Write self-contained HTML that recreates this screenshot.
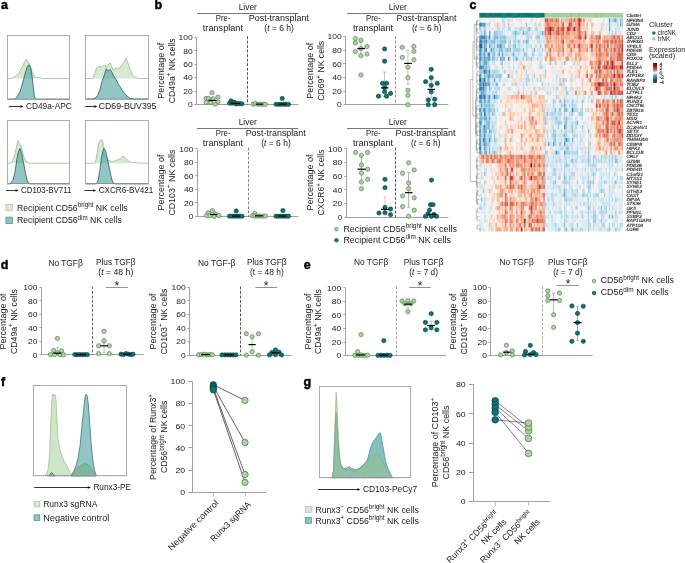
<!DOCTYPE html>
<html><head><meta charset="utf-8"><title>Figure</title>
<style>
html,body{margin:0;padding:0;background:#fff;}
body{width:685px;height:563px;overflow:hidden;}
svg{display:block;will-change:transform;}
text{font-family:"Liberation Sans",sans-serif;}
</style></head><body>
<svg width="685" height="563" viewBox="0 0 685 563" fill="#1a1a1a">
<rect width="685" height="563" fill="#fff"/>
<g stroke="#000" stroke-width="0.45" stroke-linejoin="round">
<text x="0.90" y="9.10" font-size="12.5" font-weight="bold" fill="#000">a</text>
<text x="154.50" y="8.60" font-size="12.5" font-weight="bold" fill="#000">b</text>
<text x="469.40" y="9.20" font-size="12.5" font-weight="bold" fill="#000">c</text>
<text x="0.70" y="269.10" font-size="12.5" font-weight="bold" fill="#000">d</text>
<text x="303.80" y="269.00" font-size="12.5" font-weight="bold" fill="#000">e</text>
<text x="0.90" y="385.90" font-size="12.5" font-weight="bold" fill="#000">f</text>
<text x="303.60" y="386.30" font-size="12.5" font-weight="bold" fill="#000">g</text>
</g>
<polygon points="7.20,78.60 11.20,78.60 12.16,78.08 13.12,77.44 14.08,76.80 15.04,76.63 16.00,76.00 17.07,74.63 18.13,73.89 19.20,72.80 20.27,70.57 21.33,68.22 22.40,66.40 23.60,64.01 24.80,61.60 26.10,59.20 27.20,60.60 28.50,62.40 29.45,64.08 30.40,66.40 32.00,71.20 33.20,73.95 34.40,76.80 35.60,77.05 36.80,77.90 37.87,77.48 38.93,77.58 40.00,77.50 41.20,78.05 42.40,78.60 69.90,78.60" fill="#d8e9d2"/>
<polyline points="7.20,78.60 11.20,78.60 12.16,78.08 13.12,77.44 14.08,76.80 15.04,76.63 16.00,76.00 17.07,74.63 18.13,73.89 19.20,72.80 20.27,70.57 21.33,68.22 22.40,66.40 23.60,64.01 24.80,61.60 26.10,59.20 27.20,60.60 28.50,62.40 29.45,64.08 30.40,66.40 32.00,71.20 33.20,73.95 34.40,76.80 35.60,77.05 36.80,77.90 37.87,77.48 38.93,77.58 40.00,77.50 41.20,78.05 42.40,78.60 69.90,78.60" fill="none" stroke="#8db383" stroke-width="0.7"/>
<polygon points="7.20,99.20 13.50,99.20 15.20,98.70 16.40,97.71 17.60,96.00 18.80,93.59 20.00,92.00 21.20,87.70 22.40,84.00 23.60,79.34 24.80,74.40 26.00,70.89 27.20,66.40 28.15,65.68 29.10,64.80 30.70,68.00 32.00,76.00 33.30,87.20 34.40,96.80 35.50,98.90 37.00,99.20 69.90,99.20" fill="#3b9997" fill-opacity="0.56"/>
<polyline points="7.20,99.20 13.50,99.20 15.20,98.70 16.40,97.71 17.60,96.00 18.80,93.59 20.00,92.00 21.20,87.70 22.40,84.00 23.60,79.34 24.80,74.40 26.00,70.89 27.20,66.40 28.15,65.68 29.10,64.80 30.70,68.00 32.00,76.00 33.30,87.20 34.40,96.80 35.50,98.90 37.00,99.20 69.90,99.20" fill="none" stroke="#1d5656" stroke-width="0.75"/>
<rect x="7.50" y="35.50" width="62.00" height="64.00" fill="none" stroke="#9a9a9a" stroke-width="0.8"/>
<path d="M8.77 99.20v-0.9M10.34 99.20v-0.9M11.90 99.20v-0.9M13.47 99.20v-0.9M15.04 99.20v-0.9M16.61 99.20v-0.9M18.17 99.20v-0.9M19.74 99.20v-0.9M21.31 99.20v-0.9M22.88 99.20v-0.9M24.44 99.20v-0.9M26.01 99.20v-0.9M27.58 99.20v-0.9M29.14 99.20v-0.9M30.71 99.20v-0.9M32.28 99.20v-0.9M33.85 99.20v-0.9M35.42 99.20v-0.9M36.98 99.20v-0.9M38.55 99.20v-0.9M40.12 99.20v-0.9M41.69 99.20v-0.9M43.25 99.20v-0.9M44.82 99.20v-0.9M46.39 99.20v-0.9M47.96 99.20v-0.9M49.52 99.20v-0.9M51.09 99.20v-0.9M52.66 99.20v-0.9M54.23 99.20v-0.9M55.79 99.20v-0.9M57.36 99.20v-0.9M58.93 99.20v-0.9M60.50 99.20v-0.9M62.06 99.20v-0.9M63.63 99.20v-0.9M65.20 99.20v-0.9M66.77 99.20v-0.9M68.33 99.20v-0.9" stroke="#555" stroke-width="0.3"/>
<line x1="8.80" y1="106.50" x2="21.20" y2="106.50" stroke="#000" stroke-width="0.8"/>
<polygon points="23.40,106.50 20.40,105.15 20.40,107.85" fill="#000"/>
<text x="25.90" y="109.30" font-size="8.7" textLength="45.90" lengthAdjust="spacingAndGlyphs">CD49a-APC</text>
<polygon points="85.40,78.50 92.60,78.50 93.80,75.53 95.00,72.70 96.60,67.90 97.80,67.43 99.00,66.30 100.20,66.38 101.40,67.10 102.40,66.55 103.40,65.50 105.00,65.00 106.20,67.50 107.35,65.95 108.50,64.70 110.10,62.80 111.50,66.00 113.30,70.30 114.50,68.85 115.70,67.90 117.50,68.80 118.60,68.08 119.70,67.90 120.90,66.17 122.10,64.70 123.30,63.32 124.50,61.50 126.10,58.30 127.70,62.30 128.90,65.68 130.10,69.50 131.30,72.36 132.50,75.10 133.57,76.00 134.63,76.61 135.70,77.50 136.77,77.83 137.83,78.17 138.90,78.50 148.50,78.50" fill="#d8e9d2"/>
<polyline points="85.40,78.50 92.60,78.50 93.80,75.53 95.00,72.70 96.60,67.90 97.80,67.43 99.00,66.30 100.20,66.38 101.40,67.10 102.40,66.55 103.40,65.50 105.00,65.00 106.20,67.50 107.35,65.95 108.50,64.70 110.10,62.80 111.50,66.00 113.30,70.30 114.50,68.85 115.70,67.90 117.50,68.80 118.60,68.08 119.70,67.90 120.90,66.17 122.10,64.70 123.30,63.32 124.50,61.50 126.10,58.30 127.70,62.30 128.90,65.68 130.10,69.50 131.30,72.36 132.50,75.10 133.57,76.00 134.63,76.61 135.70,77.50 136.77,77.83 137.83,78.17 138.90,78.50 148.50,78.50" fill="none" stroke="#8db383" stroke-width="0.7"/>
<polygon points="85.40,99.00 92.50,99.00 94.20,98.60 95.27,97.92 96.33,96.65 97.40,96.40 98.60,92.87 99.80,90.30 101.00,85.18 102.20,80.70 103.40,77.70 104.60,74.30 106.20,68.70 107.30,70.50 108.50,71.10 110.10,69.50 111.50,71.50 112.80,74.02 114.10,76.70 115.15,78.10 116.20,79.90 117.15,81.99 118.10,83.90 119.17,85.45 120.23,86.88 121.30,88.70 122.37,90.62 123.43,92.12 124.50,93.50 125.57,94.29 126.63,95.72 127.70,96.70 128.77,97.36 129.83,98.38 130.90,98.60 131.97,98.73 133.03,98.87 134.10,99.00 148.50,99.00" fill="#3b9997" fill-opacity="0.56"/>
<polyline points="85.40,99.00 92.50,99.00 94.20,98.60 95.27,97.92 96.33,96.65 97.40,96.40 98.60,92.87 99.80,90.30 101.00,85.18 102.20,80.70 103.40,77.70 104.60,74.30 106.20,68.70 107.30,70.50 108.50,71.10 110.10,69.50 111.50,71.50 112.80,74.02 114.10,76.70 115.15,78.10 116.20,79.90 117.15,81.99 118.10,83.90 119.17,85.45 120.23,86.88 121.30,88.70 122.37,90.62 123.43,92.12 124.50,93.50 125.57,94.29 126.63,95.72 127.70,96.70 128.77,97.36 129.83,98.38 130.90,98.60 131.97,98.73 133.03,98.87 134.10,99.00 148.50,99.00" fill="none" stroke="#1d5656" stroke-width="0.75"/>
<rect x="85.50" y="35.50" width="63.00" height="64.00" fill="none" stroke="#9a9a9a" stroke-width="0.8"/>
<path d="M86.98 99.00v-0.9M88.56 99.00v-0.9M90.13 99.00v-0.9M91.71 99.00v-0.9M93.29 99.00v-0.9M94.87 99.00v-0.9M96.44 99.00v-0.9M98.02 99.00v-0.9M99.60 99.00v-0.9M101.18 99.00v-0.9M102.75 99.00v-0.9M104.33 99.00v-0.9M105.91 99.00v-0.9M107.48 99.00v-0.9M109.06 99.00v-0.9M110.64 99.00v-0.9M112.22 99.00v-0.9M113.80 99.00v-0.9M115.37 99.00v-0.9M116.95 99.00v-0.9M118.53 99.00v-0.9M120.11 99.00v-0.9M121.68 99.00v-0.9M123.26 99.00v-0.9M124.84 99.00v-0.9M126.42 99.00v-0.9M127.99 99.00v-0.9M129.57 99.00v-0.9M131.15 99.00v-0.9M132.72 99.00v-0.9M134.30 99.00v-0.9M135.88 99.00v-0.9M137.46 99.00v-0.9M139.03 99.00v-0.9M140.61 99.00v-0.9M142.19 99.00v-0.9M143.77 99.00v-0.9M145.34 99.00v-0.9M146.92 99.00v-0.9" stroke="#555" stroke-width="0.3"/>
<line x1="84.90" y1="106.50" x2="95.10" y2="106.50" stroke="#000" stroke-width="0.8"/>
<polygon points="97.30,106.50 94.30,105.15 94.30,107.85" fill="#000"/>
<text x="98.70" y="109.30" font-size="8.7" textLength="57.80" lengthAdjust="spacingAndGlyphs">CD69-BUV395</text>
<polygon points="7.20,163.30 9.60,163.30 10.80,162.65 12.00,162.00 13.60,158.00 15.20,153.20 16.80,145.20 17.90,140.40 18.80,142.50 19.50,144.40 20.80,145.20 22.10,150.00 23.20,154.80 24.80,158.80 26.00,160.81 27.20,162.50 28.40,162.90 29.60,163.30 69.90,163.30" fill="#d8e9d2"/>
<polyline points="7.20,163.30 9.60,163.30 10.80,162.65 12.00,162.00 13.60,158.00 15.20,153.20 16.80,145.20 17.90,140.40 18.80,142.50 19.50,144.40 20.80,145.20 22.10,150.00 23.20,154.80 24.80,158.80 26.00,160.81 27.20,162.50 28.40,162.90 29.60,163.30 69.90,163.30" fill="none" stroke="#8db383" stroke-width="0.7"/>
<polygon points="7.20,183.90 9.50,183.90 10.40,183.60 11.60,181.77 12.80,180.40 14.00,176.13 15.20,170.80 16.80,159.60 18.40,151.60 20.00,148.40 21.60,153.20 23.20,161.20 24.25,166.38 25.30,172.40 26.25,176.31 27.20,180.40 28.80,183.60 30.00,183.90 69.90,183.90" fill="#3b9997" fill-opacity="0.56"/>
<polyline points="7.20,183.90 9.50,183.90 10.40,183.60 11.60,181.77 12.80,180.40 14.00,176.13 15.20,170.80 16.80,159.60 18.40,151.60 20.00,148.40 21.60,153.20 23.20,161.20 24.25,166.38 25.30,172.40 26.25,176.31 27.20,180.40 28.80,183.60 30.00,183.90 69.90,183.90" fill="none" stroke="#1d5656" stroke-width="0.75"/>
<rect x="7.50" y="120.50" width="62.00" height="63.00" fill="none" stroke="#9a9a9a" stroke-width="0.8"/>
<path d="M8.77 183.90v-0.9M10.34 183.90v-0.9M11.90 183.90v-0.9M13.47 183.90v-0.9M15.04 183.90v-0.9M16.61 183.90v-0.9M18.17 183.90v-0.9M19.74 183.90v-0.9M21.31 183.90v-0.9M22.88 183.90v-0.9M24.44 183.90v-0.9M26.01 183.90v-0.9M27.58 183.90v-0.9M29.14 183.90v-0.9M30.71 183.90v-0.9M32.28 183.90v-0.9M33.85 183.90v-0.9M35.42 183.90v-0.9M36.98 183.90v-0.9M38.55 183.90v-0.9M40.12 183.90v-0.9M41.69 183.90v-0.9M43.25 183.90v-0.9M44.82 183.90v-0.9M46.39 183.90v-0.9M47.96 183.90v-0.9M49.52 183.90v-0.9M51.09 183.90v-0.9M52.66 183.90v-0.9M54.23 183.90v-0.9M55.79 183.90v-0.9M57.36 183.90v-0.9M58.93 183.90v-0.9M60.50 183.90v-0.9M62.06 183.90v-0.9M63.63 183.90v-0.9M65.20 183.90v-0.9M66.77 183.90v-0.9M68.33 183.90v-0.9" stroke="#555" stroke-width="0.3"/>
<line x1="6.10" y1="190.50" x2="16.50" y2="190.50" stroke="#000" stroke-width="0.8"/>
<polygon points="18.70,190.50 15.70,189.15 15.70,191.85" fill="#000"/>
<text x="21.00" y="193.10" font-size="8.7" textLength="50.50" lengthAdjust="spacingAndGlyphs">CD103-BV711</text>
<polygon points="85.40,163.20 94.20,163.20 95.80,161.10 97.40,151.50 98.60,143.50 100.20,140.40 101.80,139.60 103.00,142.00 103.80,151.50 105.40,157.90 106.55,159.28 107.70,160.30 108.90,160.46 110.10,161.10 111.30,161.49 112.50,161.90 113.75,161.03 115.00,160.80 116.03,160.48 117.07,160.12 118.10,159.50 119.30,159.15 120.50,158.70 121.70,157.61 122.90,156.00 124.50,157.10 125.70,158.17 126.90,159.50 127.97,160.44 129.03,161.17 130.10,161.90 131.30,162.36 132.50,162.70 133.57,162.60 134.63,162.50 135.70,162.40 136.80,162.67 137.90,162.93 139.00,163.20 148.50,163.20" fill="#d8e9d2"/>
<polyline points="85.40,163.20 94.20,163.20 95.80,161.10 97.40,151.50 98.60,143.50 100.20,140.40 101.80,139.60 103.00,142.00 103.80,151.50 105.40,157.90 106.55,159.28 107.70,160.30 108.90,160.46 110.10,161.10 111.30,161.49 112.50,161.90 113.75,161.03 115.00,160.80 116.03,160.48 117.07,160.12 118.10,159.50 119.30,159.15 120.50,158.70 121.70,157.61 122.90,156.00 124.50,157.10 125.70,158.17 126.90,159.50 127.97,160.44 129.03,161.17 130.10,161.90 131.30,162.36 132.50,162.70 133.57,162.60 134.63,162.50 135.70,162.40 136.80,162.67 137.90,162.93 139.00,163.20 148.50,163.20" fill="none" stroke="#8db383" stroke-width="0.7"/>
<polygon points="85.40,183.90 95.50,183.90 96.60,183.60 98.20,180.30 99.80,170.70 101.40,157.90 103.00,150.70 104.10,148.30 105.70,151.20 106.90,156.30 108.50,164.30 109.50,169.05 110.50,173.90 112.10,180.30 113.70,183.50 115.00,183.90 148.50,183.90" fill="#3b9997" fill-opacity="0.56"/>
<polyline points="85.40,183.90 95.50,183.90 96.60,183.60 98.20,180.30 99.80,170.70 101.40,157.90 103.00,150.70 104.10,148.30 105.70,151.20 106.90,156.30 108.50,164.30 109.50,169.05 110.50,173.90 112.10,180.30 113.70,183.50 115.00,183.90 148.50,183.90" fill="none" stroke="#1d5656" stroke-width="0.75"/>
<rect x="85.50" y="120.50" width="63.00" height="63.00" fill="none" stroke="#9a9a9a" stroke-width="0.8"/>
<path d="M86.98 183.90v-0.9M88.56 183.90v-0.9M90.13 183.90v-0.9M91.71 183.90v-0.9M93.29 183.90v-0.9M94.87 183.90v-0.9M96.44 183.90v-0.9M98.02 183.90v-0.9M99.60 183.90v-0.9M101.18 183.90v-0.9M102.75 183.90v-0.9M104.33 183.90v-0.9M105.91 183.90v-0.9M107.48 183.90v-0.9M109.06 183.90v-0.9M110.64 183.90v-0.9M112.22 183.90v-0.9M113.80 183.90v-0.9M115.37 183.90v-0.9M116.95 183.90v-0.9M118.53 183.90v-0.9M120.11 183.90v-0.9M121.68 183.90v-0.9M123.26 183.90v-0.9M124.84 183.90v-0.9M126.42 183.90v-0.9M127.99 183.90v-0.9M129.57 183.90v-0.9M131.15 183.90v-0.9M132.72 183.90v-0.9M134.30 183.90v-0.9M135.88 183.90v-0.9M137.46 183.90v-0.9M139.03 183.90v-0.9M140.61 183.90v-0.9M142.19 183.90v-0.9M143.77 183.90v-0.9M145.34 183.90v-0.9M146.92 183.90v-0.9" stroke="#555" stroke-width="0.3"/>
<line x1="84.40" y1="190.50" x2="93.90" y2="190.50" stroke="#000" stroke-width="0.8"/>
<polygon points="96.10,190.50 93.10,189.15 93.10,191.85" fill="#000"/>
<text x="98.70" y="193.10" font-size="8.7" textLength="54.70" lengthAdjust="spacingAndGlyphs">CXCR6-BV421</text>
<rect x="5.9" y="204.3" width="6.6" height="6.5" fill="#d8e9d2" stroke="#9dc193" stroke-width="0.6"/>
<text x="16.90" y="210.50" font-size="8.7" textLength="110.80" lengthAdjust="spacingAndGlyphs">Recipient CD56<tspan dy="-3.5" font-size="6.3">bright</tspan><tspan dy="3.5"> NK cells</tspan></text>
<rect x="5.9" y="217.1" width="6.6" height="6.6" fill="#8ec3c1" stroke="#3e7f7e" stroke-width="0.6"/>
<text x="16.90" y="223.40" font-size="8.7" textLength="105.00" lengthAdjust="spacingAndGlyphs">Recipient CD56<tspan dy="-3.5" font-size="6.3">dim</tspan><tspan dy="3.5"> NK cells</tspan></text>
<text x="247.80" y="9.60" font-size="8.7" text-anchor="middle" textLength="18.20" lengthAdjust="spacingAndGlyphs">Liver</text>
<line x1="197.00" y1="13.50" x2="298.30" y2="13.50" stroke="#555" stroke-width="0.8"/>
<text x="223.20" y="20.70" font-size="8.7" text-anchor="middle" textLength="14.70" lengthAdjust="spacingAndGlyphs">Pre-</text>
<text x="222.90" y="31.20" font-size="8.7" text-anchor="middle" textLength="40.20" lengthAdjust="spacingAndGlyphs">transplant</text>
<text x="278.80" y="20.70" font-size="8.7" text-anchor="middle" textLength="60.10" lengthAdjust="spacingAndGlyphs">Post-transplant</text>
<text x="279.10" y="31.20" font-size="8.7" text-anchor="middle" textLength="29.60" lengthAdjust="spacingAndGlyphs">(<tspan font-style="italic">t</tspan> = 6 h)</text>
<path d="M196.50 37.40V104.50H298.30M194.30 104.50H196.50M194.30 91.50H196.50M194.30 77.50H196.50M194.30 64.50H196.50M194.30 50.50H196.50M194.30 37.50H196.50" fill="none" stroke="#8a8a8a" stroke-width="0.8"/>
<text x="192.80" y="107.25" font-size="7.6" text-anchor="end" textLength="4.73" lengthAdjust="spacingAndGlyphs">0</text>
<text x="192.80" y="93.83" font-size="7.6" text-anchor="end" textLength="9.47" lengthAdjust="spacingAndGlyphs">20</text>
<text x="192.80" y="80.41" font-size="7.6" text-anchor="end" textLength="9.47" lengthAdjust="spacingAndGlyphs">40</text>
<text x="192.80" y="66.99" font-size="7.6" text-anchor="end" textLength="9.47" lengthAdjust="spacingAndGlyphs">60</text>
<text x="192.80" y="53.57" font-size="7.6" text-anchor="end" textLength="9.47" lengthAdjust="spacingAndGlyphs">80</text>
<text x="192.80" y="40.15" font-size="7.6" text-anchor="end" textLength="14.20" lengthAdjust="spacingAndGlyphs">100</text>
<line x1="247.50" y1="36.20" x2="247.50" y2="104.50" stroke="#444" stroke-width="0.9" stroke-dasharray="2.9,1.6"/>
<text x="163.60" y="70.80" font-size="8.7" text-anchor="middle" textLength="56.00" lengthAdjust="spacingAndGlyphs" transform="rotate(-90 163.60 70.80)">Percentage of</text>
<text x="174.70" y="70.80" font-size="8.7" text-anchor="middle" textLength="64.80" lengthAdjust="spacingAndGlyphs" transform="rotate(-90 174.70 70.80)">CD49a<tspan dy="-3.5" font-size="6.3">+</tspan><tspan dy="3.5"> NK cells</tspan></text>
<circle cx="212.00" cy="92.76" r="2.15" fill="#a8d5a0" stroke="#4f6e4a" stroke-width="0.6"/>
<circle cx="206.20" cy="98.46" r="2.15" fill="#a8d5a0" stroke="#4f6e4a" stroke-width="0.6"/>
<circle cx="208.40" cy="98.46" r="2.15" fill="#a8d5a0" stroke="#4f6e4a" stroke-width="0.6"/>
<circle cx="217.90" cy="97.12" r="2.15" fill="#a8d5a0" stroke="#4f6e4a" stroke-width="0.6"/>
<circle cx="213.10" cy="98.80" r="2.15" fill="#a8d5a0" stroke="#4f6e4a" stroke-width="0.6"/>
<circle cx="206.20" cy="102.49" r="2.15" fill="#a8d5a0" stroke="#4f6e4a" stroke-width="0.6"/>
<circle cx="210.60" cy="102.49" r="2.15" fill="#a8d5a0" stroke="#4f6e4a" stroke-width="0.6"/>
<circle cx="217.90" cy="101.82" r="2.15" fill="#a8d5a0" stroke="#4f6e4a" stroke-width="0.6"/>
<circle cx="215.30" cy="104.16" r="2.15" fill="#a8d5a0" stroke="#4f6e4a" stroke-width="0.6"/>
<line x1="208.40" y1="100.47" x2="216.50" y2="100.47" stroke="#000" stroke-width="1.2"/>
<circle cx="231.00" cy="100.81" r="2.15" fill="#0c7474" stroke="#083c3c" stroke-width="0.6"/>
<circle cx="229.60" cy="103.16" r="2.15" fill="#0c7474" stroke="#083c3c" stroke-width="0.6"/>
<circle cx="232.10" cy="103.16" r="2.15" fill="#0c7474" stroke="#083c3c" stroke-width="0.6"/>
<circle cx="234.30" cy="102.22" r="2.15" fill="#0c7474" stroke="#083c3c" stroke-width="0.6"/>
<circle cx="235.80" cy="103.96" r="2.15" fill="#0c7474" stroke="#083c3c" stroke-width="0.6"/>
<circle cx="238.00" cy="103.63" r="2.15" fill="#0c7474" stroke="#083c3c" stroke-width="0.6"/>
<circle cx="239.80" cy="103.63" r="2.15" fill="#0c7474" stroke="#083c3c" stroke-width="0.6"/>
<circle cx="242.00" cy="103.83" r="2.15" fill="#0c7474" stroke="#083c3c" stroke-width="0.6"/>
<line x1="231.00" y1="103.49" x2="240.00" y2="103.49" stroke="#000" stroke-width="1.2"/>
<circle cx="253.00" cy="104.16" r="2.15" fill="#a8d5a0" stroke="#4f6e4a" stroke-width="0.6"/>
<circle cx="255.50" cy="103.49" r="2.15" fill="#a8d5a0" stroke="#4f6e4a" stroke-width="0.6"/>
<circle cx="258.00" cy="104.30" r="2.15" fill="#a8d5a0" stroke="#4f6e4a" stroke-width="0.6"/>
<circle cx="260.50" cy="104.16" r="2.15" fill="#a8d5a0" stroke="#4f6e4a" stroke-width="0.6"/>
<circle cx="263.00" cy="104.30" r="2.15" fill="#a8d5a0" stroke="#4f6e4a" stroke-width="0.6"/>
<circle cx="265.50" cy="104.30" r="2.15" fill="#a8d5a0" stroke="#4f6e4a" stroke-width="0.6"/>
<line x1="256.00" y1="104.16" x2="263.00" y2="104.16" stroke="#000" stroke-width="1.2"/>
<circle cx="282.20" cy="98.46" r="2.15" fill="#0c7474" stroke="#083c3c" stroke-width="0.6"/>
<circle cx="276.00" cy="104.30" r="2.15" fill="#0c7474" stroke="#083c3c" stroke-width="0.6"/>
<circle cx="278.50" cy="104.30" r="2.15" fill="#0c7474" stroke="#083c3c" stroke-width="0.6"/>
<circle cx="281.00" cy="104.30" r="2.15" fill="#0c7474" stroke="#083c3c" stroke-width="0.6"/>
<circle cx="283.50" cy="104.30" r="2.15" fill="#0c7474" stroke="#083c3c" stroke-width="0.6"/>
<circle cx="286.00" cy="104.30" r="2.15" fill="#0c7474" stroke="#083c3c" stroke-width="0.6"/>
<circle cx="288.50" cy="104.30" r="2.15" fill="#0c7474" stroke="#083c3c" stroke-width="0.6"/>
<line x1="278.00" y1="104.16" x2="286.00" y2="104.16" stroke="#000" stroke-width="1.2"/>
<text x="397.80" y="9.60" font-size="8.7" text-anchor="middle" textLength="18.20" lengthAdjust="spacingAndGlyphs">Liver</text>
<line x1="347.00" y1="13.50" x2="448.30" y2="13.50" stroke="#555" stroke-width="0.8"/>
<text x="373.30" y="20.70" font-size="8.7" text-anchor="middle" textLength="14.70" lengthAdjust="spacingAndGlyphs">Pre-</text>
<text x="373.00" y="31.20" font-size="8.7" text-anchor="middle" textLength="40.20" lengthAdjust="spacingAndGlyphs">transplant</text>
<text x="426.50" y="20.70" font-size="8.7" text-anchor="middle" textLength="60.10" lengthAdjust="spacingAndGlyphs">Post-transplant</text>
<text x="426.80" y="31.20" font-size="8.7" text-anchor="middle" textLength="29.60" lengthAdjust="spacingAndGlyphs">(<tspan font-style="italic">t</tspan> = 6 h)</text>
<path d="M345.50 36.70V104.50H448.30M343.30 104.50H345.50M343.30 91.50H345.50M343.30 77.50H345.50M343.30 63.50H345.50M343.30 50.50H345.50M343.30 36.50H345.50" fill="none" stroke="#8a8a8a" stroke-width="0.8"/>
<text x="341.70" y="107.45" font-size="7.6" text-anchor="end" textLength="4.73" lengthAdjust="spacingAndGlyphs">0</text>
<text x="341.70" y="93.85" font-size="7.6" text-anchor="end" textLength="9.47" lengthAdjust="spacingAndGlyphs">20</text>
<text x="341.70" y="80.25" font-size="7.6" text-anchor="end" textLength="9.47" lengthAdjust="spacingAndGlyphs">40</text>
<text x="341.70" y="66.65" font-size="7.6" text-anchor="end" textLength="9.47" lengthAdjust="spacingAndGlyphs">60</text>
<text x="341.70" y="53.05" font-size="7.6" text-anchor="end" textLength="9.47" lengthAdjust="spacingAndGlyphs">80</text>
<text x="341.70" y="39.45" font-size="7.6" text-anchor="end" textLength="14.20" lengthAdjust="spacingAndGlyphs">100</text>
<line x1="395.50" y1="36.20" x2="395.50" y2="104.70" stroke="#888" stroke-width="0.9" stroke-dasharray="2.9,1.6"/>
<text x="313.40" y="70.80" font-size="8.7" text-anchor="middle" textLength="56.00" lengthAdjust="spacingAndGlyphs" transform="rotate(-90 313.40 70.80)">Percentage of</text>
<text x="324.50" y="70.80" font-size="8.7" text-anchor="middle" textLength="60.00" lengthAdjust="spacingAndGlyphs" transform="rotate(-90 324.50 70.80)">CD69<tspan dy="-3.5" font-size="6.3">+</tspan><tspan dy="3.5"> NK cells</tspan></text>
<path d="M360.90 55.06V42.82M359.30 55.06h3.20M359.30 42.82h3.20" stroke="#999" stroke-width="0.6" fill="none"/>
<circle cx="355.30" cy="38.54" r="2.15" fill="#a8d5a0" stroke="#4f6e4a" stroke-width="0.6"/>
<circle cx="355.30" cy="42.89" r="2.15" fill="#a8d5a0" stroke="#4f6e4a" stroke-width="0.6"/>
<circle cx="360.90" cy="40.17" r="2.15" fill="#a8d5a0" stroke="#4f6e4a" stroke-width="0.6"/>
<circle cx="367.00" cy="46.56" r="2.15" fill="#a8d5a0" stroke="#4f6e4a" stroke-width="0.6"/>
<circle cx="355.30" cy="51.66" r="2.15" fill="#a8d5a0" stroke="#4f6e4a" stroke-width="0.6"/>
<circle cx="367.00" cy="54.04" r="2.15" fill="#a8d5a0" stroke="#4f6e4a" stroke-width="0.6"/>
<circle cx="360.90" cy="55.67" r="2.15" fill="#a8d5a0" stroke="#4f6e4a" stroke-width="0.6"/>
<circle cx="360.90" cy="74.98" r="2.15" fill="#a8d5a0" stroke="#4f6e4a" stroke-width="0.6"/>
<circle cx="360.90" cy="48.60" r="2.15" fill="#a8d5a0" stroke="#4f6e4a" stroke-width="0.6"/>
<line x1="357.30" y1="48.53" x2="364.90" y2="48.53" stroke="#000" stroke-width="1.2"/>
<path d="M384.60 96.54V72.06M383.00 96.54h3.20M383.00 72.06h3.20" stroke="#999" stroke-width="0.6" fill="none"/>
<circle cx="384.60" cy="48.94" r="2.15" fill="#0c7474" stroke="#083c3c" stroke-width="0.6"/>
<circle cx="384.60" cy="61.18" r="2.15" fill="#0c7474" stroke="#083c3c" stroke-width="0.6"/>
<circle cx="382.50" cy="83.28" r="2.15" fill="#0c7474" stroke="#083c3c" stroke-width="0.6"/>
<circle cx="386.60" cy="83.28" r="2.15" fill="#0c7474" stroke="#083c3c" stroke-width="0.6"/>
<circle cx="384.60" cy="91.78" r="2.15" fill="#0c7474" stroke="#083c3c" stroke-width="0.6"/>
<circle cx="378.50" cy="96.20" r="2.15" fill="#0c7474" stroke="#083c3c" stroke-width="0.6"/>
<circle cx="386.60" cy="96.20" r="2.15" fill="#0c7474" stroke="#083c3c" stroke-width="0.6"/>
<circle cx="390.60" cy="93.41" r="2.15" fill="#0c7474" stroke="#083c3c" stroke-width="0.6"/>
<circle cx="384.60" cy="87.70" r="2.15" fill="#0c7474" stroke="#083c3c" stroke-width="0.6"/>
<line x1="381.00" y1="87.84" x2="388.50" y2="87.84" stroke="#000" stroke-width="1.2"/>
<path d="M407.90 84.30V50.30M406.30 84.30h3.20M406.30 50.30h3.20" stroke="#999" stroke-width="0.6" fill="none"/>
<circle cx="402.30" cy="47.31" r="2.15" fill="#a8d5a0" stroke="#4f6e4a" stroke-width="0.6"/>
<circle cx="413.90" cy="46.42" r="2.15" fill="#a8d5a0" stroke="#4f6e4a" stroke-width="0.6"/>
<circle cx="413.90" cy="51.39" r="2.15" fill="#a8d5a0" stroke="#4f6e4a" stroke-width="0.6"/>
<circle cx="402.30" cy="57.30" r="2.15" fill="#a8d5a0" stroke="#4f6e4a" stroke-width="0.6"/>
<circle cx="413.90" cy="59.68" r="2.15" fill="#a8d5a0" stroke="#4f6e4a" stroke-width="0.6"/>
<circle cx="407.90" cy="67.30" r="2.15" fill="#a8d5a0" stroke="#4f6e4a" stroke-width="0.6"/>
<circle cx="407.90" cy="77.70" r="2.15" fill="#a8d5a0" stroke="#4f6e4a" stroke-width="0.6"/>
<circle cx="407.90" cy="90.22" r="2.15" fill="#a8d5a0" stroke="#4f6e4a" stroke-width="0.6"/>
<circle cx="407.90" cy="95.38" r="2.15" fill="#a8d5a0" stroke="#4f6e4a" stroke-width="0.6"/>
<circle cx="407.90" cy="104.70" r="2.15" fill="#a8d5a0" stroke="#4f6e4a" stroke-width="0.6"/>
<line x1="404.20" y1="63.42" x2="411.80" y2="63.42" stroke="#000" stroke-width="1.2"/>
<path d="M431.20 97.90V80.90M429.60 97.90h3.20M429.60 80.90h3.20" stroke="#999" stroke-width="0.6" fill="none"/>
<circle cx="431.20" cy="69.34" r="2.15" fill="#0c7474" stroke="#083c3c" stroke-width="0.6"/>
<circle cx="431.20" cy="77.70" r="2.15" fill="#0c7474" stroke="#083c3c" stroke-width="0.6"/>
<circle cx="425.60" cy="81.72" r="2.15" fill="#0c7474" stroke="#083c3c" stroke-width="0.6"/>
<circle cx="437.20" cy="83.28" r="2.15" fill="#0c7474" stroke="#083c3c" stroke-width="0.6"/>
<circle cx="431.20" cy="85.39" r="2.15" fill="#0c7474" stroke="#083c3c" stroke-width="0.6"/>
<circle cx="431.20" cy="91.78" r="2.15" fill="#0c7474" stroke="#083c3c" stroke-width="0.6"/>
<circle cx="428.30" cy="99.94" r="2.15" fill="#0c7474" stroke="#083c3c" stroke-width="0.6"/>
<circle cx="434.70" cy="99.26" r="2.15" fill="#0c7474" stroke="#083c3c" stroke-width="0.6"/>
<circle cx="428.30" cy="104.70" r="2.15" fill="#0c7474" stroke="#083c3c" stroke-width="0.6"/>
<circle cx="434.70" cy="104.70" r="2.15" fill="#0c7474" stroke="#083c3c" stroke-width="0.6"/>
<line x1="427.50" y1="89.40" x2="435.00" y2="89.40" stroke="#000" stroke-width="1.2"/>
<text x="247.80" y="124.80" font-size="8.7" text-anchor="middle" textLength="18.20" lengthAdjust="spacingAndGlyphs">Liver</text>
<line x1="197.00" y1="128.50" x2="298.30" y2="128.50" stroke="#555" stroke-width="0.8"/>
<text x="223.20" y="135.90" font-size="8.7" text-anchor="middle" textLength="14.70" lengthAdjust="spacingAndGlyphs">Pre-</text>
<text x="222.90" y="146.40" font-size="8.7" text-anchor="middle" textLength="40.20" lengthAdjust="spacingAndGlyphs">transplant</text>
<text x="275.70" y="135.90" font-size="8.7" text-anchor="middle" textLength="60.10" lengthAdjust="spacingAndGlyphs">Post-transplant</text>
<text x="276.00" y="146.40" font-size="8.7" text-anchor="middle" textLength="29.60" lengthAdjust="spacingAndGlyphs">(<tspan font-style="italic">t</tspan> = 6 h)</text>
<path d="M197.50 148.90V216.50H298.30M195.30 216.50H197.50M195.30 202.50H197.50M195.30 189.50H197.50M195.30 175.50H197.50M195.30 162.50H197.50M195.30 148.50H197.50" fill="none" stroke="#8a8a8a" stroke-width="0.8"/>
<text x="193.40" y="219.15" font-size="7.6" text-anchor="end" textLength="4.73" lengthAdjust="spacingAndGlyphs">0</text>
<text x="193.40" y="205.65" font-size="7.6" text-anchor="end" textLength="9.47" lengthAdjust="spacingAndGlyphs">20</text>
<text x="193.40" y="192.15" font-size="7.6" text-anchor="end" textLength="9.47" lengthAdjust="spacingAndGlyphs">40</text>
<text x="193.40" y="178.65" font-size="7.6" text-anchor="end" textLength="9.47" lengthAdjust="spacingAndGlyphs">60</text>
<text x="193.40" y="165.15" font-size="7.6" text-anchor="end" textLength="9.47" lengthAdjust="spacingAndGlyphs">80</text>
<text x="193.40" y="151.65" font-size="7.6" text-anchor="end" textLength="14.20" lengthAdjust="spacingAndGlyphs">100</text>
<line x1="248.50" y1="147.60" x2="248.50" y2="216.40" stroke="#777" stroke-width="0.9" stroke-dasharray="2.9,1.6"/>
<text x="163.60" y="182.60" font-size="8.7" text-anchor="middle" textLength="56.00" lengthAdjust="spacingAndGlyphs" transform="rotate(-90 163.60 182.60)">Percentage of</text>
<text x="174.70" y="182.60" font-size="8.7" text-anchor="middle" textLength="66.00" lengthAdjust="spacingAndGlyphs" transform="rotate(-90 174.70 182.60)">CD103<tspan dy="-3.5" font-size="6.3">+</tspan><tspan dy="3.5"> NK cells</tspan></text>
<circle cx="212.40" cy="210.66" r="2.15" fill="#a8d5a0" stroke="#4f6e4a" stroke-width="0.6"/>
<circle cx="208.30" cy="212.69" r="2.15" fill="#a8d5a0" stroke="#4f6e4a" stroke-width="0.6"/>
<circle cx="215.30" cy="213.90" r="2.15" fill="#a8d5a0" stroke="#4f6e4a" stroke-width="0.6"/>
<circle cx="206.50" cy="215.59" r="2.15" fill="#a8d5a0" stroke="#4f6e4a" stroke-width="0.6"/>
<circle cx="210.00" cy="215.59" r="2.15" fill="#a8d5a0" stroke="#4f6e4a" stroke-width="0.6"/>
<circle cx="214.10" cy="216.40" r="2.15" fill="#a8d5a0" stroke="#4f6e4a" stroke-width="0.6"/>
<circle cx="218.80" cy="215.59" r="2.15" fill="#a8d5a0" stroke="#4f6e4a" stroke-width="0.6"/>
<line x1="210.00" y1="214.51" x2="217.00" y2="214.51" stroke="#000" stroke-width="1.2"/>
<circle cx="236.30" cy="211.00" r="2.15" fill="#0c7474" stroke="#083c3c" stroke-width="0.6"/>
<circle cx="229.50" cy="216.20" r="2.15" fill="#0c7474" stroke="#083c3c" stroke-width="0.6"/>
<circle cx="232.00" cy="216.20" r="2.15" fill="#0c7474" stroke="#083c3c" stroke-width="0.6"/>
<circle cx="234.50" cy="216.20" r="2.15" fill="#0c7474" stroke="#083c3c" stroke-width="0.6"/>
<circle cx="237.00" cy="216.20" r="2.15" fill="#0c7474" stroke="#083c3c" stroke-width="0.6"/>
<circle cx="239.50" cy="216.20" r="2.15" fill="#0c7474" stroke="#083c3c" stroke-width="0.6"/>
<circle cx="242.00" cy="216.20" r="2.15" fill="#0c7474" stroke="#083c3c" stroke-width="0.6"/>
<line x1="232.00" y1="216.06" x2="240.00" y2="216.06" stroke="#000" stroke-width="1.2"/>
<circle cx="254.80" cy="213.56" r="2.15" fill="#a8d5a0" stroke="#4f6e4a" stroke-width="0.6"/>
<circle cx="252.50" cy="215.72" r="2.15" fill="#a8d5a0" stroke="#4f6e4a" stroke-width="0.6"/>
<circle cx="255.00" cy="216.06" r="2.15" fill="#a8d5a0" stroke="#4f6e4a" stroke-width="0.6"/>
<circle cx="257.50" cy="216.06" r="2.15" fill="#a8d5a0" stroke="#4f6e4a" stroke-width="0.6"/>
<circle cx="260.00" cy="216.06" r="2.15" fill="#a8d5a0" stroke="#4f6e4a" stroke-width="0.6"/>
<circle cx="262.50" cy="216.06" r="2.15" fill="#a8d5a0" stroke="#4f6e4a" stroke-width="0.6"/>
<circle cx="265.50" cy="216.06" r="2.15" fill="#a8d5a0" stroke="#4f6e4a" stroke-width="0.6"/>
<line x1="255.00" y1="215.86" x2="263.00" y2="215.86" stroke="#000" stroke-width="1.2"/>
<circle cx="282.90" cy="210.59" r="2.15" fill="#0c7474" stroke="#083c3c" stroke-width="0.6"/>
<circle cx="276.00" cy="216.20" r="2.15" fill="#0c7474" stroke="#083c3c" stroke-width="0.6"/>
<circle cx="278.50" cy="216.20" r="2.15" fill="#0c7474" stroke="#083c3c" stroke-width="0.6"/>
<circle cx="281.00" cy="216.20" r="2.15" fill="#0c7474" stroke="#083c3c" stroke-width="0.6"/>
<circle cx="283.50" cy="216.20" r="2.15" fill="#0c7474" stroke="#083c3c" stroke-width="0.6"/>
<circle cx="286.00" cy="216.20" r="2.15" fill="#0c7474" stroke="#083c3c" stroke-width="0.6"/>
<circle cx="288.50" cy="216.20" r="2.15" fill="#0c7474" stroke="#083c3c" stroke-width="0.6"/>
<line x1="278.00" y1="216.06" x2="286.00" y2="216.06" stroke="#000" stroke-width="1.2"/>
<text x="397.80" y="124.80" font-size="8.7" text-anchor="middle" textLength="18.20" lengthAdjust="spacingAndGlyphs">Liver</text>
<line x1="347.00" y1="128.50" x2="448.30" y2="128.50" stroke="#555" stroke-width="0.8"/>
<text x="373.30" y="135.90" font-size="8.7" text-anchor="middle" textLength="14.70" lengthAdjust="spacingAndGlyphs">Pre-</text>
<text x="373.00" y="146.40" font-size="8.7" text-anchor="middle" textLength="40.20" lengthAdjust="spacingAndGlyphs">transplant</text>
<text x="425.50" y="135.90" font-size="8.7" text-anchor="middle" textLength="60.10" lengthAdjust="spacingAndGlyphs">Post-transplant</text>
<text x="425.80" y="146.40" font-size="8.7" text-anchor="middle" textLength="29.60" lengthAdjust="spacingAndGlyphs">(<tspan font-style="italic">t</tspan> = 6 h)</text>
<path d="M346.50 148.80V217.50H448.30M344.30 217.50H346.50M344.30 203.50H346.50M344.30 189.50H346.50M344.30 176.50H346.50M344.30 162.50H346.50M344.30 148.50H346.50" fill="none" stroke="#8a8a8a" stroke-width="0.8"/>
<text x="342.30" y="219.85" font-size="7.6" text-anchor="end" textLength="4.73" lengthAdjust="spacingAndGlyphs">0</text>
<text x="342.30" y="206.19" font-size="7.6" text-anchor="end" textLength="9.47" lengthAdjust="spacingAndGlyphs">20</text>
<text x="342.30" y="192.53" font-size="7.6" text-anchor="end" textLength="9.47" lengthAdjust="spacingAndGlyphs">40</text>
<text x="342.30" y="178.87" font-size="7.6" text-anchor="end" textLength="9.47" lengthAdjust="spacingAndGlyphs">60</text>
<text x="342.30" y="165.21" font-size="7.6" text-anchor="end" textLength="9.47" lengthAdjust="spacingAndGlyphs">80</text>
<text x="342.30" y="151.55" font-size="7.6" text-anchor="end" textLength="14.20" lengthAdjust="spacingAndGlyphs">100</text>
<line x1="395.50" y1="147.60" x2="395.50" y2="217.10" stroke="#444" stroke-width="0.9" stroke-dasharray="2.9,1.6"/>
<text x="313.40" y="182.60" font-size="8.7" text-anchor="middle" textLength="56.00" lengthAdjust="spacingAndGlyphs" transform="rotate(-90 313.40 182.60)">Percentage of</text>
<text x="324.50" y="182.60" font-size="8.7" text-anchor="middle" textLength="66.00" lengthAdjust="spacingAndGlyphs" transform="rotate(-90 324.50 182.60)">CXCR6<tspan dy="-3.5" font-size="6.3">+</tspan><tspan dy="3.5"> NK cells</tspan></text>
<path d="M361.40 182.10V155.30M359.80 182.10h3.20M359.80 155.30h3.20" stroke="#777" stroke-width="0.6" fill="none"/>
<circle cx="355.60" cy="152.40" r="2.15" fill="#a8d5a0" stroke="#4f6e4a" stroke-width="0.6"/>
<circle cx="367.60" cy="152.40" r="2.15" fill="#a8d5a0" stroke="#4f6e4a" stroke-width="0.6"/>
<circle cx="361.40" cy="155.30" r="2.15" fill="#a8d5a0" stroke="#4f6e4a" stroke-width="0.6"/>
<circle cx="361.40" cy="164.90" r="2.15" fill="#a8d5a0" stroke="#4f6e4a" stroke-width="0.6"/>
<circle cx="367.60" cy="169.20" r="2.15" fill="#a8d5a0" stroke="#4f6e4a" stroke-width="0.6"/>
<circle cx="361.40" cy="172.90" r="2.15" fill="#a8d5a0" stroke="#4f6e4a" stroke-width="0.6"/>
<circle cx="367.60" cy="179.30" r="2.15" fill="#a8d5a0" stroke="#4f6e4a" stroke-width="0.6"/>
<circle cx="361.40" cy="182.10" r="2.15" fill="#a8d5a0" stroke="#4f6e4a" stroke-width="0.6"/>
<circle cx="361.40" cy="188.70" r="2.15" fill="#a8d5a0" stroke="#4f6e4a" stroke-width="0.6"/>
<line x1="357.50" y1="169.20" x2="365.50" y2="169.20" stroke="#000" stroke-width="1.2"/>
<path d="M385.00 213.00V197.00M383.40 213.00h3.20M383.40 197.00h3.20" stroke="#aaa" stroke-width="0.6" fill="none"/>
<circle cx="385.00" cy="179.30" r="2.15" fill="#0c7474" stroke="#083c3c" stroke-width="0.6"/>
<circle cx="385.00" cy="187.70" r="2.15" fill="#0c7474" stroke="#083c3c" stroke-width="0.6"/>
<circle cx="385.00" cy="207.40" r="2.15" fill="#0c7474" stroke="#083c3c" stroke-width="0.6"/>
<circle cx="379.00" cy="213.00" r="2.15" fill="#0c7474" stroke="#083c3c" stroke-width="0.6"/>
<circle cx="385.00" cy="212.70" r="2.15" fill="#0c7474" stroke="#083c3c" stroke-width="0.6"/>
<circle cx="390.60" cy="209.00" r="2.15" fill="#0c7474" stroke="#083c3c" stroke-width="0.6"/>
<circle cx="390.60" cy="214.70" r="2.15" fill="#0c7474" stroke="#083c3c" stroke-width="0.6"/>
<line x1="381.00" y1="209.40" x2="389.00" y2="209.40" stroke="#000" stroke-width="1.2"/>
<path d="M408.60 207.10V172.40M407.00 207.10h3.20M407.00 172.40h3.20" stroke="#777" stroke-width="0.6" fill="none"/>
<circle cx="408.60" cy="162.80" r="2.15" fill="#a8d5a0" stroke="#4f6e4a" stroke-width="0.6"/>
<circle cx="414.20" cy="170.00" r="2.15" fill="#a8d5a0" stroke="#4f6e4a" stroke-width="0.6"/>
<circle cx="402.60" cy="173.20" r="2.15" fill="#a8d5a0" stroke="#4f6e4a" stroke-width="0.6"/>
<circle cx="408.60" cy="183.00" r="2.15" fill="#a8d5a0" stroke="#4f6e4a" stroke-width="0.6"/>
<circle cx="408.60" cy="188.70" r="2.15" fill="#a8d5a0" stroke="#4f6e4a" stroke-width="0.6"/>
<circle cx="402.60" cy="195.90" r="2.15" fill="#a8d5a0" stroke="#4f6e4a" stroke-width="0.6"/>
<circle cx="414.20" cy="197.80" r="2.15" fill="#a8d5a0" stroke="#4f6e4a" stroke-width="0.6"/>
<circle cx="402.60" cy="206.60" r="2.15" fill="#a8d5a0" stroke="#4f6e4a" stroke-width="0.6"/>
<circle cx="414.20" cy="210.20" r="2.15" fill="#a8d5a0" stroke="#4f6e4a" stroke-width="0.6"/>
<circle cx="408.60" cy="216.30" r="2.15" fill="#a8d5a0" stroke="#4f6e4a" stroke-width="0.6"/>
<line x1="405.00" y1="192.70" x2="412.50" y2="192.70" stroke="#000" stroke-width="1.2"/>
<circle cx="431.50" cy="180.10" r="2.15" fill="#0c7474" stroke="#083c3c" stroke-width="0.6"/>
<circle cx="430.50" cy="204.70" r="2.15" fill="#0c7474" stroke="#083c3c" stroke-width="0.6"/>
<circle cx="433.00" cy="204.70" r="2.15" fill="#0c7474" stroke="#083c3c" stroke-width="0.6"/>
<circle cx="429.50" cy="210.20" r="2.15" fill="#0c7474" stroke="#083c3c" stroke-width="0.6"/>
<circle cx="428.00" cy="213.90" r="2.15" fill="#0c7474" stroke="#083c3c" stroke-width="0.6"/>
<circle cx="425.50" cy="216.30" r="2.15" fill="#0c7474" stroke="#083c3c" stroke-width="0.6"/>
<circle cx="431.50" cy="216.30" r="2.15" fill="#0c7474" stroke="#083c3c" stroke-width="0.6"/>
<circle cx="436.50" cy="216.30" r="2.15" fill="#0c7474" stroke="#083c3c" stroke-width="0.6"/>
<circle cx="434.00" cy="214.50" r="2.15" fill="#0c7474" stroke="#083c3c" stroke-width="0.6"/>
<line x1="428.00" y1="214.40" x2="436.00" y2="214.40" stroke="#000" stroke-width="1.2"/>
<circle cx="336.40" cy="229.20" r="1.8" fill="#a8d5a0" stroke="#4f6e4a" stroke-width="0.6"/>
<text x="343.40" y="231.90" font-size="8.7" textLength="113.50" lengthAdjust="spacingAndGlyphs">Recipient CD56<tspan dy="-3.5" font-size="6.3">bright</tspan><tspan dy="3.5"> NK cells</tspan></text>
<circle cx="336.40" cy="240.20" r="1.8" fill="#0c7474" stroke="#083c3c" stroke-width="0.6"/>
<text x="343.40" y="242.90" font-size="8.7" textLength="107.50" lengthAdjust="spacingAndGlyphs">Recipient CD56<tspan dy="-3.5" font-size="6.3">dim</tspan><tspan dy="3.5"> NK cells</tspan></text>
<g fill="none" stroke-width="1.66"><path d="M480.10 77.92v4.31" stroke="#124984"/><path d="M484.89 112.05v4.31" stroke="#165290"/><path d="M480.10 43.80v4.31M484.89 69.39v4.31" stroke="#1b5a9c"/><path d="M481.70 43.80v4.31M484.89 94.99v4.31M480.10 146.18v4.31" stroke="#1f63a7"/><path d="M480.10 86.46v4.31M480.10 94.99v4.31" stroke="#246aae"/><path d="M484.89 77.92v4.31M483.29 82.19v4.31M494.48 94.99v4.31" stroke="#2a71b2"/><path d="M489.69 35.26v4.31M500.87 43.80v4.31M481.70 65.13v4.31M480.10 82.19v4.31" stroke="#2f78b5"/><path d="M480.10 52.33v4.31M480.10 73.66v4.31M483.29 86.46v4.31M481.70 94.99v4.31M480.10 107.79v4.31M484.89 107.79v4.31M572.77 107.79v4.31M480.10 141.91v4.31" stroke="#347fb9"/><path d="M480.10 22.47v4.31M481.70 22.47v4.31M484.89 35.26v4.31M480.10 39.53v4.31M481.70 39.53v4.31M480.10 48.06v4.31M488.09 52.33v4.31M508.86 56.59v4.31M480.10 65.13v4.31M481.70 86.46v4.31M484.89 133.38v4.31M489.69 137.65v4.31M566.38 137.65v4.31" stroke="#3986bd"/><path d="M609.52 18.20v4.31M486.49 39.53v4.31M486.49 48.06v4.31M480.10 56.59v4.31M489.69 69.39v4.31M489.69 94.99v4.31M484.89 99.25v4.31M480.10 120.58v4.31M484.89 124.85v4.31M564.78 124.85v4.31M480.10 129.12v4.31M483.29 137.65v4.31M484.89 141.91v4.31" stroke="#3f8dc0"/><path d="M484.89 22.47v4.31M480.10 35.26v4.31M481.70 35.26v4.31M483.29 35.26v4.31M484.89 48.06v4.31M489.69 52.33v4.31M502.47 52.33v4.31M484.89 56.59v4.31M480.10 99.25v4.31M480.10 137.65v4.31M484.89 137.65v4.31M484.89 146.18v4.31M480.10 150.45v4.31M556.79 150.45v4.31" stroke="#4595c4"/><path d="M483.29 22.47v4.31M609.52 26.73v4.31M484.89 31.00v4.31M489.69 31.00v4.31M484.89 39.53v4.31M489.69 43.80v4.31M491.28 48.06v4.31M499.27 52.33v4.31M500.87 56.59v4.31M504.07 56.59v4.31M484.89 60.86v4.31M489.69 73.66v4.31M508.86 73.66v4.31M494.48 77.92v4.31M484.89 82.19v4.31M486.49 82.19v4.31M481.70 90.72v4.31M483.29 94.99v4.31M481.70 112.05v4.31M484.89 116.32v4.31M489.69 129.12v4.31M480.10 133.38v4.31M553.60 141.91v4.31M564.78 141.91v4.31M564.78 150.45v4.31" stroke="#529cc8"/><path d="M615.91 18.20v4.31M542.41 31.00v4.31M484.89 43.80v4.31M497.67 43.80v4.31M488.09 56.59v4.31M489.69 56.59v4.31M516.85 56.59v4.31M480.10 60.86v4.31M483.29 65.13v4.31M486.49 69.39v4.31M488.09 73.66v4.31M483.29 77.92v4.31M489.69 82.19v4.31M481.70 103.52v4.31M564.78 103.52v4.31M484.89 129.12v4.31M548.80 141.91v4.31M486.49 150.45v4.31" stroke="#5ea4cc"/><path d="M609.52 22.47v4.31M620.70 22.47v4.31M523.24 31.00v4.31M494.48 35.26v4.31M494.48 39.53v4.31M526.43 39.53v4.31M481.70 48.06v4.31M534.42 48.06v4.31M484.89 52.33v4.31M494.48 52.33v4.31M513.65 52.33v4.31M481.70 56.59v4.31M486.49 60.86v4.31M488.09 77.92v4.31M488.09 82.19v4.31M483.29 90.72v4.31M481.70 99.25v4.31M488.09 99.25v4.31M564.78 99.25v4.31M489.69 103.52v4.31M483.29 107.79v4.31M559.99 107.79v4.31M486.49 116.32v4.31M489.69 116.32v4.31M481.70 120.58v4.31M577.56 120.58v4.31M480.10 124.85v4.31M488.09 124.85v4.31M572.77 137.65v4.31M484.89 150.45v4.31M615.91 158.98v4.31M609.52 214.44v4.31M612.71 214.44v4.31" stroke="#6aacd0"/><path d="M614.31 18.20v4.31M529.63 26.73v4.31M515.25 31.00v4.31M486.49 35.26v4.31M497.67 35.26v4.31M504.07 35.26v4.31M483.29 39.53v4.31M505.66 39.53v4.31M483.29 52.33v4.31M532.83 52.33v4.31M492.88 56.59v4.31M486.49 65.13v4.31M483.29 69.39v4.31M484.89 73.66v4.31M481.70 77.92v4.31M481.70 82.19v4.31M496.08 82.19v4.31M484.89 86.46v4.31M489.69 86.46v4.31M484.89 90.72v4.31M489.69 99.25v4.31M486.49 103.52v4.31M489.69 107.79v4.31M555.19 107.79v4.31M566.38 107.79v4.31M480.10 116.32v4.31M481.70 116.32v4.31M488.09 120.58v4.31M545.61 120.58v4.31M566.38 120.58v4.31M483.29 129.12v4.31M486.49 129.12v4.31M555.19 133.38v4.31M489.69 146.18v4.31M567.98 146.18v4.31M489.69 150.45v4.31M564.78 176.04v4.31M615.91 180.31v4.31M564.78 193.11v4.31M481.70 197.37v4.31" stroke="#77b4d5"/><path d="M620.70 18.20v4.31M526.43 22.47v4.31M494.48 31.00v4.31M496.08 35.26v4.31M500.87 35.26v4.31M491.28 39.53v4.31M502.47 39.53v4.31M518.45 39.53v4.31M528.03 39.53v4.31M486.49 43.80v4.31M499.27 43.80v4.31M504.07 43.80v4.31M515.25 43.80v4.31M507.26 48.06v4.31M510.46 48.06v4.31M486.49 56.59v4.31M564.78 60.86v4.31M523.24 65.13v4.31M488.09 69.39v4.31M492.88 73.66v4.31M500.87 73.66v4.31M497.67 82.19v4.31M488.09 94.99v4.31M496.08 94.99v4.31M494.48 107.79v4.31M564.78 107.79v4.31M480.10 112.05v4.31M492.88 112.05v4.31M566.38 116.32v4.31M483.29 124.85v4.31M572.77 129.12v4.31M588.75 129.12v4.31M564.78 133.38v4.31M494.48 137.65v4.31M555.19 137.65v4.31M486.49 141.91v4.31M559.99 141.91v4.31M494.48 150.45v4.31M588.75 150.45v4.31M572.77 158.98v4.31M566.38 163.24v4.31M564.78 188.84v4.31M588.75 205.90v4.31M601.53 205.90v4.31M564.78 222.97v4.31M566.38 227.23v4.31M572.77 227.23v4.31M609.52 227.23v4.31" stroke="#83bcd9"/><path d="M496.08 31.00v4.31M492.88 39.53v4.31M500.87 39.53v4.31M504.07 39.53v4.31M510.46 39.53v4.31M494.48 43.80v4.31M540.81 43.80v4.31M499.27 48.06v4.31M500.87 48.06v4.31M502.47 48.06v4.31M523.24 48.06v4.31M524.84 52.33v4.31M483.29 56.59v4.31M502.47 56.59v4.31M526.43 56.59v4.31M531.23 56.59v4.31M483.29 60.86v4.31M484.89 65.13v4.31M480.10 69.39v4.31M494.48 69.39v4.31M496.08 73.66v4.31M499.27 73.66v4.31M486.49 86.46v4.31M480.10 90.72v4.31M536.02 90.72v4.31M566.38 90.72v4.31M615.91 94.99v4.31M559.99 99.25v4.31M572.77 99.25v4.31M582.36 99.25v4.31M484.89 103.52v4.31M492.88 103.52v4.31M488.09 107.79v4.31M491.28 107.79v4.31M489.69 112.05v4.31M547.21 112.05v4.31M556.79 116.32v4.31M486.49 120.58v4.31M489.69 120.58v4.31M558.39 120.58v4.31M558.39 124.85v4.31M491.28 129.12v4.31M553.60 129.12v4.31M494.48 133.38v4.31M564.78 137.65v4.31M567.98 137.65v4.31M483.29 141.91v4.31M481.70 150.45v4.31M555.19 150.45v4.31M588.75 158.98v4.31M484.89 171.78v4.31M555.19 180.31v4.31M593.54 180.31v4.31M595.14 218.70v4.31M601.53 218.70v4.31M577.56 222.97v4.31M603.13 222.97v4.31M588.75 227.23v4.31M615.91 227.23v4.31" stroke="#90c3dd"/><path d="M508.86 22.47v4.31M480.10 26.73v4.31M484.89 26.73v4.31M528.03 26.73v4.31M481.70 31.00v4.31M516.85 31.00v4.31M615.91 31.00v4.31M502.47 35.26v4.31M515.25 35.26v4.31M528.03 35.26v4.31M537.62 35.26v4.31M539.22 35.26v4.31M489.69 39.53v4.31M523.24 39.53v4.31M508.86 43.80v4.31M513.65 43.80v4.31M492.88 48.06v4.31M494.48 48.06v4.31M505.66 48.06v4.31M518.45 48.06v4.31M481.70 52.33v4.31M492.88 52.33v4.31M526.43 52.33v4.31M494.48 56.59v4.31M523.24 56.59v4.31M488.09 60.86v4.31M489.69 65.13v4.31M481.70 69.39v4.31M526.43 69.39v4.31M545.61 69.39v4.31M540.81 77.92v4.31M559.99 77.92v4.31M542.41 82.19v4.31M492.88 90.72v4.31M496.08 90.72v4.31M497.67 94.99v4.31M612.71 94.99v4.31M488.09 103.52v4.31M572.77 103.52v4.31M488.09 112.05v4.31M552.00 112.05v4.31M572.77 112.05v4.31M582.36 112.05v4.31M483.29 116.32v4.31M559.99 120.58v4.31M564.78 120.58v4.31M486.49 124.85v4.31M489.69 124.85v4.31M566.38 124.85v4.31M572.77 124.85v4.31M575.97 124.85v4.31M582.36 124.85v4.31M483.29 133.38v4.31M488.09 133.38v4.31M553.60 133.38v4.31M488.09 141.91v4.31M486.49 146.18v4.31M566.38 146.18v4.31M588.75 146.18v4.31M545.61 150.45v4.31M558.39 150.45v4.31M569.57 150.45v4.31M577.56 150.45v4.31M588.75 154.71v4.31M601.53 154.71v4.31M615.91 154.71v4.31M575.97 158.98v4.31M609.52 158.98v4.31M622.30 167.51v4.31M564.78 171.78v4.31M593.54 171.78v4.31M559.99 176.04v4.31M577.56 180.31v4.31M590.35 180.31v4.31M483.29 188.84v4.31M489.69 188.84v4.31M601.53 188.84v4.31M552.00 193.11v4.31M566.38 197.37v4.31M615.91 197.37v4.31M583.95 201.64v4.31M606.32 210.17v4.31M615.91 210.17v4.31M582.36 214.44v4.31M564.78 218.70v4.31M593.54 218.70v4.31M555.19 222.97v4.31M609.52 222.97v4.31M480.10 227.23v4.31" stroke="#9ac9e0"/><path d="M489.69 22.47v4.31M520.04 26.73v4.31M536.02 26.73v4.31M593.54 31.00v4.31M612.71 31.00v4.31M488.09 35.26v4.31M505.66 35.26v4.31M531.23 35.26v4.31M536.02 35.26v4.31M488.09 39.53v4.31M497.67 39.53v4.31M483.29 43.80v4.31M526.43 43.80v4.31M508.86 48.06v4.31M513.65 48.06v4.31M516.85 48.06v4.31M542.41 48.06v4.31M518.45 52.33v4.31M555.19 60.86v4.31M486.49 73.66v4.31M497.67 73.66v4.31M528.03 73.66v4.31M534.42 73.66v4.31M499.27 77.92v4.31M526.43 77.92v4.31M566.38 77.92v4.31M492.88 82.19v4.31M526.43 82.19v4.31M499.27 86.46v4.31M556.79 86.46v4.31M566.38 86.46v4.31M567.98 90.72v4.31M492.88 94.99v4.31M556.79 94.99v4.31M494.48 99.25v4.31M555.19 99.25v4.31M567.98 99.25v4.31M561.59 103.52v4.31M569.57 103.52v4.31M575.97 107.79v4.31M564.78 112.05v4.31M580.76 112.05v4.31M545.61 116.32v4.31M484.89 120.58v4.31M555.19 120.58v4.31M492.88 124.85v4.31M481.70 133.38v4.31M489.69 133.38v4.31M552.00 133.38v4.31M563.18 133.38v4.31M486.49 137.65v4.31M569.57 137.65v4.31M489.69 141.91v4.31M545.61 141.91v4.31M492.88 150.45v4.31M496.08 150.45v4.31M566.38 150.45v4.31M567.98 150.45v4.31M585.55 150.45v4.31M564.78 154.71v4.31M612.71 154.71v4.31M593.54 158.98v4.31M547.21 163.24v4.31M588.75 163.24v4.31M596.74 167.51v4.31M588.75 176.04v4.31M617.51 176.04v4.31M484.89 180.31v4.31M604.73 180.31v4.31M553.60 184.57v4.31M588.75 184.57v4.31M590.35 184.57v4.31M577.56 188.84v4.31M588.75 188.84v4.31M582.36 193.11v4.31M583.95 193.11v4.31M587.15 193.11v4.31M604.73 193.11v4.31M552.00 197.37v4.31M564.78 197.37v4.31M588.75 197.37v4.31M484.89 201.64v4.31M545.61 201.64v4.31M553.60 201.64v4.31M588.75 210.17v4.31M595.14 210.17v4.31M601.53 210.17v4.31M552.00 214.44v4.31M561.59 214.44v4.31M593.54 214.44v4.31M595.14 214.44v4.31M489.69 222.97v4.31M612.71 222.97v4.31M620.70 222.97v4.31M558.39 227.23v4.31M559.99 227.23v4.31" stroke="#a4cee3"/><path d="M502.47 18.20v4.31M622.30 18.20v4.31M504.07 22.47v4.31M622.30 22.47v4.31M521.64 26.73v4.31M513.65 31.00v4.31M526.43 31.00v4.31M528.03 31.00v4.31M544.01 31.00v4.31M609.52 31.00v4.31M499.27 39.53v4.31M513.65 39.53v4.31M515.25 39.53v4.31M491.28 43.80v4.31M502.47 43.80v4.31M536.02 43.80v4.31M515.25 48.06v4.31M520.04 48.06v4.31M497.67 52.33v4.31M512.05 52.33v4.31M497.67 56.59v4.31M513.65 56.59v4.31M537.62 56.59v4.31M500.87 60.86v4.31M502.47 60.86v4.31M540.81 60.86v4.31M488.09 65.13v4.31M513.65 65.13v4.31M504.07 69.39v4.31M491.28 73.66v4.31M537.62 77.92v4.31M504.07 82.19v4.31M515.25 82.19v4.31M559.99 82.19v4.31M561.59 82.19v4.31M494.48 86.46v4.31M539.22 86.46v4.31M571.17 86.46v4.31M486.49 90.72v4.31M489.69 90.72v4.31M547.21 90.72v4.31M486.49 94.99v4.31M553.60 99.25v4.31M483.29 103.52v4.31M553.60 103.52v4.31M582.36 103.52v4.31M481.70 107.79v4.31M486.49 107.79v4.31M571.17 107.79v4.31M582.36 107.79v4.31M561.59 112.05v4.31M569.57 112.05v4.31M579.16 112.05v4.31M488.09 116.32v4.31M555.19 116.32v4.31M564.78 116.32v4.31M582.36 116.32v4.31M561.59 120.58v4.31M552.00 124.85v4.31M571.17 124.85v4.31M494.48 129.12v4.31M547.21 129.12v4.31M555.19 129.12v4.31M561.59 129.12v4.31M566.38 129.12v4.31M491.28 133.38v4.31M559.99 133.38v4.31M566.38 133.38v4.31M572.77 133.38v4.31M496.08 137.65v4.31M553.60 137.65v4.31M555.19 141.91v4.31M590.35 141.91v4.31M481.70 146.18v4.31M577.56 146.18v4.31M547.21 150.45v4.31M572.77 150.45v4.31M575.97 150.45v4.31M593.54 154.71v4.31M595.14 154.71v4.31M609.52 154.71v4.31M556.79 158.98v4.31M559.99 158.98v4.31M566.38 158.98v4.31M571.17 158.98v4.31M601.53 158.98v4.31M617.51 158.98v4.31M564.78 163.24v4.31M567.98 163.24v4.31M553.60 167.51v4.31M555.19 167.51v4.31M564.78 167.51v4.31M585.55 167.51v4.31M559.99 171.78v4.31M574.37 171.78v4.31M609.52 171.78v4.31M614.31 171.78v4.31M569.57 176.04v4.31M601.53 176.04v4.31M553.60 180.31v4.31M564.78 180.31v4.31M566.38 180.31v4.31M583.95 180.31v4.31M587.15 180.31v4.31M588.75 180.31v4.31M609.52 184.57v4.31M559.99 188.84v4.31M572.77 188.84v4.31M603.13 188.84v4.31M609.52 188.84v4.31M563.18 193.11v4.31M596.74 193.11v4.31M598.33 193.11v4.31M484.89 197.37v4.31M548.80 197.37v4.31M609.52 197.37v4.31M612.71 197.37v4.31M480.10 205.90v4.31M575.97 205.90v4.31M606.32 205.90v4.31M609.52 205.90v4.31M550.40 210.17v4.31M561.59 210.17v4.31M582.36 210.17v4.31M603.13 210.17v4.31M566.38 214.44v4.31M615.91 214.44v4.31M588.75 218.70v4.31M571.17 227.23v4.31M582.36 227.23v4.31" stroke="#aed3e6"/><path d="M504.07 18.20v4.31M612.71 18.20v4.31M536.02 22.47v4.31M617.51 22.47v4.31M508.86 26.73v4.31M510.46 26.73v4.31M601.53 26.73v4.31M615.91 26.73v4.31M497.67 31.00v4.31M499.27 31.00v4.31M500.87 31.00v4.31M524.84 31.00v4.31M499.27 35.26v4.31M520.04 39.53v4.31M544.01 39.53v4.31M492.88 43.80v4.31M531.23 43.80v4.31M489.69 48.06v4.31M537.62 48.06v4.31M505.66 52.33v4.31M507.26 52.33v4.31M539.22 52.33v4.31M496.08 56.59v4.31M515.25 56.59v4.31M577.56 60.86v4.31M502.47 65.13v4.31M540.81 65.13v4.31M542.41 65.13v4.31M492.88 69.39v4.31M496.08 69.39v4.31M497.67 69.39v4.31M505.66 69.39v4.31M516.85 69.39v4.31M481.70 73.66v4.31M540.81 73.66v4.31M556.79 73.66v4.31M489.69 77.92v4.31M528.03 77.92v4.31M529.63 77.92v4.31M532.83 77.92v4.31M571.17 77.92v4.31M516.85 82.19v4.31M523.24 82.19v4.31M548.80 82.19v4.31M497.67 86.46v4.31M508.86 86.46v4.31M553.60 86.46v4.31M577.56 86.46v4.31M523.24 90.72v4.31M550.40 90.72v4.31M483.29 99.25v4.31M561.59 99.25v4.31M480.10 103.52v4.31M566.38 103.52v4.31M574.37 103.52v4.31M492.88 107.79v4.31M497.67 107.79v4.31M508.86 107.79v4.31M552.00 107.79v4.31M567.98 107.79v4.31M574.37 107.79v4.31M577.56 107.79v4.31M580.76 107.79v4.31M585.55 107.79v4.31M588.75 107.79v4.31M486.49 112.05v4.31M494.48 112.05v4.31M502.47 112.05v4.31M558.39 112.05v4.31M559.99 112.05v4.31M571.17 112.05v4.31M552.00 116.32v4.31M559.99 116.32v4.31M575.97 116.32v4.31M575.97 120.58v4.31M481.70 124.85v4.31M481.70 129.12v4.31M564.78 129.12v4.31M569.57 129.12v4.31M574.37 133.38v4.31M575.97 133.38v4.31M580.76 133.38v4.31M481.70 137.65v4.31M488.09 137.65v4.31M491.28 137.65v4.31M545.61 137.65v4.31M561.59 137.65v4.31M481.70 141.91v4.31M571.17 141.91v4.31M588.75 141.91v4.31M492.88 146.18v4.31M497.67 146.18v4.31M559.99 146.18v4.31M582.36 146.18v4.31M500.87 150.45v4.31M574.37 150.45v4.31M553.60 154.71v4.31M559.99 154.71v4.31M577.56 154.71v4.31M582.36 158.98v4.31M590.35 158.98v4.31M596.74 158.98v4.31M612.71 158.98v4.31M569.57 163.24v4.31M591.94 163.24v4.31M593.54 163.24v4.31M595.14 163.24v4.31M612.71 163.24v4.31M561.59 167.51v4.31M606.32 167.51v4.31M615.91 167.51v4.31M553.60 171.78v4.31M555.19 171.78v4.31M571.17 171.78v4.31M572.77 171.78v4.31M588.75 171.78v4.31M591.94 171.78v4.31M595.14 171.78v4.31M558.39 176.04v4.31M593.54 176.04v4.31M620.70 176.04v4.31M622.30 176.04v4.31M545.61 180.31v4.31M563.18 180.31v4.31M567.98 180.31v4.31M569.57 180.31v4.31M569.57 184.57v4.31M566.38 188.84v4.31M583.95 188.84v4.31M599.93 188.84v4.31M574.37 193.11v4.31M575.97 193.11v4.31M590.35 193.11v4.31M569.57 197.37v4.31M580.76 201.64v4.31M609.52 201.64v4.31M559.99 205.90v4.31M564.78 205.90v4.31M604.73 205.90v4.31M612.71 205.90v4.31M559.99 210.17v4.31M572.77 210.17v4.31M593.54 210.17v4.31M599.93 210.17v4.31M619.11 210.17v4.31M484.89 214.44v4.31M545.61 214.44v4.31M567.98 214.44v4.31M588.75 214.44v4.31M601.53 214.44v4.31M552.00 218.70v4.31M572.77 222.97v4.31M588.75 222.97v4.31M590.35 222.97v4.31M555.19 227.23v4.31M564.78 227.23v4.31M580.76 227.23v4.31M607.92 227.23v4.31" stroke="#b7d8e9"/><path d="M508.86 18.20v4.31M611.12 18.20v4.31M497.67 26.73v4.31M499.27 26.73v4.31M502.47 26.73v4.31M515.25 26.73v4.31M523.24 26.73v4.31M537.62 26.73v4.31M619.11 26.73v4.31M502.47 31.00v4.31M512.05 31.00v4.31M518.45 31.00v4.31M520.04 31.00v4.31M532.83 31.00v4.31M539.22 31.00v4.31M540.81 31.00v4.31M492.88 35.26v4.31M542.41 35.26v4.31M496.08 39.53v4.31M508.86 39.53v4.31M524.84 39.53v4.31M537.62 39.53v4.31M539.22 39.53v4.31M518.45 43.80v4.31M520.04 43.80v4.31M483.29 48.06v4.31M496.08 48.06v4.31M497.67 48.06v4.31M504.07 48.06v4.31M526.43 48.06v4.31M523.24 52.33v4.31M540.81 52.33v4.31M491.28 56.59v4.31M528.03 56.59v4.31M529.63 56.59v4.31M481.70 60.86v4.31M492.88 60.86v4.31M508.86 60.86v4.31M518.45 65.13v4.31M539.22 65.13v4.31M499.27 69.39v4.31M494.48 73.66v4.31M507.26 73.66v4.31M556.79 77.92v4.31M564.78 77.92v4.31M588.75 77.92v4.31M491.28 86.46v4.31M496.08 86.46v4.31M523.24 86.46v4.31M564.78 86.46v4.31M499.27 94.99v4.31M564.78 94.99v4.31M577.56 94.99v4.31M583.95 94.99v4.31M588.75 94.99v4.31M593.54 94.99v4.31M604.73 94.99v4.31M609.52 94.99v4.31M622.30 94.99v4.31M486.49 99.25v4.31M583.95 99.25v4.31M545.61 103.52v4.31M563.18 103.52v4.31M575.97 103.52v4.31M550.40 112.05v4.31M553.60 112.05v4.31M555.19 112.05v4.31M496.08 116.32v4.31M547.21 116.32v4.31M567.98 116.32v4.31M569.57 116.32v4.31M492.88 120.58v4.31M552.00 120.58v4.31M556.79 120.58v4.31M571.17 120.58v4.31M572.77 120.58v4.31M582.36 129.12v4.31M486.49 133.38v4.31M547.21 133.38v4.31M567.98 133.38v4.31M577.56 133.38v4.31M583.95 133.38v4.31M580.76 137.65v4.31M588.75 137.65v4.31M496.08 141.91v4.31M566.38 141.91v4.31M561.59 146.18v4.31M563.18 146.18v4.31M572.77 146.18v4.31M508.86 150.45v4.31M559.99 150.45v4.31M571.17 150.45v4.31M582.36 150.45v4.31M583.95 154.71v4.31M604.73 154.71v4.31M606.32 154.71v4.31M545.61 158.98v4.31M548.80 158.98v4.31M552.00 158.98v4.31M583.95 158.98v4.31M587.15 158.98v4.31M598.33 158.98v4.31M599.93 158.98v4.31M620.70 158.98v4.31M480.10 163.24v4.31M552.00 163.24v4.31M617.51 163.24v4.31M622.30 163.24v4.31M484.89 167.51v4.31M577.56 167.51v4.31M591.94 167.51v4.31M599.93 167.51v4.31M552.00 171.78v4.31M545.61 176.04v4.31M548.80 176.04v4.31M566.38 176.04v4.31M571.17 176.04v4.31M583.95 176.04v4.31M609.52 176.04v4.31M612.71 176.04v4.31M480.10 180.31v4.31M591.94 180.31v4.31M601.53 180.31v4.31M606.32 180.31v4.31M614.31 180.31v4.31M558.39 184.57v4.31M559.99 184.57v4.31M564.78 184.57v4.31M587.15 184.57v4.31M601.53 184.57v4.31M614.31 184.57v4.31M575.97 188.84v4.31M582.36 188.84v4.31M555.19 193.11v4.31M556.79 193.11v4.31M566.38 193.11v4.31M572.77 193.11v4.31M593.54 193.11v4.31M595.14 193.11v4.31M567.98 197.37v4.31M571.17 197.37v4.31M601.53 197.37v4.31M559.99 201.64v4.31M590.35 201.64v4.31M603.13 201.64v4.31M481.70 205.90v4.31M545.61 205.90v4.31M577.56 205.90v4.31M593.54 205.90v4.31M555.19 210.17v4.31M564.78 210.17v4.31M585.55 210.17v4.31M604.73 210.17v4.31M564.78 214.44v4.31M572.77 214.44v4.31M577.56 214.44v4.31M596.74 214.44v4.31M603.13 214.44v4.31M545.61 218.70v4.31M547.21 222.97v4.31M552.00 222.97v4.31M569.57 222.97v4.31M604.73 222.97v4.31M622.30 222.97v4.31M599.93 227.23v4.31M601.53 227.23v4.31M604.73 227.23v4.31M619.11 227.23v4.31" stroke="#c1ddec"/><path d="M520.04 18.20v4.31M531.23 18.20v4.31M588.75 18.20v4.31M617.51 18.20v4.31M486.49 22.47v4.31M488.09 22.47v4.31M540.81 22.47v4.31M601.53 22.47v4.31M603.13 22.47v4.31M483.29 26.73v4.31M489.69 26.73v4.31M504.07 26.73v4.31M516.85 26.73v4.31M531.23 26.73v4.31M480.10 31.00v4.31M504.07 31.00v4.31M529.63 31.00v4.31M537.62 31.00v4.31M507.26 35.26v4.31M508.86 35.26v4.31M512.05 35.26v4.31M516.85 35.26v4.31M526.43 35.26v4.31M516.85 39.53v4.31M510.46 43.80v4.31M528.03 43.80v4.31M531.23 48.06v4.31M491.28 52.33v4.31M504.07 52.33v4.31M515.25 52.33v4.31M520.04 56.59v4.31M494.48 60.86v4.31M513.65 60.86v4.31M496.08 65.13v4.31M508.86 65.13v4.31M571.17 65.13v4.31M483.29 73.66v4.31M526.43 73.66v4.31M486.49 77.92v4.31M491.28 77.92v4.31M500.87 77.92v4.31M504.07 77.92v4.31M507.26 77.92v4.31M515.25 77.92v4.31M520.04 77.92v4.31M571.17 82.19v4.31M518.45 86.46v4.31M526.43 90.72v4.31M601.53 94.99v4.31M491.28 99.25v4.31M552.00 99.25v4.31M575.97 99.25v4.31M577.56 99.25v4.31M491.28 103.52v4.31M494.48 103.52v4.31M547.21 107.79v4.31M548.80 107.79v4.31M545.61 112.05v4.31M548.80 112.05v4.31M556.79 112.05v4.31M553.60 116.32v4.31M563.18 116.32v4.31M588.75 116.32v4.31M494.48 120.58v4.31M496.08 120.58v4.31M574.37 120.58v4.31M494.48 124.85v4.31M553.60 124.85v4.31M587.15 124.85v4.31M492.88 129.12v4.31M496.08 129.12v4.31M550.40 129.12v4.31M571.17 129.12v4.31M556.79 133.38v4.31M497.67 137.65v4.31M558.39 137.65v4.31M577.56 137.65v4.31M582.36 137.65v4.31M494.48 141.91v4.31M556.79 141.91v4.31M567.98 141.91v4.31M577.56 141.91v4.31M580.76 141.91v4.31M499.27 146.18v4.31M545.61 146.18v4.31M564.78 146.18v4.31M571.17 146.18v4.31M575.97 146.18v4.31M499.27 150.45v4.31M552.00 150.45v4.31M547.21 154.71v4.31M552.00 154.71v4.31M569.57 154.71v4.31M572.77 154.71v4.31M590.35 154.71v4.31M598.33 154.71v4.31M603.13 154.71v4.31M555.19 158.98v4.31M561.59 158.98v4.31M564.78 158.98v4.31M585.55 158.98v4.31M604.73 158.98v4.31M606.32 158.98v4.31M545.61 163.24v4.31M556.79 163.24v4.31M561.59 163.24v4.31M572.77 163.24v4.31M575.97 163.24v4.31M590.35 163.24v4.31M609.52 163.24v4.31M486.49 167.51v4.31M545.61 167.51v4.31M558.39 167.51v4.31M567.98 167.51v4.31M593.54 167.51v4.31M601.53 167.51v4.31M609.52 167.51v4.31M481.70 171.78v4.31M556.79 171.78v4.31M481.70 176.04v4.31M492.88 176.04v4.31M555.19 176.04v4.31M574.37 176.04v4.31M582.36 176.04v4.31M486.49 180.31v4.31M550.40 180.31v4.31M572.77 180.31v4.31M599.93 180.31v4.31M609.52 180.31v4.31M481.70 184.57v4.31M545.61 184.57v4.31M556.79 184.57v4.31M580.76 184.57v4.31M583.95 184.57v4.31M593.54 184.57v4.31M599.93 184.57v4.31M612.71 184.57v4.31M619.11 184.57v4.31M552.00 188.84v4.31M590.35 188.84v4.31M612.71 188.84v4.31M622.30 188.84v4.31M545.61 193.11v4.31M561.59 193.11v4.31M577.56 193.11v4.31M585.55 193.11v4.31M609.52 193.11v4.31M622.30 193.11v4.31M547.21 197.37v4.31M553.60 197.37v4.31M572.77 197.37v4.31M587.15 197.37v4.31M595.14 197.37v4.31M603.13 197.37v4.31M566.38 201.64v4.31M569.57 201.64v4.31M587.15 201.64v4.31M548.80 205.90v4.31M556.79 205.90v4.31M572.77 205.90v4.31M590.35 205.90v4.31M598.33 205.90v4.31M489.69 210.17v4.31M558.39 210.17v4.31M566.38 210.17v4.31M580.76 210.17v4.31M620.70 210.17v4.31M548.80 214.44v4.31M575.97 214.44v4.31M583.95 214.44v4.31M591.94 214.44v4.31M617.51 214.44v4.31M484.89 218.70v4.31M489.69 218.70v4.31M566.38 218.70v4.31M545.61 222.97v4.31M561.59 222.97v4.31M593.54 222.97v4.31M598.33 222.97v4.31M614.31 222.97v4.31M483.29 227.23v4.31M489.69 227.23v4.31M552.00 227.23v4.31M575.97 227.23v4.31M577.56 227.23v4.31M593.54 227.23v4.31" stroke="#cbe2ee"/><path d="M507.26 18.20v4.31M516.85 18.20v4.31M603.13 18.20v4.31M619.11 18.20v4.31M499.27 22.47v4.31M615.91 22.47v4.31M481.70 26.73v4.31M492.88 26.73v4.31M524.84 26.73v4.31M526.43 26.73v4.31M534.42 26.73v4.31M606.32 26.73v4.31M620.70 31.00v4.31M510.46 35.26v4.31M513.65 35.26v4.31M521.64 35.26v4.31M529.63 35.26v4.31M496.08 43.80v4.31M512.05 43.80v4.31M516.85 43.80v4.31M523.24 43.80v4.31M529.63 43.80v4.31M532.83 48.06v4.31M486.49 52.33v4.31M508.86 52.33v4.31M510.46 52.33v4.31M528.03 52.33v4.31M542.41 52.33v4.31M489.69 60.86v4.31M561.59 60.86v4.31M572.77 60.86v4.31M529.63 65.13v4.31M575.97 65.13v4.31M512.05 69.39v4.31M532.83 69.39v4.31M553.60 69.39v4.31M524.84 73.66v4.31M496.08 77.92v4.31M553.60 77.92v4.31M572.77 77.92v4.31M513.65 82.19v4.31M520.04 82.19v4.31M545.61 82.19v4.31M564.78 82.19v4.31M540.81 86.46v4.31M550.40 86.46v4.31M558.39 86.46v4.31M499.27 90.72v4.31M515.25 90.72v4.31M556.79 90.72v4.31M504.07 94.99v4.31M571.17 94.99v4.31M590.35 94.99v4.31M611.12 94.99v4.31M497.67 99.25v4.31M545.61 99.25v4.31M547.21 99.25v4.31M566.38 99.25v4.31M571.17 99.25v4.31M588.75 99.25v4.31M593.54 99.25v4.31M555.19 103.52v4.31M559.99 103.52v4.31M571.17 103.52v4.31M577.56 103.52v4.31M558.39 107.79v4.31M499.27 112.05v4.31M577.56 112.05v4.31M491.28 116.32v4.31M558.39 116.32v4.31M571.17 116.32v4.31M491.28 120.58v4.31M547.21 120.58v4.31M585.55 120.58v4.31M545.61 124.85v4.31M583.95 124.85v4.31M499.27 129.12v4.31M556.79 129.12v4.31M575.97 129.12v4.31M499.27 133.38v4.31M558.39 133.38v4.31M504.07 137.65v4.31M550.40 141.91v4.31M552.00 141.91v4.31M561.59 141.91v4.31M569.57 141.91v4.31M572.77 141.91v4.31M583.95 141.91v4.31M488.09 146.18v4.31M494.48 146.18v4.31M496.08 146.18v4.31M552.00 146.18v4.31M556.79 146.18v4.31M580.76 146.18v4.31M483.29 150.45v4.31M488.09 150.45v4.31M491.28 150.45v4.31M553.60 150.45v4.31M545.61 154.71v4.31M555.19 154.71v4.31M556.79 154.71v4.31M558.39 154.71v4.31M566.38 154.71v4.31M567.98 154.71v4.31M575.97 154.71v4.31M580.76 154.71v4.31M587.15 154.71v4.31M611.12 154.71v4.31M553.60 158.98v4.31M558.39 158.98v4.31M577.56 158.98v4.31M580.76 158.98v4.31M595.14 158.98v4.31M603.13 158.98v4.31M481.70 163.24v4.31M550.40 163.24v4.31M555.19 163.24v4.31M574.37 163.24v4.31M585.55 163.24v4.31M596.74 163.24v4.31M480.10 167.51v4.31M552.00 167.51v4.31M569.57 167.51v4.31M572.77 167.51v4.31M575.97 167.51v4.31M582.36 167.51v4.31M590.35 167.51v4.31M612.71 167.51v4.31M545.61 171.78v4.31M569.57 171.78v4.31M587.15 171.78v4.31M601.53 171.78v4.31M603.13 171.78v4.31M606.32 171.78v4.31M615.91 171.78v4.31M483.29 176.04v4.31M550.40 176.04v4.31M552.00 176.04v4.31M572.77 176.04v4.31M580.76 176.04v4.31M585.55 176.04v4.31M607.92 176.04v4.31M552.00 180.31v4.31M582.36 180.31v4.31M612.71 180.31v4.31M619.11 180.31v4.31M620.70 180.31v4.31M622.30 180.31v4.31M480.10 184.57v4.31M484.89 184.57v4.31M566.38 184.57v4.31M571.17 184.57v4.31M579.16 184.57v4.31M545.61 188.84v4.31M563.18 188.84v4.31M571.17 188.84v4.31M484.89 193.11v4.31M547.21 193.11v4.31M553.60 193.11v4.31M559.99 193.11v4.31M567.98 193.11v4.31M615.91 193.11v4.31M559.99 197.37v4.31M577.56 197.37v4.31M593.54 197.37v4.31M599.93 197.37v4.31M606.32 197.37v4.31M617.51 197.37v4.31M619.11 197.37v4.31M564.78 201.64v4.31M574.37 201.64v4.31M577.56 201.64v4.31M588.75 201.64v4.31M596.74 201.64v4.31M604.73 201.64v4.31M606.32 201.64v4.31M607.92 201.64v4.31M615.91 201.64v4.31M484.89 205.90v4.31M620.70 205.90v4.31M548.80 210.17v4.31M556.79 210.17v4.31M590.35 210.17v4.31M622.30 210.17v4.31M480.10 218.70v4.31M574.37 218.70v4.31M587.15 218.70v4.31M598.33 218.70v4.31M604.73 218.70v4.31M606.32 218.70v4.31M615.91 218.70v4.31M481.70 222.97v4.31M548.80 222.97v4.31M558.39 222.97v4.31M571.17 222.97v4.31M582.36 222.97v4.31M585.55 222.97v4.31M595.14 222.97v4.31M596.74 222.97v4.31M601.53 222.97v4.31M617.51 222.97v4.31M556.79 227.23v4.31M579.16 227.23v4.31M585.55 227.23v4.31M617.51 227.23v4.31M620.70 227.23v4.31" stroke="#d3e6f0"/><path d="M510.46 18.20v4.31M542.41 18.20v4.31M607.92 18.20v4.31M502.47 22.47v4.31M607.92 22.47v4.31M612.71 22.47v4.31M486.49 26.73v4.31M496.08 26.73v4.31M507.26 26.73v4.31M518.45 26.73v4.31M603.13 26.73v4.31M612.71 26.73v4.31M617.51 26.73v4.31M483.29 31.00v4.31M536.02 31.00v4.31M491.28 35.26v4.31M544.01 35.26v4.31M534.42 39.53v4.31M540.81 39.53v4.31M521.64 43.80v4.31M564.78 43.80v4.31M512.05 48.06v4.31M528.03 48.06v4.31M539.22 48.06v4.31M540.81 48.06v4.31M500.87 52.33v4.31M516.85 52.33v4.31M520.04 52.33v4.31M534.42 52.33v4.31M510.46 56.59v4.31M518.45 56.59v4.31M532.83 56.59v4.31M534.42 56.59v4.31M539.22 56.59v4.31M540.81 56.59v4.31M542.41 56.59v4.31M516.85 60.86v4.31M545.61 60.86v4.31M497.67 65.13v4.31M510.46 65.13v4.31M545.61 65.13v4.31M552.00 65.13v4.31M553.60 65.13v4.31M564.78 65.13v4.31M491.28 69.39v4.31M515.25 69.39v4.31M502.47 73.66v4.31M520.04 73.66v4.31M532.83 73.66v4.31M559.99 73.66v4.31M572.77 73.66v4.31M492.88 77.92v4.31M524.84 77.92v4.31M544.01 77.92v4.31M569.57 77.92v4.31M587.15 77.92v4.31M528.03 82.19v4.31M532.83 82.19v4.31M553.60 82.19v4.31M524.84 86.46v4.31M561.59 86.46v4.31M488.09 90.72v4.31M504.07 90.72v4.31M513.65 90.72v4.31M529.63 90.72v4.31M571.17 90.72v4.31M572.77 90.72v4.31M491.28 94.99v4.31M553.60 94.99v4.31M566.38 94.99v4.31M606.32 94.99v4.31M620.70 94.99v4.31M492.88 99.25v4.31M558.39 99.25v4.31M574.37 99.25v4.31M518.45 103.52v4.31M548.80 103.52v4.31M496.08 107.79v4.31M553.60 107.79v4.31M556.79 107.79v4.31M483.29 112.05v4.31M496.08 112.05v4.31M531.23 112.05v4.31M550.40 116.32v4.31M572.77 116.32v4.31M548.80 120.58v4.31M567.98 120.58v4.31M569.57 120.58v4.31M583.95 120.58v4.31M548.80 124.85v4.31M559.99 124.85v4.31M567.98 124.85v4.31M569.57 124.85v4.31M590.35 124.85v4.31M488.09 129.12v4.31M513.65 129.12v4.31M545.61 129.12v4.31M552.00 129.12v4.31M559.99 129.12v4.31M567.98 129.12v4.31M574.37 129.12v4.31M583.95 129.12v4.31M504.07 133.38v4.31M548.80 133.38v4.31M561.59 133.38v4.31M588.75 133.38v4.31M499.27 137.65v4.31M547.21 137.65v4.31M548.80 137.65v4.31M491.28 141.91v4.31M499.27 141.91v4.31M558.39 141.91v4.31M574.37 141.91v4.31M483.29 146.18v4.31M553.60 146.18v4.31M569.57 146.18v4.31M497.67 150.45v4.31M612.71 150.45v4.31M548.80 154.71v4.31M574.37 154.71v4.31M582.36 154.71v4.31M585.55 154.71v4.31M607.92 154.71v4.31M614.31 154.71v4.31M617.51 154.71v4.31M622.30 154.71v4.31M547.21 158.98v4.31M563.18 158.98v4.31M569.57 158.98v4.31M611.12 158.98v4.31M614.31 158.98v4.31M489.69 163.24v4.31M553.60 163.24v4.31M559.99 163.24v4.31M587.15 163.24v4.31M607.92 163.24v4.31M611.12 163.24v4.31M547.21 167.51v4.31M556.79 167.51v4.31M559.99 167.51v4.31M566.38 167.51v4.31M571.17 167.51v4.31M611.12 167.51v4.31M617.51 167.51v4.31M619.11 167.51v4.31M486.49 171.78v4.31M548.80 171.78v4.31M563.18 171.78v4.31M566.38 171.78v4.31M582.36 171.78v4.31M604.73 171.78v4.31M617.51 171.78v4.31M547.21 176.04v4.31M587.15 176.04v4.31M595.14 176.04v4.31M598.33 180.31v4.31M603.13 180.31v4.31M492.88 184.57v4.31M548.80 184.57v4.31M552.00 184.57v4.31M555.19 184.57v4.31M563.18 184.57v4.31M572.77 184.57v4.31M598.33 184.57v4.31M567.98 188.84v4.31M569.57 188.84v4.31M595.14 188.84v4.31M604.73 188.84v4.31M480.10 193.11v4.31M481.70 193.11v4.31M571.17 193.11v4.31M579.16 193.11v4.31M588.75 193.11v4.31M601.53 193.11v4.31M611.12 193.11v4.31M612.71 193.11v4.31M575.97 197.37v4.31M598.33 197.37v4.31M622.30 197.37v4.31M480.10 201.64v4.31M481.70 201.64v4.31M547.21 201.64v4.31M552.00 201.64v4.31M555.19 201.64v4.31M556.79 201.64v4.31M561.59 201.64v4.31M567.98 201.64v4.31M585.55 201.64v4.31M593.54 201.64v4.31M601.53 201.64v4.31M614.31 201.64v4.31M620.70 201.64v4.31M552.00 205.90v4.31M553.60 205.90v4.31M571.17 205.90v4.31M585.55 205.90v4.31M595.14 205.90v4.31M599.93 205.90v4.31M615.91 205.90v4.31M481.70 210.17v4.31M553.60 210.17v4.31M571.17 210.17v4.31M577.56 210.17v4.31M587.15 210.17v4.31M591.94 210.17v4.31M612.71 210.17v4.31M547.21 214.44v4.31M574.37 214.44v4.31M587.15 214.44v4.31M604.73 214.44v4.31M611.12 214.44v4.31M555.19 218.70v4.31M567.98 218.70v4.31M572.77 218.70v4.31M582.36 218.70v4.31M599.93 218.70v4.31M603.13 218.70v4.31M614.31 218.70v4.31M617.51 218.70v4.31M622.30 218.70v4.31M480.10 222.97v4.31M556.79 222.97v4.31M563.18 222.97v4.31M587.15 222.97v4.31M548.80 227.23v4.31M567.98 227.23v4.31M574.37 227.23v4.31M591.94 227.23v4.31M598.33 227.23v4.31M606.32 227.23v4.31M614.31 227.23v4.31" stroke="#d9e9f2"/><path d="M480.10 18.20v4.31M494.48 18.20v4.31M536.02 18.20v4.31M604.73 18.20v4.31M513.65 22.47v4.31M595.14 22.47v4.31M540.81 26.73v4.31M542.41 26.73v4.31M622.30 26.73v4.31M486.49 31.00v4.31M507.26 31.00v4.31M531.23 31.00v4.31M601.53 31.00v4.31M622.30 31.00v4.31M520.04 35.26v4.31M524.84 35.26v4.31M507.26 39.53v4.31M529.63 39.53v4.31M542.41 39.53v4.31M505.66 43.80v4.31M534.42 43.80v4.31M539.22 43.80v4.31M544.01 43.80v4.31M521.64 48.06v4.31M524.84 48.06v4.31M536.02 52.33v4.31M521.64 56.59v4.31M566.38 60.86v4.31M494.48 65.13v4.31M544.01 65.13v4.31M559.99 65.13v4.31M502.47 69.39v4.31M508.86 69.39v4.31M513.65 69.39v4.31M518.45 69.39v4.31M544.01 69.39v4.31M556.79 69.39v4.31M574.37 69.39v4.31M505.66 77.92v4.31M545.61 77.92v4.31M494.48 82.19v4.31M536.02 82.19v4.31M544.01 82.19v4.31M556.79 82.19v4.31M512.05 86.46v4.31M537.62 86.46v4.31M545.61 86.46v4.31M547.21 86.46v4.31M494.48 90.72v4.31M548.80 90.72v4.31M555.19 90.72v4.31M502.47 94.99v4.31M548.80 94.99v4.31M567.98 94.99v4.31M572.77 94.99v4.31M603.13 94.99v4.31M496.08 99.25v4.31M520.04 99.25v4.31M569.57 99.25v4.31M580.76 99.25v4.31M496.08 103.52v4.31M507.26 103.52v4.31M547.21 103.52v4.31M550.40 103.52v4.31M588.75 103.52v4.31M516.85 107.79v4.31M545.61 107.79v4.31M491.28 112.05v4.31M508.86 112.05v4.31M574.37 112.05v4.31M492.88 116.32v4.31M494.48 116.32v4.31M528.03 116.32v4.31M548.80 116.32v4.31M483.29 120.58v4.31M491.28 124.85v4.31M580.76 124.85v4.31M558.39 129.12v4.31M585.55 129.12v4.31M502.47 133.38v4.31M492.88 137.65v4.31M550.40 137.65v4.31M552.00 137.65v4.31M556.79 137.65v4.31M559.99 137.65v4.31M492.88 141.91v4.31M547.21 141.91v4.31M513.65 146.18v4.31M518.45 146.18v4.31M528.03 146.18v4.31M558.39 146.18v4.31M579.16 146.18v4.31M583.95 146.18v4.31M523.24 150.45v4.31M561.59 154.71v4.31M571.17 154.71v4.31M579.16 154.71v4.31M591.94 154.71v4.31M596.74 154.71v4.31M619.11 154.71v4.31M620.70 154.71v4.31M574.37 158.98v4.31M607.92 158.98v4.31M484.89 163.24v4.31M548.80 163.24v4.31M582.36 163.24v4.31M601.53 163.24v4.31M580.76 167.51v4.31M583.95 167.51v4.31M588.75 167.51v4.31M595.14 167.51v4.31M598.33 167.51v4.31M567.98 171.78v4.31M580.76 171.78v4.31M599.93 171.78v4.31M607.92 171.78v4.31M480.10 176.04v4.31M556.79 176.04v4.31M563.18 176.04v4.31M567.98 176.04v4.31M577.56 176.04v4.31M599.93 176.04v4.31M604.73 176.04v4.31M489.69 180.31v4.31M492.88 180.31v4.31M556.79 180.31v4.31M561.59 180.31v4.31M575.97 180.31v4.31M607.92 180.31v4.31M617.51 180.31v4.31M547.21 184.57v4.31M550.40 184.57v4.31M575.97 184.57v4.31M577.56 184.57v4.31M604.73 184.57v4.31M617.51 184.57v4.31M620.70 184.57v4.31M622.30 184.57v4.31M484.89 188.84v4.31M547.21 188.84v4.31M555.19 188.84v4.31M556.79 188.84v4.31M561.59 188.84v4.31M574.37 188.84v4.31M606.32 188.84v4.31M614.31 188.84v4.31M617.51 188.84v4.31M548.80 193.11v4.31M550.40 193.11v4.31M569.57 193.11v4.31M591.94 193.11v4.31M607.92 193.11v4.31M619.11 193.11v4.31M494.48 197.37v4.31M555.19 197.37v4.31M558.39 197.37v4.31M574.37 197.37v4.31M580.76 197.37v4.31M582.36 197.37v4.31M548.80 201.64v4.31M550.40 201.64v4.31M591.94 201.64v4.31M595.14 201.64v4.31M619.11 201.64v4.31M622.30 201.64v4.31M489.69 205.90v4.31M547.21 205.90v4.31M566.38 205.90v4.31M587.15 205.90v4.31M617.51 205.90v4.31M483.29 210.17v4.31M484.89 210.17v4.31M488.09 210.17v4.31M609.52 210.17v4.31M611.12 210.17v4.31M555.19 214.44v4.31M556.79 214.44v4.31M559.99 214.44v4.31M569.57 214.44v4.31M571.17 214.44v4.31M590.35 214.44v4.31M553.60 218.70v4.31M559.99 218.70v4.31M561.59 218.70v4.31M579.16 218.70v4.31M580.76 218.70v4.31M583.95 218.70v4.31M585.55 218.70v4.31M612.71 218.70v4.31M620.70 218.70v4.31M575.97 222.97v4.31M583.95 222.97v4.31M619.11 222.97v4.31M481.70 227.23v4.31M583.95 227.23v4.31M590.35 227.23v4.31M596.74 227.23v4.31M603.13 227.23v4.31M612.71 227.23v4.31" stroke="#dfecf3"/><path d="M481.70 18.20v4.31M491.28 18.20v4.31M598.33 18.20v4.31M619.11 22.47v4.31M494.48 26.73v4.31M500.87 26.73v4.31M505.66 26.73v4.31M513.65 26.73v4.31M611.12 26.73v4.31M491.28 31.00v4.31M492.88 31.00v4.31M508.86 31.00v4.31M534.42 31.00v4.31M595.14 31.00v4.31M532.83 39.53v4.31M544.01 48.06v4.31M496.08 52.33v4.31M529.63 52.33v4.31M505.66 56.59v4.31M536.02 56.59v4.31M564.78 56.59v4.31M497.67 60.86v4.31M504.07 60.86v4.31M523.24 60.86v4.31M526.43 60.86v4.31M536.02 60.86v4.31M559.99 60.86v4.31M504.07 65.13v4.31M524.84 69.39v4.31M539.22 69.39v4.31M555.19 69.39v4.31M572.77 69.39v4.31M555.19 73.66v4.31M567.98 73.66v4.31M582.36 73.66v4.31M588.75 73.66v4.31M497.67 77.92v4.31M561.59 77.92v4.31M491.28 82.19v4.31M502.47 82.19v4.31M521.64 82.19v4.31M529.63 82.19v4.31M552.00 82.19v4.31M502.47 86.46v4.31M505.66 86.46v4.31M507.26 86.46v4.31M529.63 86.46v4.31M531.23 86.46v4.31M548.80 86.46v4.31M587.15 86.46v4.31M497.67 90.72v4.31M508.86 90.72v4.31M528.03 90.72v4.31M532.83 90.72v4.31M569.57 90.72v4.31M577.56 90.72v4.31M547.21 94.99v4.31M569.57 94.99v4.31M582.36 94.99v4.31M585.55 94.99v4.31M591.94 94.99v4.31M617.51 94.99v4.31M502.47 99.25v4.31M563.18 99.25v4.31M579.16 99.25v4.31M497.67 103.52v4.31M552.00 103.52v4.31M556.79 103.52v4.31M558.39 103.52v4.31M561.59 107.79v4.31M590.35 107.79v4.31M566.38 112.05v4.31M585.55 112.05v4.31M518.45 116.32v4.31M577.56 116.32v4.31M585.55 116.32v4.31M502.47 120.58v4.31M526.43 120.58v4.31M553.60 120.58v4.31M588.75 120.58v4.31M496.08 124.85v4.31M502.47 124.85v4.31M555.19 124.85v4.31M556.79 124.85v4.31M577.56 124.85v4.31M523.24 129.12v4.31M548.80 129.12v4.31M577.56 129.12v4.31M496.08 133.38v4.31M510.46 133.38v4.31M518.45 133.38v4.31M569.57 133.38v4.31M582.36 133.38v4.31M583.95 137.65v4.31M590.35 137.65v4.31M579.16 141.91v4.31M582.36 141.91v4.31M542.41 146.18v4.31M555.19 146.18v4.31M504.07 150.45v4.31M563.18 150.45v4.31M590.35 150.45v4.31M550.40 154.71v4.31M563.18 154.71v4.31M599.93 154.71v4.31M567.98 158.98v4.31M591.94 158.98v4.31M619.11 158.98v4.31M577.56 163.24v4.31M603.13 163.24v4.31M604.73 163.24v4.31M620.70 163.24v4.31M579.16 167.51v4.31M604.73 167.51v4.31M491.28 171.78v4.31M547.21 171.78v4.31M577.56 171.78v4.31M583.95 171.78v4.31M585.55 171.78v4.31M575.97 176.04v4.31M590.35 176.04v4.31M603.13 176.04v4.31M606.32 176.04v4.31M559.99 180.31v4.31M571.17 180.31v4.31M611.12 180.31v4.31M561.59 184.57v4.31M596.74 184.57v4.31M603.13 184.57v4.31M480.10 188.84v4.31M548.80 188.84v4.31M553.60 188.84v4.31M558.39 188.84v4.31M591.94 188.84v4.31M598.33 188.84v4.31M611.12 188.84v4.31M580.76 193.11v4.31M606.32 193.11v4.31M545.61 197.37v4.31M550.40 197.37v4.31M561.59 197.37v4.31M579.16 197.37v4.31M583.95 197.37v4.31M591.94 197.37v4.31M604.73 197.37v4.31M607.92 197.37v4.31M620.70 197.37v4.31M483.29 201.64v4.31M486.49 201.64v4.31M489.69 201.64v4.31M558.39 201.64v4.31M571.17 201.64v4.31M572.77 201.64v4.31M575.97 201.64v4.31M612.71 201.64v4.31M488.09 205.90v4.31M580.76 205.90v4.31M591.94 205.90v4.31M619.11 205.90v4.31M545.61 210.17v4.31M547.21 210.17v4.31M567.98 210.17v4.31M569.57 210.17v4.31M574.37 210.17v4.31M598.33 210.17v4.31M481.70 214.44v4.31M553.60 214.44v4.31M563.18 214.44v4.31M598.33 214.44v4.31M607.92 214.44v4.31M614.31 214.44v4.31M622.30 214.44v4.31M481.70 218.70v4.31M548.80 218.70v4.31M563.18 218.70v4.31M569.57 218.70v4.31M575.97 218.70v4.31M596.74 218.70v4.31M486.49 222.97v4.31M494.48 222.97v4.31M553.60 222.97v4.31M567.98 222.97v4.31M591.94 222.97v4.31M486.49 227.23v4.31M553.60 227.23v4.31M563.18 227.23v4.31M587.15 227.23v4.31M595.14 227.23v4.31" stroke="#e5eff4"/><path d="M518.45 18.20v4.31M524.84 18.20v4.31M492.88 22.47v4.31M507.26 22.47v4.31M510.46 22.47v4.31M515.25 22.47v4.31M523.24 22.47v4.31M532.83 22.47v4.31M488.09 26.73v4.31M539.22 26.73v4.31M604.73 26.73v4.31M617.51 31.00v4.31M518.45 35.26v4.31M540.81 35.26v4.31M488.09 43.80v4.31M524.84 43.80v4.31M537.62 43.80v4.31M488.09 48.06v4.31M521.64 52.33v4.31M499.27 56.59v4.31M512.05 56.59v4.31M524.84 56.59v4.31M496.08 60.86v4.31M507.26 60.86v4.31M518.45 60.86v4.31M542.41 60.86v4.31M547.21 60.86v4.31M553.60 60.86v4.31M575.97 60.86v4.31M582.36 60.86v4.31M507.26 65.13v4.31M567.98 65.13v4.31M561.59 69.39v4.31M571.17 69.39v4.31M585.55 69.39v4.31M588.75 69.39v4.31M580.76 73.66v4.31M508.86 77.92v4.31M539.22 77.92v4.31M555.19 77.92v4.31M580.76 77.92v4.31M500.87 82.19v4.31M507.26 82.19v4.31M531.23 82.19v4.31M566.38 82.19v4.31M580.76 82.19v4.31M492.88 86.46v4.31M583.95 86.46v4.31M500.87 90.72v4.31M502.47 90.72v4.31M510.46 90.72v4.31M516.85 90.72v4.31M524.84 90.72v4.31M537.62 90.72v4.31M540.81 90.72v4.31M545.61 90.72v4.31M553.60 90.72v4.31M558.39 90.72v4.31M564.78 90.72v4.31M500.87 94.99v4.31M552.00 94.99v4.31M555.19 94.99v4.31M561.59 94.99v4.31M574.37 94.99v4.31M575.97 94.99v4.31M580.76 94.99v4.31M598.33 94.99v4.31M599.93 94.99v4.31M556.79 99.25v4.31M590.35 99.25v4.31M526.43 107.79v4.31M563.18 107.79v4.31M579.16 107.79v4.31M500.87 112.05v4.31M567.98 112.05v4.31M583.95 112.05v4.31M590.35 112.05v4.31M601.53 112.05v4.31M499.27 116.32v4.31M580.76 116.32v4.31M520.04 120.58v4.31M587.15 120.58v4.31M497.67 124.85v4.31M574.37 124.85v4.31M580.76 129.12v4.31M492.88 133.38v4.31M545.61 133.38v4.31M513.65 137.65v4.31M515.25 137.65v4.31M574.37 137.65v4.31M575.97 137.65v4.31M585.55 137.65v4.31M609.52 137.65v4.31M502.47 141.91v4.31M526.43 141.91v4.31M528.03 141.91v4.31M563.18 141.91v4.31M575.97 141.91v4.31M585.55 141.91v4.31M491.28 146.18v4.31M587.15 150.45v4.31M563.18 163.24v4.31M579.16 163.24v4.31M599.93 163.24v4.31M481.70 167.51v4.31M550.40 167.51v4.31M563.18 167.51v4.31M603.13 167.51v4.31M620.70 167.51v4.31M480.10 171.78v4.31M515.25 171.78v4.31M558.39 171.78v4.31M575.97 171.78v4.31M596.74 171.78v4.31M620.70 171.78v4.31M622.30 171.78v4.31M488.09 176.04v4.31M553.60 176.04v4.31M598.33 176.04v4.31M614.31 176.04v4.31M481.70 180.31v4.31M547.21 180.31v4.31M558.39 180.31v4.31M595.14 180.31v4.31M591.94 184.57v4.31M611.12 184.57v4.31M615.91 184.57v4.31M488.09 188.84v4.31M585.55 188.84v4.31M486.49 193.11v4.31M558.39 193.11v4.31M486.49 197.37v4.31M489.69 197.37v4.31M611.12 197.37v4.31M563.18 201.64v4.31M579.16 201.64v4.31M598.33 201.64v4.31M599.93 201.64v4.31M611.12 201.64v4.31M486.49 205.90v4.31M492.88 205.90v4.31M494.48 205.90v4.31M596.74 205.90v4.31M603.13 205.90v4.31M622.30 205.90v4.31M583.95 210.17v4.31M607.92 210.17v4.31M614.31 210.17v4.31M480.10 214.44v4.31M486.49 214.44v4.31M489.69 214.44v4.31M579.16 214.44v4.31M580.76 214.44v4.31M606.32 214.44v4.31M483.29 218.70v4.31M488.09 218.70v4.31M550.40 218.70v4.31M571.17 218.70v4.31M577.56 218.70v4.31M609.52 218.70v4.31M580.76 222.97v4.31M599.93 222.97v4.31M615.91 222.97v4.31M484.89 227.23v4.31M550.40 227.23v4.31M611.12 227.23v4.31" stroke="#ebf1f5"/><path d="M483.29 18.20v4.31M484.89 18.20v4.31M488.09 18.20v4.31M496.08 18.20v4.31M499.27 18.20v4.31M529.63 18.20v4.31M534.42 18.20v4.31M593.54 18.20v4.31M601.53 18.20v4.31M606.32 18.20v4.31M520.04 22.47v4.31M528.03 22.47v4.31M531.23 22.47v4.31M537.62 22.47v4.31M491.28 26.73v4.31M512.05 26.73v4.31M588.75 26.73v4.31M607.92 26.73v4.31M505.66 31.00v4.31M521.64 31.00v4.31M523.24 35.26v4.31M534.42 35.26v4.31M512.05 39.53v4.31M507.26 43.80v4.31M531.23 52.33v4.31M544.01 52.33v4.31M499.27 60.86v4.31M510.46 60.86v4.31M512.05 60.86v4.31M524.84 60.86v4.31M526.43 65.13v4.31M536.02 65.13v4.31M500.87 69.39v4.31M528.03 69.39v4.31M540.81 69.39v4.31M564.78 69.39v4.31M566.38 69.39v4.31M513.65 73.66v4.31M529.63 73.66v4.31M547.21 73.66v4.31M593.54 73.66v4.31M552.00 77.92v4.31M577.56 77.92v4.31M508.86 82.19v4.31M524.84 82.19v4.31M534.42 82.19v4.31M537.62 82.19v4.31M540.81 82.19v4.31M550.40 82.19v4.31M574.37 82.19v4.31M579.16 82.19v4.31M588.75 82.19v4.31M521.64 86.46v4.31M532.83 86.46v4.31M559.99 86.46v4.31M512.05 90.72v4.31M537.62 94.99v4.31M550.40 94.99v4.31M595.14 94.99v4.31M607.92 94.99v4.31M550.40 99.25v4.31M504.07 103.52v4.31M515.25 103.52v4.31M567.98 103.52v4.31M580.76 103.52v4.31M587.15 103.52v4.31M590.35 103.52v4.31M499.27 107.79v4.31M502.47 107.79v4.31M507.26 107.79v4.31M528.03 107.79v4.31M536.02 107.79v4.31M497.67 112.05v4.31M520.04 112.05v4.31M563.18 112.05v4.31M497.67 116.32v4.31M502.47 116.32v4.31M507.26 120.58v4.31M579.16 120.58v4.31M580.76 120.58v4.31M582.36 120.58v4.31M499.27 124.85v4.31M550.40 124.85v4.31M561.59 124.85v4.31M579.16 124.85v4.31M502.47 129.12v4.31M515.25 133.38v4.31M526.43 133.38v4.31M508.86 137.65v4.31M528.03 137.65v4.31M563.18 137.65v4.31M571.17 137.65v4.31M595.14 137.65v4.31M513.65 141.91v4.31M526.43 146.18v4.31M587.15 146.18v4.31M515.25 150.45v4.31M561.59 150.45v4.31M593.54 150.45v4.31M550.40 158.98v4.31M579.16 158.98v4.31M622.30 158.98v4.31M492.88 163.24v4.31M583.95 163.24v4.31M606.32 163.24v4.31M614.31 163.24v4.31M615.91 163.24v4.31M489.69 167.51v4.31M508.86 167.51v4.31M515.25 167.51v4.31M548.80 167.51v4.31M488.09 171.78v4.31M489.69 171.78v4.31M494.48 171.78v4.31M550.40 171.78v4.31M612.71 171.78v4.31M596.74 176.04v4.31M611.12 176.04v4.31M615.91 176.04v4.31M619.11 176.04v4.31M488.09 180.31v4.31M580.76 180.31v4.31M494.48 184.57v4.31M582.36 184.57v4.31M607.92 184.57v4.31M579.16 188.84v4.31M596.74 188.84v4.31M620.70 188.84v4.31M614.31 193.11v4.31M620.70 193.11v4.31M480.10 197.37v4.31M556.79 197.37v4.31M585.55 197.37v4.31M590.35 197.37v4.31M596.74 197.37v4.31M614.31 197.37v4.31M488.09 201.64v4.31M582.36 201.64v4.31M617.51 201.64v4.31M540.81 205.90v4.31M558.39 205.90v4.31M561.59 205.90v4.31M569.57 205.90v4.31M574.37 205.90v4.31M582.36 205.90v4.31M607.92 205.90v4.31M611.12 205.90v4.31M552.00 210.17v4.31M563.18 210.17v4.31M575.97 210.17v4.31M617.51 210.17v4.31M550.40 214.44v4.31M585.55 214.44v4.31M620.70 214.44v4.31M590.35 218.70v4.31M607.92 218.70v4.31M499.27 222.97v4.31M550.40 222.97v4.31M559.99 222.97v4.31M566.38 222.97v4.31M579.16 222.97v4.31M607.92 222.97v4.31M488.09 227.23v4.31M547.21 227.23v4.31" stroke="#f1f4f6"/><path d="M513.65 18.20v4.31M515.25 18.20v4.31M528.03 18.20v4.31M537.62 18.20v4.31M595.14 18.20v4.31M491.28 22.47v4.31M542.41 22.47v4.31M585.55 22.47v4.31M588.75 22.47v4.31M596.74 22.47v4.31M614.31 26.73v4.31M488.09 31.00v4.31M510.46 31.00v4.31M544.01 56.59v4.31M593.54 56.59v4.31M537.62 60.86v4.31M544.01 60.86v4.31M569.57 60.86v4.31M571.17 60.86v4.31M512.05 65.13v4.31M534.42 65.13v4.31M563.18 65.13v4.31M582.36 65.13v4.31M504.07 73.66v4.31M505.66 73.66v4.31M515.25 73.66v4.31M523.24 73.66v4.31M537.62 73.66v4.31M564.78 73.66v4.31M547.21 77.92v4.31M567.98 77.92v4.31M585.55 77.92v4.31M499.27 82.19v4.31M567.98 82.19v4.31M513.65 86.46v4.31M515.25 86.46v4.31M588.75 86.46v4.31M545.61 94.99v4.31M587.15 94.99v4.31M614.31 94.99v4.31M499.27 99.25v4.31M585.55 99.25v4.31M601.53 99.25v4.31M500.87 103.52v4.31M523.24 103.52v4.31M579.16 103.52v4.31M583.95 103.52v4.31M593.54 103.52v4.31M550.40 107.79v4.31M569.57 107.79v4.31M583.95 107.79v4.31M523.24 112.05v4.31M587.15 112.05v4.31M523.24 116.32v4.31M561.59 116.32v4.31M583.95 116.32v4.31M497.67 120.58v4.31M504.07 120.58v4.31M508.86 124.85v4.31M537.62 124.85v4.31M563.18 124.85v4.31M585.55 124.85v4.31M500.87 129.12v4.31M587.15 129.12v4.31M591.94 129.12v4.31M593.54 129.12v4.31M571.17 133.38v4.31M585.55 133.38v4.31M518.45 137.65v4.31M603.13 137.65v4.31M500.87 141.91v4.31M515.25 141.91v4.31M523.24 141.91v4.31M587.15 141.91v4.31M593.54 141.91v4.31M502.47 146.18v4.31M515.25 146.18v4.31M536.02 150.45v4.31M579.16 150.45v4.31M580.76 150.45v4.31M598.33 150.45v4.31M580.76 163.24v4.31M598.33 163.24v4.31M496.08 167.51v4.31M614.31 167.51v4.31M561.59 171.78v4.31M590.35 171.78v4.31M598.33 171.78v4.31M611.12 171.78v4.31M619.11 171.78v4.31M484.89 176.04v4.31M561.59 176.04v4.31M579.16 176.04v4.31M491.28 180.31v4.31M508.86 180.31v4.31M585.55 180.31v4.31M596.74 180.31v4.31M486.49 184.57v4.31M489.69 184.57v4.31M567.98 184.57v4.31M574.37 184.57v4.31M606.32 184.57v4.31M496.08 188.84v4.31M507.26 188.84v4.31M550.40 188.84v4.31M580.76 188.84v4.31M587.15 188.84v4.31M615.91 188.84v4.31M488.09 193.11v4.31M508.86 193.11v4.31M515.25 193.11v4.31M599.93 193.11v4.31M617.51 193.11v4.31M483.29 197.37v4.31M542.41 197.37v4.31M563.18 205.90v4.31M567.98 205.90v4.31M579.16 205.90v4.31M583.95 205.90v4.31M491.28 210.17v4.31M483.29 214.44v4.31M558.39 214.44v4.31M599.93 214.44v4.31M547.21 218.70v4.31M558.39 218.70v4.31M619.11 218.70v4.31M484.89 222.97v4.31M574.37 222.97v4.31M606.32 222.97v4.31M494.48 227.23v4.31M523.24 227.23v4.31M545.61 227.23v4.31M561.59 227.23v4.31" stroke="#f7f7f7"/><path d="M486.49 18.20v4.31M526.43 18.20v4.31M539.22 18.20v4.31M596.74 18.20v4.31M599.93 18.20v4.31M516.85 22.47v4.31M518.45 22.47v4.31M590.35 22.47v4.31M590.35 26.73v4.31M593.54 26.73v4.31M598.33 26.73v4.31M620.70 26.73v4.31M604.73 31.00v4.31M532.83 43.80v4.31M542.41 43.80v4.31M609.52 43.80v4.31M529.63 48.06v4.31M536.02 48.06v4.31M564.78 48.06v4.31M588.75 52.33v4.31M609.52 52.33v4.31M548.80 56.59v4.31M532.83 60.86v4.31M534.42 60.86v4.31M558.39 60.86v4.31M567.98 60.86v4.31M580.76 60.86v4.31M587.15 60.86v4.31M588.75 60.86v4.31M491.28 65.13v4.31M505.66 65.13v4.31M515.25 65.13v4.31M516.85 65.13v4.31M547.21 65.13v4.31M548.80 65.13v4.31M558.39 65.13v4.31M566.38 65.13v4.31M520.04 69.39v4.31M537.62 69.39v4.31M547.21 69.39v4.31M548.80 73.66v4.31M566.38 73.66v4.31M569.57 73.66v4.31M516.85 77.92v4.31M534.42 77.92v4.31M550.40 77.92v4.31M558.39 77.92v4.31M510.46 82.19v4.31M539.22 82.19v4.31M577.56 82.19v4.31M526.43 86.46v4.31M585.55 86.46v4.31M520.04 90.72v4.31M539.22 90.72v4.31M542.41 90.72v4.31M544.01 90.72v4.31M593.54 90.72v4.31M619.11 94.99v4.31M548.80 99.25v4.31M513.65 103.52v4.31M516.85 103.52v4.31M520.04 103.52v4.31M526.43 103.52v4.31M585.55 103.52v4.31M500.87 107.79v4.31M504.07 107.79v4.31M513.65 107.79v4.31M518.45 107.79v4.31M520.04 107.79v4.31M575.97 112.05v4.31M588.75 112.05v4.31M507.26 116.32v4.31M574.37 116.32v4.31M587.15 116.32v4.31M499.27 120.58v4.31M508.86 120.58v4.31M515.25 120.58v4.31M550.40 120.58v4.31M523.24 124.85v4.31M528.03 124.85v4.31M539.22 124.85v4.31M547.21 124.85v4.31M497.67 129.12v4.31M508.86 133.38v4.31M550.40 133.38v4.31M579.16 133.38v4.31M587.15 133.38v4.31M593.54 133.38v4.31M502.47 137.65v4.31M516.85 137.65v4.31M587.15 137.65v4.31M497.67 141.91v4.31M507.26 141.91v4.31M542.41 141.91v4.31M548.80 146.18v4.31M574.37 146.18v4.31M521.64 150.45v4.31M528.03 150.45v4.31M609.52 150.45v4.31M494.48 163.24v4.31M507.26 163.24v4.31M571.17 163.24v4.31M574.37 167.51v4.31M607.92 167.51v4.31M489.69 176.04v4.31M496.08 176.04v4.31M483.29 180.31v4.31M496.08 180.31v4.31M548.80 180.31v4.31M574.37 180.31v4.31M579.16 180.31v4.31M585.55 184.57v4.31M595.14 184.57v4.31M619.11 188.84v4.31M483.29 193.11v4.31M603.13 193.11v4.31M496.08 197.37v4.31M500.87 197.37v4.31M550.40 205.90v4.31M480.10 210.17v4.31M496.08 210.17v4.31M619.11 214.44v4.31M496.08 218.70v4.31M556.79 218.70v4.31M591.94 218.70v4.31M611.12 218.70v4.31M532.83 222.97v4.31M611.12 222.97v4.31M508.86 227.23v4.31M569.57 227.23v4.31M622.30 227.23v4.31" stroke="#f8f3f0"/><path d="M497.67 18.20v4.31M523.24 18.20v4.31M591.94 18.20v4.31M544.01 26.73v4.31M582.36 26.73v4.31M595.14 26.73v4.31M611.12 31.00v4.31M532.83 35.26v4.31M601.53 35.26v4.31M521.64 39.53v4.31M536.02 39.53v4.31M556.79 52.33v4.31M566.38 52.33v4.31M574.37 52.33v4.31M507.26 56.59v4.31M515.25 60.86v4.31M552.00 60.86v4.31M492.88 65.13v4.31M499.27 65.13v4.31M532.83 65.13v4.31M555.19 65.13v4.31M556.79 65.13v4.31M531.23 69.39v4.31M536.02 69.39v4.31M542.41 69.39v4.31M548.80 69.39v4.31M567.98 69.39v4.31M582.36 69.39v4.31M590.35 69.39v4.31M612.71 69.39v4.31M510.46 73.66v4.31M550.40 73.66v4.31M553.60 73.66v4.31M561.59 73.66v4.31M542.41 77.92v4.31M548.80 77.92v4.31M555.19 82.19v4.31M569.57 82.19v4.31M572.77 82.19v4.31M504.07 86.46v4.31M555.19 86.46v4.31M567.98 86.46v4.31M491.28 90.72v4.31M507.26 90.72v4.31M552.00 90.72v4.31M587.15 90.72v4.31M534.42 99.25v4.31M615.91 99.25v4.31M508.86 103.52v4.31M591.94 103.52v4.31M515.25 107.79v4.31M537.62 107.79v4.31M595.14 107.79v4.31M526.43 112.05v4.31M528.03 112.05v4.31M504.07 116.32v4.31M515.25 116.32v4.31M516.85 116.32v4.31M512.05 120.58v4.31M590.35 120.58v4.31M504.07 124.85v4.31M588.75 124.85v4.31M591.94 124.85v4.31M593.54 124.85v4.31M520.04 129.12v4.31M534.42 129.12v4.31M513.65 133.38v4.31M520.04 133.38v4.31M507.26 137.65v4.31M520.04 137.65v4.31M540.81 137.65v4.31M579.16 137.65v4.31M593.54 137.65v4.31M504.07 141.91v4.31M601.53 141.91v4.31M534.42 146.18v4.31M547.21 146.18v4.31M593.54 146.18v4.31M591.94 150.45v4.31M596.74 150.45v4.31M601.53 150.45v4.31M603.13 150.45v4.31M615.91 150.45v4.31M617.51 150.45v4.31M558.39 163.24v4.31M619.11 163.24v4.31M483.29 167.51v4.31M488.09 167.51v4.31M587.15 167.51v4.31M526.43 171.78v4.31M502.47 176.04v4.31M508.86 176.04v4.31M528.03 180.31v4.31M481.70 188.84v4.31M516.85 188.84v4.31M593.54 188.84v4.31M607.92 188.84v4.31M489.69 193.11v4.31M504.07 193.11v4.31M529.63 197.37v4.31M563.18 197.37v4.31M494.48 201.64v4.31M496.08 201.64v4.31M526.43 205.90v4.31M537.62 205.90v4.31M555.19 205.90v4.31M486.49 210.17v4.31M497.67 210.17v4.31M500.87 210.17v4.31M579.16 210.17v4.31M596.74 210.17v4.31M488.09 214.44v4.31M494.48 214.44v4.31M526.43 222.97v4.31M502.47 227.23v4.31" stroke="#f9eee8"/><path d="M492.88 18.20v4.31M500.87 18.20v4.31M505.66 18.20v4.31M559.99 18.20v4.31M585.55 18.20v4.31M524.84 22.47v4.31M574.37 22.47v4.31M598.33 22.47v4.31M606.32 22.47v4.31M532.83 26.73v4.31M596.74 26.73v4.31M588.75 31.00v4.31M596.74 31.00v4.31M603.13 31.00v4.31M606.32 31.00v4.31M607.92 31.00v4.31M614.31 31.00v4.31M531.23 39.53v4.31M564.78 39.53v4.31M552.00 48.06v4.31M588.75 48.06v4.31M491.28 60.86v4.31M529.63 60.86v4.31M548.80 60.86v4.31M563.18 60.86v4.31M537.62 65.13v4.31M550.40 65.13v4.31M569.57 65.13v4.31M572.77 65.13v4.31M574.37 65.13v4.31M588.75 65.13v4.31M596.74 65.13v4.31M601.53 65.13v4.31M534.42 69.39v4.31M550.40 69.39v4.31M552.00 69.39v4.31M558.39 69.39v4.31M593.54 69.39v4.31M502.47 77.92v4.31M510.46 77.92v4.31M512.05 77.92v4.31M531.23 77.92v4.31M575.97 77.92v4.31M601.53 77.92v4.31M505.66 82.19v4.31M547.21 82.19v4.31M488.09 86.46v4.31M500.87 86.46v4.31M520.04 86.46v4.31M536.02 86.46v4.31M552.00 86.46v4.31M580.76 86.46v4.31M563.18 90.72v4.31M574.37 90.72v4.31M582.36 90.72v4.31M588.75 90.72v4.31M505.66 94.99v4.31M532.83 94.99v4.31M579.16 94.99v4.31M504.07 99.25v4.31M505.66 99.25v4.31M512.05 99.25v4.31M524.84 99.25v4.31M587.15 99.25v4.31M595.14 99.25v4.31M523.24 107.79v4.31M507.26 112.05v4.31M524.84 112.05v4.31M534.42 112.05v4.31M591.94 112.05v4.31M598.33 112.05v4.31M579.16 116.32v4.31M500.87 120.58v4.31M510.46 120.58v4.31M523.24 120.58v4.31M563.18 120.58v4.31M593.54 120.58v4.31M513.65 124.85v4.31M536.02 124.85v4.31M604.73 124.85v4.31M504.07 129.12v4.31M516.85 129.12v4.31M542.41 129.12v4.31M563.18 129.12v4.31M579.16 129.12v4.31M497.67 133.38v4.31M516.85 133.38v4.31M532.83 133.38v4.31M523.24 137.65v4.31M524.84 137.65v4.31M591.94 137.65v4.31M508.86 141.91v4.31M512.05 141.91v4.31M531.23 141.91v4.31M529.63 146.18v4.31M612.71 146.18v4.31M502.47 150.45v4.31M548.80 150.45v4.31M583.95 150.45v4.31M607.92 150.45v4.31M484.89 158.98v4.31M488.09 163.24v4.31M496.08 163.24v4.31M486.49 176.04v4.31M520.04 180.31v4.31M492.88 188.84v4.31M494.48 188.84v4.31M491.28 193.11v4.31M504.07 197.37v4.31M518.45 197.37v4.31M497.67 201.64v4.31M528.03 205.90v4.31M614.31 205.90v4.31M483.29 222.97v4.31M507.26 222.97v4.31" stroke="#faeae0"/><path d="M540.81 18.20v4.31M544.01 18.20v4.31M500.87 22.47v4.31M512.05 22.47v4.31M599.93 22.47v4.31M614.31 22.47v4.31M590.35 31.00v4.31M598.33 31.00v4.31M588.75 35.26v4.31M587.15 39.53v4.31M547.21 48.06v4.31M537.62 52.33v4.31M588.75 56.59v4.31M528.03 60.86v4.31M583.95 60.86v4.31M603.13 60.86v4.31M500.87 65.13v4.31M531.23 65.13v4.31M577.56 65.13v4.31M507.26 69.39v4.31M523.24 69.39v4.31M529.63 69.39v4.31M575.97 69.39v4.31M615.91 69.39v4.31M518.45 73.66v4.31M531.23 73.66v4.31M542.41 73.66v4.31M552.00 73.66v4.31M558.39 73.66v4.31M563.18 73.66v4.31M574.37 73.66v4.31M579.16 77.92v4.31M518.45 82.19v4.31M583.95 82.19v4.31M585.55 82.19v4.31M528.03 86.46v4.31M542.41 86.46v4.31M569.57 86.46v4.31M574.37 86.46v4.31M591.94 86.46v4.31M534.42 90.72v4.31M595.14 90.72v4.31M563.18 94.99v4.31M499.27 103.52v4.31M502.47 103.52v4.31M524.84 103.52v4.31M595.14 103.52v4.31M512.05 107.79v4.31M521.64 107.79v4.31M593.54 107.79v4.31M598.33 107.79v4.31M515.25 112.05v4.31M516.85 112.05v4.31M536.02 112.05v4.31M609.52 112.05v4.31M505.66 116.32v4.31M524.84 116.32v4.31M534.42 116.32v4.31M537.62 116.32v4.31M542.41 116.32v4.31M590.35 116.32v4.31M516.85 120.58v4.31M542.41 120.58v4.31M591.94 120.58v4.31M505.66 124.85v4.31M516.85 124.85v4.31M540.81 124.85v4.31M505.66 129.12v4.31M540.81 129.12v4.31M590.35 129.12v4.31M500.87 137.65v4.31M596.74 137.65v4.31M534.42 141.91v4.31M536.02 141.91v4.31M540.81 141.91v4.31M595.14 141.91v4.31M508.86 146.18v4.31M510.46 146.18v4.31M520.04 146.18v4.31M524.84 146.18v4.31M505.66 150.45v4.31M518.45 150.45v4.31M520.04 150.45v4.31M542.41 150.45v4.31M550.40 150.45v4.31M518.45 167.51v4.31M483.29 171.78v4.31M520.04 171.78v4.31M579.16 171.78v4.31M591.94 176.04v4.31M499.27 180.31v4.31M507.26 180.31v4.31M529.63 180.31v4.31M488.09 184.57v4.31M486.49 188.84v4.31M497.67 188.84v4.31M513.65 188.84v4.31M491.28 197.37v4.31M508.86 197.37v4.31M521.64 197.37v4.31M528.03 197.37v4.31M492.88 210.17v4.31M494.48 210.17v4.31M518.45 210.17v4.31M526.43 210.17v4.31M496.08 214.44v4.31M515.25 214.44v4.31M526.43 214.44v4.31M491.28 218.70v4.31M488.09 222.97v4.31M500.87 222.97v4.31M515.25 222.97v4.31" stroke="#fbe6d9"/><path d="M489.69 18.20v4.31M521.64 18.20v4.31M587.15 18.20v4.31M505.66 22.47v4.31M529.63 22.47v4.31M604.73 22.47v4.31M611.12 22.47v4.31M587.15 35.26v4.31M588.75 39.53v4.31M609.52 39.53v4.31M588.75 43.80v4.31M577.56 48.06v4.31M555.19 52.33v4.31M585.55 52.33v4.31M556.79 56.59v4.31M561.59 56.59v4.31M563.18 56.59v4.31M582.36 56.59v4.31M520.04 65.13v4.31M579.16 65.13v4.31M583.95 65.13v4.31M559.99 69.39v4.31M583.95 69.39v4.31M536.02 73.66v4.31M518.45 77.92v4.31M523.24 77.92v4.31M536.02 77.92v4.31M574.37 77.92v4.31M583.95 77.92v4.31M591.94 77.92v4.31M593.54 77.92v4.31M609.52 77.92v4.31M558.39 82.19v4.31M590.35 82.19v4.31M516.85 86.46v4.31M575.97 86.46v4.31M579.16 86.46v4.31M593.54 86.46v4.31M601.53 86.46v4.31M505.66 90.72v4.31M596.74 90.72v4.31M603.13 90.72v4.31M559.99 94.99v4.31M596.74 94.99v4.31M513.65 99.25v4.31M515.25 99.25v4.31M540.81 103.52v4.31M532.83 112.05v4.31M542.41 112.05v4.31M500.87 116.32v4.31M508.86 116.32v4.31M513.65 116.32v4.31M540.81 116.32v4.31M595.14 116.32v4.31M513.65 120.58v4.31M540.81 120.58v4.31M526.43 124.85v4.31M542.41 124.85v4.31M510.46 129.12v4.31M518.45 129.12v4.31M532.83 129.12v4.31M528.03 133.38v4.31M591.94 133.38v4.31M601.53 133.38v4.31M534.42 137.65v4.31M544.01 137.65v4.31M601.53 137.65v4.31M518.45 141.91v4.31M539.22 141.91v4.31M591.94 141.91v4.31M596.74 141.91v4.31M617.51 141.91v4.31M595.14 146.18v4.31M604.73 146.18v4.31M609.52 146.18v4.31M512.05 150.45v4.31M516.85 150.45v4.31M540.81 150.45v4.31M544.01 150.45v4.31M595.14 150.45v4.31M486.49 163.24v4.31M492.88 167.51v4.31M492.88 171.78v4.31M497.67 171.78v4.31M499.27 176.04v4.31M518.45 176.04v4.31M523.24 176.04v4.31M497.67 180.31v4.31M491.28 184.57v4.31M502.47 184.57v4.31M528.03 184.57v4.31M491.28 188.84v4.31M540.81 188.84v4.31M492.88 193.11v4.31M516.85 193.11v4.31M523.24 197.37v4.31M491.28 201.64v4.31M508.86 201.64v4.31M483.29 205.90v4.31M504.07 205.90v4.31M524.84 205.90v4.31M508.86 210.17v4.31M528.03 210.17v4.31M492.88 214.44v4.31M508.86 214.44v4.31M520.04 218.70v4.31M492.88 222.97v4.31M536.02 222.97v4.31M529.63 227.23v4.31" stroke="#fce1d2"/><path d="M532.83 18.20v4.31M494.48 22.47v4.31M496.08 22.47v4.31M534.42 22.47v4.31M544.01 22.47v4.31M564.78 22.47v4.31M566.38 22.47v4.31M599.93 26.73v4.31M587.15 31.00v4.31M545.61 39.53v4.31M566.38 43.80v4.31M575.97 48.06v4.31M545.61 52.33v4.31M564.78 52.33v4.31M572.77 52.33v4.31M547.21 56.59v4.31M569.57 56.59v4.31M571.17 56.59v4.31M577.56 56.59v4.31M591.94 56.59v4.31M505.66 60.86v4.31M539.22 60.86v4.31M521.64 65.13v4.31M528.03 65.13v4.31M587.15 65.13v4.31M590.35 65.13v4.31M580.76 69.39v4.31M516.85 73.66v4.31M577.56 73.66v4.31M583.95 73.66v4.31M513.65 77.92v4.31M575.97 82.19v4.31M609.52 82.19v4.31M510.46 86.46v4.31M521.64 90.72v4.31M559.99 90.72v4.31M580.76 90.72v4.31M609.52 90.72v4.31M520.04 94.99v4.31M534.42 94.99v4.31M508.86 99.25v4.31M521.64 99.25v4.31M526.43 99.25v4.31M532.83 99.25v4.31M536.02 99.25v4.31M537.62 99.25v4.31M510.46 103.52v4.31M512.05 103.52v4.31M521.64 103.52v4.31M528.03 103.52v4.31M529.63 103.52v4.31M531.23 103.52v4.31M539.22 103.52v4.31M544.01 103.52v4.31M531.23 107.79v4.31M505.66 112.05v4.31M512.05 112.05v4.31M540.81 112.05v4.31M520.04 116.32v4.31M536.02 116.32v4.31M528.03 120.58v4.31M537.62 120.58v4.31M539.22 120.58v4.31M595.14 120.58v4.31M609.52 120.58v4.31M515.25 129.12v4.31M521.64 129.12v4.31M529.63 129.12v4.31M531.23 129.12v4.31M595.14 129.12v4.31M609.52 129.12v4.31M507.26 133.38v4.31M598.33 133.38v4.31M611.12 133.38v4.31M510.46 141.91v4.31M516.85 141.91v4.31M520.04 141.91v4.31M529.63 141.91v4.31M532.83 141.91v4.31M537.62 141.91v4.31M603.13 141.91v4.31M539.22 146.18v4.31M550.40 146.18v4.31M590.35 146.18v4.31M591.94 146.18v4.31M601.53 146.18v4.31M507.26 150.45v4.31M513.65 150.45v4.31M622.30 150.45v4.31M483.29 163.24v4.31M491.28 163.24v4.31M523.24 163.24v4.31M494.48 167.51v4.31M497.67 167.51v4.31M540.81 167.51v4.31M536.02 171.78v4.31M491.28 176.04v4.31M494.48 176.04v4.31M515.25 176.04v4.31M502.47 180.31v4.31M504.07 180.31v4.31M483.29 184.57v4.31M504.07 184.57v4.31M516.85 184.57v4.31M529.63 188.84v4.31M496.08 193.11v4.31M523.24 193.11v4.31M488.09 197.37v4.31M524.84 197.37v4.31M492.88 201.64v4.31M515.25 205.90v4.31M513.65 210.17v4.31M529.63 210.17v4.31M536.02 210.17v4.31M486.49 218.70v4.31M492.88 218.70v4.31M494.48 218.70v4.31M526.43 218.70v4.31M497.67 222.97v4.31M504.07 222.97v4.31M508.86 222.97v4.31M513.65 227.23v4.31M540.81 227.23v4.31" stroke="#fdddca"/><path d="M512.05 18.20v4.31M521.64 22.47v4.31M559.99 22.47v4.31M593.54 22.47v4.31M585.55 26.73v4.31M619.11 31.00v4.31M552.00 35.26v4.31M572.77 35.26v4.31M582.36 39.53v4.31M585.55 39.53v4.31M601.53 39.53v4.31M593.54 43.80v4.31M567.98 48.06v4.31M548.80 52.33v4.31M552.00 52.33v4.31M561.59 52.33v4.31M587.15 52.33v4.31M590.35 52.33v4.31M595.14 52.33v4.31M558.39 56.59v4.31M574.37 56.59v4.31M590.35 56.59v4.31M595.14 56.59v4.31M609.52 56.59v4.31M531.23 60.86v4.31M556.79 60.86v4.31M585.55 60.86v4.31M609.52 60.86v4.31M561.59 65.13v4.31M510.46 69.39v4.31M521.64 69.39v4.31M577.56 69.39v4.31M604.73 69.39v4.31M521.64 73.66v4.31M539.22 73.66v4.31M575.97 73.66v4.31M585.55 73.66v4.31M595.14 73.66v4.31M521.64 77.92v4.31M563.18 86.46v4.31M572.77 86.46v4.31M612.71 86.46v4.31M620.70 86.46v4.31M590.35 90.72v4.31M507.26 94.99v4.31M508.86 94.99v4.31M510.46 94.99v4.31M536.02 94.99v4.31M510.46 99.25v4.31M518.45 99.25v4.31M542.41 99.25v4.31M611.12 99.25v4.31M505.66 107.79v4.31M510.46 107.79v4.31M540.81 107.79v4.31M587.15 107.79v4.31M609.52 107.79v4.31M518.45 112.05v4.31M521.64 112.05v4.31M596.74 112.05v4.31M526.43 116.32v4.31M593.54 116.32v4.31M603.13 116.32v4.31M612.71 116.32v4.31M515.25 124.85v4.31M520.04 124.85v4.31M601.53 124.85v4.31M524.84 129.12v4.31M526.43 129.12v4.31M528.03 129.12v4.31M500.87 133.38v4.31M524.84 133.38v4.31M534.42 133.38v4.31M536.02 133.38v4.31M544.01 133.38v4.31M529.63 137.65v4.31M606.32 141.91v4.31M504.07 146.18v4.31M516.85 146.18v4.31M523.24 146.18v4.31M526.43 150.45v4.31M539.22 150.45v4.31M599.93 150.45v4.31M620.70 150.45v4.31M497.67 163.24v4.31M491.28 167.51v4.31M520.04 167.51v4.31M504.07 171.78v4.31M542.41 171.78v4.31M516.85 176.04v4.31M500.87 180.31v4.31M521.64 180.31v4.31M536.02 180.31v4.31M499.27 188.84v4.31M542.41 188.84v4.31M512.05 193.11v4.31M526.43 193.11v4.31M532.83 193.11v4.31M499.27 197.37v4.31M502.47 197.37v4.31M507.26 205.90v4.31M508.86 205.90v4.31M513.65 205.90v4.31M518.45 205.90v4.31M504.07 210.17v4.31M515.25 210.17v4.31M499.27 214.44v4.31M497.67 218.70v4.31M499.27 218.70v4.31M500.87 218.70v4.31M508.86 218.70v4.31M515.25 218.70v4.31M491.28 222.97v4.31M491.28 227.23v4.31M528.03 227.23v4.31" stroke="#fcd6c1"/><path d="M582.36 18.20v4.31M539.22 22.47v4.31M583.95 26.73v4.31M591.94 26.73v4.31M559.99 35.26v4.31M582.36 35.26v4.31M553.60 39.53v4.31M555.19 43.80v4.31M583.95 43.80v4.31M590.35 48.06v4.31M603.13 48.06v4.31M553.60 52.33v4.31M583.95 52.33v4.31M572.77 56.59v4.31M587.15 56.59v4.31M520.04 60.86v4.31M521.64 60.86v4.31M579.16 60.86v4.31M593.54 60.86v4.31M615.91 60.86v4.31M620.70 60.86v4.31M585.55 65.13v4.31M569.57 69.39v4.31M591.94 69.39v4.31M598.33 69.39v4.31M545.61 73.66v4.31M571.17 73.66v4.31M604.73 77.92v4.31M607.92 77.92v4.31M587.15 82.19v4.31M544.01 86.46v4.31M582.36 86.46v4.31M561.59 90.72v4.31M528.03 94.99v4.31M558.39 94.99v4.31M507.26 99.25v4.31M516.85 99.25v4.31M523.24 99.25v4.31M539.22 99.25v4.31M524.84 107.79v4.31M534.42 107.79v4.31M539.22 107.79v4.31M604.73 107.79v4.31M537.62 112.05v4.31M595.14 112.05v4.31M539.22 116.32v4.31M609.52 116.32v4.31M518.45 120.58v4.31M521.64 120.58v4.31M529.63 120.58v4.31M544.01 120.58v4.31M601.53 120.58v4.31M620.70 120.58v4.31M500.87 124.85v4.31M507.26 124.85v4.31M510.46 124.85v4.31M512.05 124.85v4.31M529.63 124.85v4.31M531.23 124.85v4.31M532.83 124.85v4.31M544.01 124.85v4.31M595.14 124.85v4.31M609.52 124.85v4.31M507.26 129.12v4.31M539.22 129.12v4.31M596.74 129.12v4.31M612.71 129.12v4.31M512.05 133.38v4.31M523.24 133.38v4.31M540.81 133.38v4.31M595.14 133.38v4.31M609.52 133.38v4.31M512.05 137.65v4.31M531.23 137.65v4.31M536.02 137.65v4.31M539.22 137.65v4.31M598.33 137.65v4.31M521.64 141.91v4.31M512.05 146.18v4.31M537.62 146.18v4.31M544.01 146.18v4.31M585.55 146.18v4.31M607.92 146.18v4.31M619.11 146.18v4.31M620.70 146.18v4.31M524.84 150.45v4.31M537.62 150.45v4.31M604.73 150.45v4.31M480.10 158.98v4.31M489.69 158.98v4.31M515.25 158.98v4.31M504.07 163.24v4.31M526.43 163.24v4.31M499.27 167.51v4.31M502.47 167.51v4.31M508.86 171.78v4.31M518.45 171.78v4.31M534.42 171.78v4.31M507.26 176.04v4.31M526.43 176.04v4.31M540.81 176.04v4.31M494.48 180.31v4.31M532.83 180.31v4.31M540.81 180.31v4.31M534.42 184.57v4.31M526.43 188.84v4.31M536.02 188.84v4.31M544.01 188.84v4.31M494.48 193.11v4.31M513.65 193.11v4.31M528.03 193.11v4.31M515.25 197.37v4.31M516.85 197.37v4.31M520.04 197.37v4.31M540.81 197.37v4.31M499.27 201.64v4.31M515.25 201.64v4.31M491.28 205.90v4.31M496.08 205.90v4.31M500.87 205.90v4.31M492.88 227.23v4.31M515.25 227.23v4.31M520.04 227.23v4.31" stroke="#fbceb6"/><path d="M564.78 18.20v4.31M590.35 18.20v4.31M567.98 22.47v4.31M582.36 22.47v4.31M587.15 26.73v4.31M564.78 31.00v4.31M583.95 31.00v4.31M548.80 35.26v4.31M620.70 35.26v4.31M559.99 39.53v4.31M567.98 39.53v4.31M550.40 43.80v4.31M553.60 43.80v4.31M571.17 43.80v4.31M572.77 43.80v4.31M612.71 43.80v4.31M545.61 48.06v4.31M555.19 48.06v4.31M561.59 48.06v4.31M566.38 48.06v4.31M593.54 48.06v4.31M559.99 52.33v4.31M567.98 52.33v4.31M577.56 52.33v4.31M580.76 52.33v4.31M582.36 52.33v4.31M591.94 52.33v4.31M585.55 56.59v4.31M607.92 56.59v4.31M574.37 60.86v4.31M619.11 60.86v4.31M593.54 65.13v4.31M512.05 73.66v4.31M544.01 73.66v4.31M582.36 77.92v4.31M599.93 77.92v4.31M512.05 82.19v4.31M563.18 82.19v4.31M582.36 82.19v4.31M593.54 82.19v4.31M590.35 86.46v4.31M531.23 90.72v4.31M579.16 90.72v4.31M513.65 94.99v4.31M515.25 94.99v4.31M540.81 94.99v4.31M542.41 94.99v4.31M500.87 99.25v4.31M540.81 99.25v4.31M544.01 99.25v4.31M505.66 103.52v4.31M601.53 103.52v4.31M609.52 103.52v4.31M591.94 107.79v4.31M612.71 107.79v4.31M513.65 112.05v4.31M539.22 112.05v4.31M599.93 112.05v4.31M614.31 112.05v4.31M521.64 116.32v4.31M505.66 120.58v4.31M534.42 120.58v4.31M599.93 120.58v4.31M604.73 120.58v4.31M537.62 129.12v4.31M615.91 129.12v4.31M505.66 133.38v4.31M590.35 133.38v4.31M542.41 137.65v4.31M544.01 141.91v4.31M607.92 141.91v4.31M615.91 141.91v4.31M596.74 146.18v4.31M598.33 146.18v4.31M606.32 146.18v4.31M529.63 150.45v4.31M531.23 150.45v4.31M614.31 150.45v4.31M496.08 158.98v4.31M520.04 158.98v4.31M540.81 158.98v4.31M508.86 163.24v4.31M515.25 163.24v4.31M542.41 167.51v4.31M496.08 171.78v4.31M499.27 171.78v4.31M521.64 171.78v4.31M500.87 176.04v4.31M504.07 176.04v4.31M518.45 180.31v4.31M526.43 180.31v4.31M531.23 180.31v4.31M497.67 184.57v4.31M499.27 184.57v4.31M508.86 184.57v4.31M515.25 184.57v4.31M526.43 184.57v4.31M529.63 184.57v4.31M504.07 188.84v4.31M505.66 188.84v4.31M515.25 188.84v4.31M507.26 193.11v4.31M510.46 193.11v4.31M540.81 193.11v4.31M492.88 197.37v4.31M512.05 197.37v4.31M502.47 205.90v4.31M499.27 210.17v4.31M502.47 210.17v4.31M520.04 210.17v4.31M491.28 214.44v4.31M528.03 214.44v4.31M504.07 218.70v4.31M513.65 218.70v4.31M521.64 222.97v4.31M528.03 222.97v4.31M540.81 222.97v4.31M542.41 222.97v4.31" stroke="#f9c5ab"/><path d="M563.18 18.20v4.31M497.67 22.47v4.31M555.19 26.73v4.31M571.17 31.00v4.31M591.94 31.00v4.31M571.17 35.26v4.31M603.13 35.26v4.31M609.52 35.26v4.31M561.59 43.80v4.31M575.97 43.80v4.31M595.14 43.80v4.31M606.32 43.80v4.31M569.57 48.06v4.31M572.77 48.06v4.31M582.36 48.06v4.31M585.55 48.06v4.31M612.71 48.06v4.31M553.60 56.59v4.31M555.19 56.59v4.31M559.99 56.59v4.31M579.16 56.59v4.31M583.95 56.59v4.31M604.73 56.59v4.31M615.91 56.59v4.31M609.52 69.39v4.31M595.14 77.92v4.31M614.31 77.92v4.31M622.30 77.92v4.31M612.71 82.19v4.31M603.13 86.46v4.31M583.95 90.72v4.31M518.45 94.99v4.31M526.43 94.99v4.31M531.23 94.99v4.31M544.01 94.99v4.31M529.63 99.25v4.31M536.02 103.52v4.31M598.33 103.52v4.31M529.63 107.79v4.31M532.83 107.79v4.31M542.41 107.79v4.31M611.12 107.79v4.31M510.46 112.05v4.31M544.01 112.05v4.31M593.54 112.05v4.31M512.05 116.32v4.31M598.33 120.58v4.31M518.45 124.85v4.31M598.33 124.85v4.31M603.13 124.85v4.31M615.91 124.85v4.31M508.86 129.12v4.31M604.73 137.65v4.31M612.71 137.65v4.31M524.84 141.91v4.31M604.73 141.91v4.31M507.26 146.18v4.31M531.23 146.18v4.31M532.83 150.45v4.31M480.10 154.71v4.31M489.69 154.71v4.31M492.88 154.71v4.31M526.43 154.71v4.31M504.07 158.98v4.31M523.24 158.98v4.31M526.43 158.98v4.31M529.63 158.98v4.31M537.62 158.98v4.31M500.87 163.24v4.31M502.47 163.24v4.31M532.83 163.24v4.31M542.41 163.24v4.31M504.07 167.51v4.31M513.65 167.51v4.31M516.85 167.51v4.31M526.43 167.51v4.31M537.62 167.51v4.31M500.87 171.78v4.31M513.65 171.78v4.31M537.62 171.78v4.31M528.03 176.04v4.31M515.25 180.31v4.31M539.22 180.31v4.31M505.66 184.57v4.31M523.24 184.57v4.31M518.45 188.84v4.31M520.04 188.84v4.31M497.67 193.11v4.31M518.45 193.11v4.31M520.04 193.11v4.31M521.64 193.11v4.31M534.42 193.11v4.31M537.62 193.11v4.31M534.42 197.37v4.31M518.45 201.64v4.31M516.85 205.90v4.31M520.04 205.90v4.31M534.42 210.17v4.31M507.26 214.44v4.31M523.24 214.44v4.31M524.84 214.44v4.31M532.83 214.44v4.31M534.42 214.44v4.31M502.47 218.70v4.31M528.03 218.70v4.31M502.47 222.97v4.31M512.05 222.97v4.31M516.85 222.97v4.31M518.45 222.97v4.31M523.24 222.97v4.31M539.22 222.97v4.31M526.43 227.23v4.31M534.42 227.23v4.31" stroke="#f8bda0"/><path d="M566.38 18.20v4.31M567.98 18.20v4.31M587.15 22.47v4.31M566.38 26.73v4.31M580.76 26.73v4.31M575.97 31.00v4.31M545.61 35.26v4.31M553.60 35.26v4.31M569.57 35.26v4.31M550.40 39.53v4.31M552.00 39.53v4.31M556.79 39.53v4.31M574.37 39.53v4.31M577.56 39.53v4.31M599.93 39.53v4.31M548.80 43.80v4.31M587.15 43.80v4.31M598.33 43.80v4.31M553.60 48.06v4.31M556.79 48.06v4.31M574.37 48.06v4.31M595.14 48.06v4.31M601.53 48.06v4.31M609.52 48.06v4.31M620.70 48.06v4.31M571.17 52.33v4.31M593.54 52.33v4.31M598.33 52.33v4.31M604.73 52.33v4.31M615.91 52.33v4.31M601.53 56.59v4.31M601.53 60.86v4.31M617.51 60.86v4.31M524.84 65.13v4.31M580.76 65.13v4.31M579.16 69.39v4.31M603.13 69.39v4.31M579.16 73.66v4.31M603.13 73.66v4.31M619.11 82.19v4.31M534.42 86.46v4.31M529.63 94.99v4.31M539.22 94.99v4.31M528.03 99.25v4.31M591.94 99.25v4.31M599.93 99.25v4.31M609.52 99.25v4.31M619.11 99.25v4.31M534.42 103.52v4.31M537.62 103.52v4.31M611.12 103.52v4.31M544.01 107.79v4.31M599.93 107.79v4.31M615.91 112.05v4.31M531.23 116.32v4.31M591.94 116.32v4.31M599.93 116.32v4.31M614.31 116.32v4.31M524.84 120.58v4.31M619.11 124.85v4.31M604.73 129.12v4.31M529.63 133.38v4.31M531.23 133.38v4.31M615.91 133.38v4.31M532.83 137.65v4.31M599.93 137.65v4.31M505.66 141.91v4.31M599.93 141.91v4.31M609.52 141.91v4.31M612.71 141.91v4.31M505.66 146.18v4.31M521.64 146.18v4.31M534.42 150.45v4.31M484.89 154.71v4.31M499.27 154.71v4.31M508.86 154.71v4.31M515.25 154.71v4.31M481.70 158.98v4.31M499.27 163.24v4.31M531.23 167.51v4.31M536.02 167.51v4.31M512.05 171.78v4.31M516.85 171.78v4.31M529.63 171.78v4.31M513.65 180.31v4.31M516.85 180.31v4.31M523.24 180.31v4.31M531.23 184.57v4.31M508.86 188.84v4.31M510.46 188.84v4.31M499.27 193.11v4.31M529.63 193.11v4.31M539.22 193.11v4.31M504.07 201.64v4.31M520.04 201.64v4.31M528.03 201.64v4.31M537.62 201.64v4.31M544.01 205.90v4.31M510.46 210.17v4.31M523.24 210.17v4.31M524.84 210.17v4.31M537.62 210.17v4.31M539.22 210.17v4.31M542.41 210.17v4.31M500.87 214.44v4.31M516.85 214.44v4.31M520.04 214.44v4.31M518.45 218.70v4.31M531.23 218.70v4.31M496.08 222.97v4.31M513.65 222.97v4.31M534.42 222.97v4.31M496.08 227.23v4.31M504.07 227.23v4.31M505.66 227.23v4.31M507.26 227.23v4.31M518.45 227.23v4.31M524.84 227.23v4.31" stroke="#f7b495"/><path d="M561.59 18.20v4.31M572.77 18.20v4.31M545.61 22.47v4.31M553.60 22.47v4.31M556.79 22.47v4.31M561.59 22.47v4.31M577.56 22.47v4.31M583.95 22.47v4.31M591.94 22.47v4.31M564.78 26.73v4.31M552.00 31.00v4.31M572.77 31.00v4.31M599.93 31.00v4.31M555.19 35.26v4.31M564.78 35.26v4.31M566.38 35.26v4.31M567.98 35.26v4.31M574.37 35.26v4.31M583.95 35.26v4.31M590.35 35.26v4.31M593.54 35.26v4.31M595.14 35.26v4.31M606.32 35.26v4.31M615.91 35.26v4.31M555.19 39.53v4.31M566.38 39.53v4.31M569.57 39.53v4.31M575.97 39.53v4.31M579.16 39.53v4.31M580.76 39.53v4.31M590.35 39.53v4.31M595.14 39.53v4.31M556.79 43.80v4.31M559.99 43.80v4.31M577.56 43.80v4.31M580.76 43.80v4.31M585.55 43.80v4.31M601.53 43.80v4.31M603.13 43.80v4.31M548.80 48.06v4.31M583.95 48.06v4.31M569.57 52.33v4.31M612.71 52.33v4.31M596.74 56.59v4.31M587.15 69.39v4.31M620.70 69.39v4.31M622.30 69.39v4.31M609.52 73.66v4.31M563.18 77.92v4.31M596.74 77.92v4.31M598.33 77.92v4.31M604.73 86.46v4.31M622.30 86.46v4.31M512.05 94.99v4.31M606.32 99.25v4.31M542.41 103.52v4.31M606.32 103.52v4.31M601.53 107.79v4.31M603.13 107.79v4.31M504.07 112.05v4.31M510.46 116.32v4.31M544.01 116.32v4.31M532.83 120.58v4.31M596.74 120.58v4.31M617.51 120.58v4.31M524.84 124.85v4.31M534.42 124.85v4.31M612.71 124.85v4.31M622.30 124.85v4.31M537.62 133.38v4.31M539.22 133.38v4.31M542.41 133.38v4.31M505.66 137.65v4.31M521.64 137.65v4.31M526.43 137.65v4.31M619.11 137.65v4.31M622.30 137.65v4.31M536.02 146.18v4.31M603.13 146.18v4.31M622.30 146.18v4.31M510.46 150.45v4.31M504.07 154.71v4.31M523.24 154.71v4.31M528.03 154.71v4.31M536.02 154.71v4.31M542.41 154.71v4.31M502.47 158.98v4.31M544.01 158.98v4.31M512.05 163.24v4.31M528.03 163.24v4.31M536.02 163.24v4.31M510.46 167.51v4.31M539.22 167.51v4.31M505.66 171.78v4.31M497.67 176.04v4.31M512.05 180.31v4.31M534.42 180.31v4.31M496.08 184.57v4.31M520.04 184.57v4.31M532.83 184.57v4.31M536.02 184.57v4.31M528.03 188.84v4.31M536.02 193.11v4.31M497.67 197.37v4.31M513.65 197.37v4.31M526.43 197.37v4.31M529.63 201.64v4.31M534.42 201.64v4.31M539.22 201.64v4.31M544.01 201.64v4.31M497.67 205.90v4.31M499.27 205.90v4.31M534.42 205.90v4.31M539.22 205.90v4.31M512.05 210.17v4.31M512.05 214.44v4.31M518.45 214.44v4.31M539.22 214.44v4.31M499.27 227.23v4.31M500.87 227.23v4.31M510.46 227.23v4.31" stroke="#f5ac8b"/><path d="M553.60 18.20v4.31M555.19 18.20v4.31M575.97 18.20v4.31M552.00 22.47v4.31M572.77 22.47v4.31M559.99 26.73v4.31M575.97 26.73v4.31M547.21 31.00v4.31M577.56 31.00v4.31M582.36 31.00v4.31M558.39 35.26v4.31M577.56 35.26v4.31M604.73 35.26v4.31M607.92 35.26v4.31M558.39 39.53v4.31M583.95 39.53v4.31M591.94 39.53v4.31M593.54 39.53v4.31M596.74 39.53v4.31M603.13 39.53v4.31M617.51 39.53v4.31M547.21 43.80v4.31M558.39 43.80v4.31M558.39 48.06v4.31M596.74 48.06v4.31M607.92 48.06v4.31M617.51 48.06v4.31M603.13 56.59v4.31M606.32 56.59v4.31M612.71 56.59v4.31M550.40 60.86v4.31M595.14 60.86v4.31M563.18 69.39v4.31M606.32 69.39v4.31M619.11 69.39v4.31M590.35 73.66v4.31M598.33 73.66v4.31M601.53 73.66v4.31M615.91 73.66v4.31M615.91 77.92v4.31M619.11 77.92v4.31M591.94 82.19v4.31M518.45 90.72v4.31M601.53 90.72v4.31M607.92 90.72v4.31M516.85 94.99v4.31M524.84 94.99v4.31M531.23 99.25v4.31M596.74 99.25v4.31M604.73 99.25v4.31M532.83 103.52v4.31M612.71 103.52v4.31M615.91 103.52v4.31M596.74 107.79v4.31M620.70 107.79v4.31M529.63 112.05v4.31M603.13 112.05v4.31M604.73 112.05v4.31M620.70 112.05v4.31M622.30 116.32v4.31M521.64 124.85v4.31M596.74 124.85v4.31M536.02 129.12v4.31M544.01 129.12v4.31M510.46 137.65v4.31M606.32 137.65v4.31M615.91 137.65v4.31M598.33 141.91v4.31M614.31 146.18v4.31M611.12 150.45v4.31M502.47 154.71v4.31M507.26 154.71v4.31M534.42 154.71v4.31M491.28 158.98v4.31M494.48 158.98v4.31M505.66 158.98v4.31M521.64 158.98v4.31M532.83 158.98v4.31M529.63 163.24v4.31M537.62 163.24v4.31M505.66 167.51v4.31M528.03 167.51v4.31M532.83 167.51v4.31M544.01 167.51v4.31M523.24 171.78v4.31M531.23 171.78v4.31M513.65 176.04v4.31M520.04 176.04v4.31M532.83 176.04v4.31M537.62 176.04v4.31M544.01 176.04v4.31M505.66 180.31v4.31M500.87 184.57v4.31M542.41 184.57v4.31M500.87 188.84v4.31M512.05 188.84v4.31M523.24 188.84v4.31M524.84 188.84v4.31M531.23 188.84v4.31M532.83 188.84v4.31M502.47 193.11v4.31M524.84 193.11v4.31M542.41 193.11v4.31M507.26 197.37v4.31M539.22 197.37v4.31M500.87 201.64v4.31M526.43 201.64v4.31M542.41 205.90v4.31M507.26 210.17v4.31M497.67 214.44v4.31M513.65 214.44v4.31M536.02 214.44v4.31M544.01 214.44v4.31M523.24 218.70v4.31M537.62 222.97v4.31M497.67 227.23v4.31" stroke="#f3a380"/><path d="M548.80 18.20v4.31M558.39 18.20v4.31M569.57 18.20v4.31M550.40 22.47v4.31M558.39 22.47v4.31M580.76 22.47v4.31M571.17 26.73v4.31M572.77 26.73v4.31M577.56 26.73v4.31M555.19 31.00v4.31M561.59 31.00v4.31M569.57 31.00v4.31M574.37 31.00v4.31M547.21 35.26v4.31M556.79 35.26v4.31M561.59 35.26v4.31M575.97 35.26v4.31M612.71 35.26v4.31M547.21 39.53v4.31M548.80 39.53v4.31M614.31 39.53v4.31M545.61 43.80v4.31M567.98 43.80v4.31M582.36 43.80v4.31M615.91 43.80v4.31M559.99 48.06v4.31M580.76 48.06v4.31M598.33 48.06v4.31M563.18 52.33v4.31M575.97 52.33v4.31M603.13 52.33v4.31M552.00 56.59v4.31M575.97 56.59v4.31M580.76 56.59v4.31M606.32 60.86v4.31M614.31 60.86v4.31M595.14 65.13v4.31M601.53 69.39v4.31M606.32 73.66v4.31M612.71 73.66v4.31M595.14 86.46v4.31M598.33 99.25v4.31M603.13 103.52v4.31M615.91 107.79v4.31M611.12 112.05v4.31M529.63 116.32v4.31M596.74 116.32v4.31M601.53 116.32v4.31M615.91 116.32v4.31M617.51 116.32v4.31M531.23 120.58v4.31M622.30 120.58v4.31M599.93 124.85v4.31M599.93 129.12v4.31M601.53 129.12v4.31M596.74 133.38v4.31M612.71 133.38v4.31M617.51 133.38v4.31M620.70 133.38v4.31M611.12 137.65v4.31M622.30 141.91v4.31M500.87 146.18v4.31M540.81 146.18v4.31M611.12 146.18v4.31M617.51 146.18v4.31M606.32 150.45v4.31M481.70 154.71v4.31M497.67 154.71v4.31M516.85 154.71v4.31M483.29 158.98v4.31M513.65 158.98v4.31M516.85 158.98v4.31M528.03 158.98v4.31M534.42 158.98v4.31M536.02 158.98v4.31M539.22 158.98v4.31M542.41 158.98v4.31M520.04 163.24v4.31M540.81 163.24v4.31M500.87 167.51v4.31M529.63 167.51v4.31M534.42 167.51v4.31M502.47 171.78v4.31M539.22 176.04v4.31M544.01 180.31v4.31M524.84 184.57v4.31M537.62 184.57v4.31M539.22 188.84v4.31M500.87 193.11v4.31M532.83 197.37v4.31M537.62 197.37v4.31M540.81 201.64v4.31M542.41 201.64v4.31M505.66 205.90v4.31M512.05 205.90v4.31M523.24 205.90v4.31M532.83 205.90v4.31M516.85 210.17v4.31M532.83 210.17v4.31M544.01 210.17v4.31M502.47 214.44v4.31M531.23 214.44v4.31M540.81 214.44v4.31M542.41 214.44v4.31M507.26 218.70v4.31M521.64 218.70v4.31M529.63 218.70v4.31M544.01 218.70v4.31M544.01 222.97v4.31M542.41 227.23v4.31" stroke="#ee9878"/><path d="M577.56 18.20v4.31M583.95 18.20v4.31M555.19 22.47v4.31M575.97 22.47v4.31M556.79 26.73v4.31M553.60 31.00v4.31M559.99 31.00v4.31M580.76 31.00v4.31M563.18 35.26v4.31M611.12 35.26v4.31M571.17 39.53v4.31M606.32 39.53v4.31M620.70 39.53v4.31M552.00 43.80v4.31M563.18 43.80v4.31M590.35 43.80v4.31M611.12 43.80v4.31M614.31 43.80v4.31M604.73 48.06v4.31M547.21 52.33v4.31M550.40 52.33v4.31M558.39 52.33v4.31M579.16 52.33v4.31M601.53 52.33v4.31M611.12 52.33v4.31M614.31 52.33v4.31M545.61 56.59v4.31M566.38 56.59v4.31M598.33 56.59v4.31M590.35 60.86v4.31M596.74 60.86v4.31M607.92 65.13v4.31M595.14 69.39v4.31M607.92 69.39v4.31M620.70 73.66v4.31M612.71 77.92v4.31M596.74 82.19v4.31M617.51 82.19v4.31M585.55 90.72v4.31M591.94 90.72v4.31M604.73 90.72v4.31M606.32 90.72v4.31M523.24 94.99v4.31M612.71 99.25v4.31M622.30 107.79v4.31M617.51 112.05v4.31M604.73 116.32v4.31M611.12 116.32v4.31M619.11 116.32v4.31M536.02 120.58v4.31M606.32 120.58v4.31M611.12 120.58v4.31M615.91 120.58v4.31M611.12 124.85v4.31M512.05 129.12v4.31M521.64 133.38v4.31M603.13 133.38v4.31M619.11 133.38v4.31M537.62 137.65v4.31M620.70 137.65v4.31M620.70 141.91v4.31M599.93 146.18v4.31M615.91 146.18v4.31M619.11 150.45v4.31M486.49 154.71v4.31M488.09 154.71v4.31M496.08 154.71v4.31M513.65 154.71v4.31M518.45 154.71v4.31M537.62 154.71v4.31M540.81 154.71v4.31M544.01 154.71v4.31M500.87 158.98v4.31M510.46 158.98v4.31M518.45 158.98v4.31M510.46 163.24v4.31M513.65 163.24v4.31M524.84 163.24v4.31M521.64 167.51v4.31M523.24 167.51v4.31M510.46 171.78v4.31M532.83 171.78v4.31M542.41 180.31v4.31M507.26 184.57v4.31M502.47 188.84v4.31M521.64 188.84v4.31M537.62 188.84v4.31M544.01 197.37v4.31M524.84 201.64v4.31M504.07 214.44v4.31M505.66 214.44v4.31M510.46 218.70v4.31M512.05 218.70v4.31M534.42 218.70v4.31M536.02 218.70v4.31M539.22 218.70v4.31M510.46 222.97v4.31M512.05 227.23v4.31M537.62 227.23v4.31" stroke="#ea8d70"/><path d="M550.40 18.20v4.31M566.38 31.00v4.31M591.94 35.26v4.31M598.33 35.26v4.31M622.30 35.26v4.31M561.59 39.53v4.31M572.77 39.53v4.31M604.73 43.80v4.31M617.51 43.80v4.31M587.15 48.06v4.31M611.12 48.06v4.31M615.91 48.06v4.31M606.32 52.33v4.31M550.40 56.59v4.31M567.98 56.59v4.31M614.31 56.59v4.31M591.94 60.86v4.31M598.33 60.86v4.31M604.73 60.86v4.31M619.11 65.13v4.31M611.12 69.39v4.31M591.94 73.66v4.31M596.74 73.66v4.31M607.92 73.66v4.31M611.12 73.66v4.31M617.51 77.92v4.31M620.70 77.92v4.31M604.73 82.19v4.31M615.91 82.19v4.31M622.30 82.19v4.31M619.11 86.46v4.31M617.51 90.72v4.31M604.73 103.52v4.31M619.11 103.52v4.31M607.92 112.05v4.31M603.13 120.58v4.31M614.31 124.85v4.31M620.70 124.85v4.31M617.51 129.12v4.31M622.30 129.12v4.31M599.93 133.38v4.31M606.32 133.38v4.31M607.92 133.38v4.31M614.31 137.65v4.31M532.83 146.18v4.31M505.66 154.71v4.31M520.04 154.71v4.31M532.83 154.71v4.31M486.49 158.98v4.31M488.09 158.98v4.31M497.67 158.98v4.31M507.26 158.98v4.31M512.05 158.98v4.31M518.45 163.24v4.31M521.64 163.24v4.31M524.84 167.51v4.31M524.84 171.78v4.31M528.03 171.78v4.31M540.81 171.78v4.31M524.84 176.04v4.31M529.63 176.04v4.31M524.84 180.31v4.31M512.05 184.57v4.31M534.42 188.84v4.31M510.46 197.37v4.31M531.23 197.37v4.31M513.65 201.64v4.31M516.85 201.64v4.31M521.64 201.64v4.31M536.02 201.64v4.31M521.64 205.90v4.31M529.63 205.90v4.31M536.02 205.90v4.31M521.64 214.44v4.31M516.85 218.70v4.31M505.66 222.97v4.31M531.23 227.23v4.31" stroke="#e58268"/><path d="M571.17 18.20v4.31M547.21 22.47v4.31M571.17 22.47v4.31M567.98 31.00v4.31M550.40 35.26v4.31M617.51 35.26v4.31M604.73 39.53v4.31M569.57 43.80v4.31M619.11 43.80v4.31M620.70 43.80v4.31M571.17 48.06v4.31M579.16 48.06v4.31M606.32 48.06v4.31M599.93 56.59v4.31M591.94 65.13v4.31M603.13 65.13v4.31M615.91 65.13v4.31M617.51 65.13v4.31M604.73 73.66v4.31M617.51 73.66v4.31M620.70 82.19v4.31M599.93 86.46v4.31M609.52 86.46v4.31M615.91 86.46v4.31M575.97 90.72v4.31M612.71 90.72v4.31M615.91 90.72v4.31M607.92 99.25v4.31M622.30 99.25v4.31M620.70 103.52v4.31M619.11 107.79v4.31M532.83 116.32v4.31M598.33 116.32v4.31M620.70 116.32v4.31M603.13 129.12v4.31M606.32 129.12v4.31M611.12 129.12v4.31M614.31 129.12v4.31M617.51 137.65v4.31M510.46 154.71v4.31M512.05 154.71v4.31M524.84 154.71v4.31M529.63 154.71v4.31M531.23 158.98v4.31M516.85 163.24v4.31M544.01 163.24v4.31M534.42 176.04v4.31M537.62 180.31v4.31M513.65 184.57v4.31M518.45 184.57v4.31M531.23 193.11v4.31M505.66 197.37v4.31M502.47 201.64v4.31M523.24 201.64v4.31M531.23 201.64v4.31M510.46 205.90v4.31M510.46 214.44v4.31M537.62 214.44v4.31M540.81 218.70v4.31M531.23 222.97v4.31M516.85 227.23v4.31" stroke="#e0785f"/><path d="M552.00 18.20v4.31M548.80 22.47v4.31M547.21 26.73v4.31M545.61 31.00v4.31M556.79 31.00v4.31M585.55 31.00v4.31M596.74 35.26v4.31M619.11 35.26v4.31M598.33 39.53v4.31M612.71 39.53v4.31M619.11 39.53v4.31M574.37 43.80v4.31M596.74 43.80v4.31M563.18 48.06v4.31M591.94 48.06v4.31M596.74 52.33v4.31M607.92 52.33v4.31M617.51 52.33v4.31M620.70 52.33v4.31M622.30 52.33v4.31M619.11 56.59v4.31M620.70 56.59v4.31M622.30 56.59v4.31M609.52 65.13v4.31M599.93 73.66v4.31M590.35 77.92v4.31M611.12 77.92v4.31M606.32 82.19v4.31M607.92 82.19v4.31M606.32 86.46v4.31M617.51 86.46v4.31M620.70 90.72v4.31M603.13 99.25v4.31M617.51 99.25v4.31M614.31 103.52v4.31M606.32 107.79v4.31M614.31 107.79v4.31M612.71 112.05v4.31M622.30 112.05v4.31M606.32 116.32v4.31M607.92 124.85v4.31M598.33 129.12v4.31M604.73 133.38v4.31M614.31 133.38v4.31M607.92 137.65v4.31M611.12 141.91v4.31M614.31 141.91v4.31M483.29 154.71v4.31M494.48 154.71v4.31M500.87 154.71v4.31M531.23 154.71v4.31M539.22 154.71v4.31M492.88 158.98v4.31M499.27 158.98v4.31M524.84 158.98v4.31M505.66 163.24v4.31M507.26 167.51v4.31M507.26 171.78v4.31M539.22 171.78v4.31M505.66 176.04v4.31M536.02 176.04v4.31M544.01 184.57v4.31M544.01 193.11v4.31M532.83 201.64v4.31M540.81 210.17v4.31M505.66 218.70v4.31M532.83 218.70v4.31M542.41 218.70v4.31M520.04 222.97v4.31M524.84 222.97v4.31M532.83 227.23v4.31M536.02 227.23v4.31" stroke="#dc6d57"/><path d="M556.79 18.20v4.31M574.37 18.20v4.31M545.61 26.73v4.31M553.60 26.73v4.31M579.16 31.00v4.31M607.92 39.53v4.31M611.12 39.53v4.31M599.93 43.80v4.31M550.40 48.06v4.31M599.93 52.33v4.31M611.12 56.59v4.31M617.51 56.59v4.31M604.73 65.13v4.31M614.31 65.13v4.31M614.31 69.39v4.31M606.32 77.92v4.31M595.14 82.19v4.31M611.12 82.19v4.31M598.33 86.46v4.31M607.92 86.46v4.31M614.31 99.25v4.31M620.70 99.25v4.31M622.30 103.52v4.31M606.32 112.05v4.31M612.71 120.58v4.31M606.32 124.85v4.31M617.51 124.85v4.31M619.11 141.91v4.31M491.28 154.71v4.31M521.64 154.71v4.31M534.42 163.24v4.31M539.22 163.24v4.31M544.01 171.78v4.31M542.41 176.04v4.31M510.46 180.31v4.31M540.81 184.57v4.31M505.66 193.11v4.31M507.26 201.64v4.31M510.46 201.64v4.31M505.66 210.17v4.31M531.23 210.17v4.31M539.22 227.23v4.31" stroke="#d7624f"/><path d="M545.61 18.20v4.31M580.76 18.20v4.31M563.18 22.47v4.31M548.80 26.73v4.31M552.00 26.73v4.31M561.59 26.73v4.31M548.80 31.00v4.31M563.18 31.00v4.31M614.31 35.26v4.31M615.91 39.53v4.31M622.30 39.53v4.31M607.92 43.80v4.31M599.93 48.06v4.31M614.31 48.06v4.31M619.11 48.06v4.31M622.30 60.86v4.31M599.93 65.13v4.31M611.12 65.13v4.31M596.74 69.39v4.31M587.15 73.66v4.31M603.13 77.92v4.31M601.53 82.19v4.31M603.13 82.19v4.31M611.12 86.46v4.31M598.33 90.72v4.31M614.31 90.72v4.31M521.64 94.99v4.31M607.92 103.52v4.31M607.92 107.79v4.31M619.11 112.05v4.31M607.92 120.58v4.31M614.31 120.58v4.31M620.70 129.12v4.31M622.30 133.38v4.31M508.86 158.98v4.31M510.46 184.57v4.31M521.64 184.57v4.31M536.02 197.37v4.31M512.05 201.64v4.31M521.64 210.17v4.31M529.63 214.44v4.31" stroke="#d25749"/><path d="M547.21 18.20v4.31M558.39 26.73v4.31M569.57 26.73v4.31M579.16 26.73v4.31M558.39 31.00v4.31M579.16 35.26v4.31M580.76 35.26v4.31M599.93 35.26v4.31M563.18 39.53v4.31M619.11 52.33v4.31M611.12 60.86v4.31M617.51 69.39v4.31M599.93 90.72v4.31M599.93 103.52v4.31M521.64 176.04v4.31M505.66 201.64v4.31M529.63 222.97v4.31M544.01 227.23v4.31" stroke="#cc4c43"/><path d="M563.18 26.73v4.31M622.30 43.80v4.31M599.93 69.39v4.31M619.11 90.72v4.31M622.30 90.72v4.31M596.74 103.52v4.31M617.51 103.52v4.31M607.92 129.12v4.31M619.11 129.12v4.31M510.46 176.04v4.31M512.05 176.04v4.31M539.22 184.57v4.31" stroke="#c6403e"/><path d="M569.57 22.47v4.31M550.40 31.00v4.31M585.55 35.26v4.31M579.16 43.80v4.31M599.93 60.86v4.31M607.92 60.86v4.31M598.33 65.13v4.31M620.70 65.13v4.31M622.30 65.13v4.31M622.30 73.66v4.31M596.74 86.46v4.31M617.51 107.79v4.31M607.92 116.32v4.31M512.05 167.51v4.31M531.23 205.90v4.31M537.62 218.70v4.31" stroke="#c13539"/><path d="M579.16 22.47v4.31M591.94 43.80v4.31M612.71 60.86v4.31M606.32 65.13v4.31M619.11 73.66v4.31M611.12 90.72v4.31M619.11 120.58v4.31M531.23 176.04v4.31M521.64 227.23v4.31" stroke="#bb2a34"/><path d="M579.16 18.20v4.31M622.30 48.06v4.31M598.33 82.19v4.31M524.84 218.70v4.31" stroke="#b51f2e"/><path d="M567.98 26.73v4.31M612.71 65.13v4.31M614.31 73.66v4.31M614.31 86.46v4.31" stroke="#ad162a"/><path d="M574.37 26.73v4.31M599.93 82.19v4.31M614.31 82.19v4.31" stroke="#a21328"/><path d="M550.40 26.73v4.31M531.23 163.24v4.31" stroke="#960f26"/></g>
<rect x="479.3" y="12.9" width="65.51" height="4.7" fill="#0e7670"/>
<rect x="544.81" y="12.9" width="78.29" height="4.7" fill="#a3d19b"/>
<path d="M481.70 12.9v4.7M486.49 12.9v4.7M488.09 12.9v4.7M492.88 12.9v4.7M502.47 12.9v4.7M504.07 12.9v4.7M505.66 12.9v4.7M512.05 12.9v4.7M513.65 12.9v4.7M515.25 12.9v4.7M516.85 12.9v4.7M521.64 12.9v4.7M532.83 12.9v4.7M536.02 12.9v4.7M537.62 12.9v4.7M539.22 12.9v4.7" stroke="#16807a" stroke-width="1.60"/>
<path d="M553.60 12.9v4.7M558.39 12.9v4.7M571.17 12.9v4.7M579.16 12.9v4.7M595.14 12.9v4.7M596.74 12.9v4.7M601.53 12.9v4.7" stroke="#98c990" stroke-width="1.60"/>
<path d="M470.30 79.50L470.30 181.50M470.30 79.50L472.90 79.50M470.30 181.50L477.00 181.50M472.90 41.80L472.90 116.00M472.90 41.80L474.30 41.80M472.90 116.00L475.50 116.00M474.30 24.30L474.30 59.00M474.30 24.30L476.30 24.30M474.30 59.00L476.30 59.00M475.50 100.00L475.50 135.00M475.50 100.00L476.30 100.00M475.50 135.00L476.30 135.00M477.00 160.00L477.00 205.00M477.00 160.00L477.20 160.00M477.00 205.00L477.20 205.00M476.30 20.00L476.30 70.00M476.30 85.00L476.30 150.00M477.20 20.33L479.30 20.33M477.20 24.60L479.30 24.60M477.20 28.86L479.30 28.86M477.20 33.13L479.30 33.13M477.20 37.40L479.30 37.40M477.20 41.66L479.30 41.66M477.20 45.93L479.30 45.93M477.20 50.20L479.30 50.20M477.20 54.46L479.30 54.46M477.20 58.73L479.30 58.73M477.20 62.99L479.30 62.99M477.20 67.26L479.30 67.26M477.20 71.53L479.30 71.53M477.20 75.79L479.30 75.79M477.20 80.06L479.30 80.06M477.20 84.32L479.30 84.32M477.20 88.59L479.30 88.59M477.20 92.86L479.30 92.86M477.20 97.12L479.30 97.12M477.20 101.39L479.30 101.39M477.20 105.65L479.30 105.65M477.20 109.92L479.30 109.92M477.20 114.19L479.30 114.19M477.20 118.45L479.30 118.45M477.20 122.72L479.30 122.72M477.20 126.98L479.30 126.98M477.20 131.25L479.30 131.25M477.20 135.51L479.30 135.51M477.20 139.78L479.30 139.78M477.20 144.05L479.30 144.05M477.20 148.31L479.30 148.31M477.20 152.58L479.30 152.58M477.20 156.84L479.30 156.84M477.20 161.11L479.30 161.11M477.20 165.38L479.30 165.38M477.20 169.64L479.30 169.64M477.20 173.91L479.30 173.91M477.20 178.17L479.30 178.17M477.20 182.44L479.30 182.44M477.20 186.71L479.30 186.71M477.20 190.97L479.30 190.97M477.20 195.24L479.30 195.24M477.20 199.50L479.30 199.50M477.20 203.77L479.30 203.77M477.20 208.04L479.30 208.04M477.20 212.30L479.30 212.30M477.20 216.57L479.30 216.57M477.20 220.83L479.30 220.83M477.20 225.10L479.30 225.10M477.20 229.37L479.30 229.37M477.20 20.33L477.20 24.60M476.30 22.47L477.20 22.47M477.20 28.86L477.20 33.13M476.30 31.00L477.20 31.00M477.20 37.40L477.20 41.66M476.30 39.53L477.20 39.53M477.20 45.93L477.20 50.20M476.30 48.06L477.20 48.06M477.20 54.46L477.20 58.73M476.30 56.59L477.20 56.59M477.20 62.99L477.20 67.26M476.30 65.13L477.20 65.13M477.20 71.53L477.20 75.79M476.30 73.66L477.20 73.66M477.20 80.06L477.20 84.32M476.30 82.19L477.20 82.19M477.20 88.59L477.20 92.86M476.30 90.72L477.20 90.72M477.20 97.12L477.20 101.39M476.30 99.25L477.20 99.25M477.20 105.65L477.20 109.92M476.30 107.79L477.20 107.79M477.20 114.19L477.20 118.45M476.30 116.32L477.20 116.32M477.20 122.72L477.20 126.98M476.30 124.85L477.20 124.85M477.20 131.25L477.20 135.51M476.30 133.38L477.20 133.38M477.20 139.78L477.20 144.05M476.30 141.91L477.20 141.91M477.20 148.31L477.20 152.58M476.30 150.45L477.20 150.45M477.20 156.84L477.20 161.11M476.30 158.98L477.20 158.98M477.20 165.38L477.20 169.64M476.30 167.51L477.20 167.51M477.20 173.91L477.20 178.17M476.30 176.04L477.20 176.04M477.20 182.44L477.20 186.71M476.30 184.57L477.20 184.57M477.20 190.97L477.20 195.24M476.30 193.11L477.20 193.11M477.20 199.50L477.20 203.77M476.30 201.64L477.20 201.64M477.20 208.04L477.20 212.30M476.30 210.17L477.20 210.17M477.20 216.57L477.20 220.83M476.30 218.70L477.20 218.70M477.20 225.10L477.20 229.37M476.30 227.23L477.20 227.23M476.30 22.47L476.30 31.00M476.30 39.53L476.30 48.06M476.30 56.59L476.30 65.13M476.30 73.66L476.30 82.19M476.30 90.72L476.30 99.25M476.30 107.79L476.30 116.32M476.30 124.85L476.30 133.38M476.30 141.91L476.30 150.45M476.30 158.98L476.30 167.51M476.30 176.04L476.30 184.57M476.30 193.11L476.30 201.64M476.30 210.17L476.30 218.70" stroke="#666" stroke-width="0.4" fill="none"/>
<g style="text-rendering:geometricPrecision" stroke="#222" stroke-width="0.13">
<text x="626.40" y="16.50" font-size="4.7">Cluster</text>
<text x="626.40" y="21.97" font-size="4.7" font-style="italic">NFKBIA</text>
<text x="626.40" y="26.23" font-size="4.7" font-style="italic">GZMA</text>
<text x="626.40" y="30.50" font-size="4.7" font-style="italic">JUND</text>
<text x="626.40" y="34.76" font-size="4.7" font-style="italic">CD2</text>
<text x="626.40" y="39.03" font-size="4.7" font-style="italic">ABCG1</text>
<text x="626.40" y="43.30" font-size="4.7" font-style="italic">ZNF331</text>
<text x="626.40" y="47.56" font-size="4.7" font-style="italic">YPEL5</text>
<text x="626.40" y="51.83" font-size="4.7" font-style="italic">PDE4B</text>
<text x="626.40" y="56.09" font-size="4.7" font-style="italic">CD9</text>
<text x="626.40" y="60.36" font-size="4.7" font-style="italic">FOXO3</text>
<text x="626.40" y="64.63" font-size="4.7" font-style="italic">ELL2</text>
<text x="626.40" y="68.89" font-size="4.7" font-style="italic">PDE4A</text>
<text x="626.40" y="73.16" font-size="4.7" font-style="italic">TLE1</text>
<text x="626.40" y="77.42" font-size="4.7" font-style="italic">ATP1B3</text>
<text x="626.40" y="81.69" font-size="4.7" font-style="italic">RANBP2</text>
<text x="626.40" y="85.96" font-size="4.7" font-style="italic">TOB2</text>
<text x="626.40" y="90.22" font-size="4.7" font-style="italic">ELOVL5</text>
<text x="626.40" y="94.49" font-size="4.7" font-style="italic">LZTFL1</text>
<text x="626.40" y="98.75" font-size="4.7" font-style="italic">NR4A2</text>
<text x="626.40" y="103.02" font-size="4.7" font-style="italic">RUNX3</text>
<text x="626.40" y="107.29" font-size="4.7" font-style="italic">CNOT6L</text>
<text x="626.40" y="111.55" font-size="4.7" font-style="italic">ZBTB16</text>
<text x="626.40" y="115.82" font-size="4.7" font-style="italic">TES1</text>
<text x="626.40" y="120.08" font-size="4.7" font-style="italic">MSI2</text>
<text x="626.40" y="124.35" font-size="4.7" font-style="italic">ACVR1</text>
<text x="626.40" y="128.62" font-size="4.7" font-style="italic">ZC3HAV1</text>
<text x="626.40" y="132.88" font-size="4.7" font-style="italic">SETX</text>
<text x="626.40" y="137.15" font-size="4.7" font-style="italic">DDX3Y</text>
<text x="626.40" y="141.41" font-size="4.7" font-style="italic">TMEM200</text>
<text x="626.40" y="145.68" font-size="4.7" font-style="italic">CEBPB</text>
<text x="626.40" y="149.95" font-size="4.7" font-style="italic">HIPK2</text>
<text x="626.40" y="154.21" font-size="4.7" font-style="italic">BCL11B</text>
<text x="626.40" y="158.48" font-size="4.7" font-style="italic">CRLY</text>
<text x="626.40" y="162.74" font-size="4.7" font-style="italic">GZMB</text>
<text x="626.40" y="167.01" font-size="4.7" font-style="italic">PDE3B</text>
<text x="626.40" y="171.28" font-size="4.7" font-style="italic">PDE4D</text>
<text x="626.40" y="175.54" font-size="4.7" font-style="italic">C1orf21</text>
<text x="626.40" y="179.81" font-size="4.7" font-style="italic">MTSS1</text>
<text x="626.40" y="184.07" font-size="4.7" font-style="italic">SYNE1</text>
<text x="626.40" y="188.34" font-size="4.7" font-style="italic">SYNE2</text>
<text x="626.40" y="192.61" font-size="4.7" font-style="italic">GTHE3</text>
<text x="626.40" y="196.87" font-size="4.7" font-style="italic">CAST</text>
<text x="626.40" y="201.14" font-size="4.7" font-style="italic">DIP2A</text>
<text x="626.40" y="205.40" font-size="4.7" font-style="italic">STK38</text>
<text x="626.40" y="209.67" font-size="4.7" font-style="italic">GK5</text>
<text x="626.40" y="213.94" font-size="4.7" font-style="italic">PPM1L</text>
<text x="626.40" y="218.20" font-size="4.7" font-style="italic">SSBP3</text>
<text x="626.40" y="222.47" font-size="4.7" font-style="italic">RAP1GAP2</text>
<text x="626.40" y="226.73" font-size="4.7" font-style="italic">ATP10A</text>
<text x="626.40" y="231.00" font-size="4.7" font-style="italic">LGR6</text>
</g>
<text x="648.90" y="26.90" font-size="7.4" textLength="23.90" lengthAdjust="spacingAndGlyphs">Cluster</text>
<circle cx="653.9" cy="32.9" r="1.75" fill="#0e7670"/>
<text x="657.70" y="34.80" font-size="6.3" textLength="18.20" lengthAdjust="spacingAndGlyphs">circNK</text>
<circle cx="653.9" cy="38.8" r="1.75" fill="#a3d19b"/>
<text x="657.70" y="40.70" font-size="6.3" textLength="12.50" lengthAdjust="spacingAndGlyphs">trNK</text>
<text x="648.90" y="51.70" font-size="7.4">Expression</text>
<text x="648.90" y="58.00" font-size="7.4">(scaled)</text>
<defs><linearGradient id="cbg" x1="0" y1="0" x2="0" y2="1"><stop offset="0" stop-color="#67001f"/><stop offset="0.2" stop-color="#a50f26"/><stop offset="0.33" stop-color="#d6604d"/><stop offset="0.42" stop-color="#f4a582"/><stop offset="0.5" stop-color="#f7f7f7"/><stop offset="0.58" stop-color="#92c5de"/><stop offset="0.66" stop-color="#4393c3"/><stop offset="0.8" stop-color="#1f5d9c"/><stop offset="1" stop-color="#053061"/></linearGradient></defs>
<rect x="653.1" y="62.9" width="3.9" height="19.9" fill="url(#cbg)"/>
<g style="text-rendering:geometricPrecision" stroke="#222" stroke-width="0.12">
<text x="659.40" y="65.90" font-size="5.2">4</text>
<text x="659.40" y="70.30" font-size="5.2">2</text>
<text x="659.40" y="74.70" font-size="5.2">0</text>
<text x="659.40" y="79.10" font-size="5.2">-2</text>
<text x="659.40" y="83.50" font-size="5.2">-4</text>
</g>
<text x="65.60" y="266.40" font-size="8.7" text-anchor="middle" textLength="34.30" lengthAdjust="spacingAndGlyphs">No TGFβ</text>
<text x="115.80" y="264.90" font-size="8.7" text-anchor="middle" textLength="39.70" lengthAdjust="spacingAndGlyphs">Plus TGFβ</text>
<text x="115.80" y="275.00" font-size="8.7" text-anchor="middle" textLength="35.00" lengthAdjust="spacingAndGlyphs">(<tspan font-style="italic">t</tspan> = 48 h)</text>
<line x1="105.70" y1="287.50" x2="127.90" y2="287.50" stroke="#666" stroke-width="0.7"/>
<text x="116.90" y="289.70" font-size="12" text-anchor="middle">*</text>
<path d="M41.50 287.40V354.50H143.40M39.30 354.50H41.50M39.30 341.50H41.50M39.30 327.50H41.50M39.30 314.50H41.50M39.30 300.50H41.50M39.30 287.50H41.50" fill="none" stroke="#8a8a8a" stroke-width="0.8"/>
<text x="37.50" y="357.65" font-size="7.6" text-anchor="end" textLength="4.73" lengthAdjust="spacingAndGlyphs">0</text>
<text x="37.50" y="344.15" font-size="7.6" text-anchor="end" textLength="9.47" lengthAdjust="spacingAndGlyphs">20</text>
<text x="37.50" y="330.65" font-size="7.6" text-anchor="end" textLength="9.47" lengthAdjust="spacingAndGlyphs">40</text>
<text x="37.50" y="317.15" font-size="7.6" text-anchor="end" textLength="9.47" lengthAdjust="spacingAndGlyphs">60</text>
<text x="37.50" y="303.65" font-size="7.6" text-anchor="end" textLength="9.47" lengthAdjust="spacingAndGlyphs">80</text>
<text x="37.50" y="290.15" font-size="7.6" text-anchor="end" textLength="14.20" lengthAdjust="spacingAndGlyphs">100</text>
<line x1="92.50" y1="286.50" x2="92.50" y2="354.90" stroke="#555" stroke-width="0.9" stroke-dasharray="2.9,1.6"/>
<text x="6.00" y="321.50" font-size="8.7" text-anchor="middle" textLength="56.00" lengthAdjust="spacingAndGlyphs" transform="rotate(-90 6.00 321.50)">Percentage of</text>
<text x="16.80" y="321.50" font-size="8.7" text-anchor="middle" textLength="64.80" lengthAdjust="spacingAndGlyphs" transform="rotate(-90 16.80 321.50)">CD49a<tspan dy="-3.5" font-size="6.3">+</tspan><tspan dy="3.5"> NK cells</tspan></text>
<path d="M57.40 354.90V347.81M55.80 354.90h3.20M55.80 347.81h3.20" stroke="#999" stroke-width="0.6" fill="none"/>
<circle cx="57.40" cy="338.43" r="2.15" fill="#a8d5a0" stroke="#4f6e4a" stroke-width="0.6"/>
<circle cx="53.60" cy="350.51" r="2.15" fill="#a8d5a0" stroke="#4f6e4a" stroke-width="0.6"/>
<circle cx="57.40" cy="352.88" r="2.15" fill="#a8d5a0" stroke="#4f6e4a" stroke-width="0.6"/>
<circle cx="61.50" cy="350.85" r="2.15" fill="#a8d5a0" stroke="#4f6e4a" stroke-width="0.6"/>
<circle cx="50.50" cy="354.56" r="2.15" fill="#a8d5a0" stroke="#4f6e4a" stroke-width="0.6"/>
<circle cx="54.50" cy="354.70" r="2.15" fill="#a8d5a0" stroke="#4f6e4a" stroke-width="0.6"/>
<circle cx="60.00" cy="354.56" r="2.15" fill="#a8d5a0" stroke="#4f6e4a" stroke-width="0.6"/>
<circle cx="63.50" cy="354.70" r="2.15" fill="#a8d5a0" stroke="#4f6e4a" stroke-width="0.6"/>
<line x1="53.50" y1="353.21" x2="61.00" y2="353.21" stroke="#000" stroke-width="1.2"/>
<circle cx="74.80" cy="354.56" r="2.15" fill="#0c7474" stroke="#083c3c" stroke-width="0.6"/>
<circle cx="77.30" cy="354.70" r="2.15" fill="#0c7474" stroke="#083c3c" stroke-width="0.6"/>
<circle cx="79.80" cy="354.56" r="2.15" fill="#0c7474" stroke="#083c3c" stroke-width="0.6"/>
<circle cx="82.30" cy="354.70" r="2.15" fill="#0c7474" stroke="#083c3c" stroke-width="0.6"/>
<circle cx="84.80" cy="354.56" r="2.15" fill="#0c7474" stroke="#083c3c" stroke-width="0.6"/>
<circle cx="87.30" cy="354.70" r="2.15" fill="#0c7474" stroke="#083c3c" stroke-width="0.6"/>
<line x1="76.00" y1="354.56" x2="86.00" y2="354.56" stroke="#000" stroke-width="1.2"/>
<path d="M104.00 352.88V338.02M102.40 352.88h3.20M102.40 338.02h3.20" stroke="#999" stroke-width="0.6" fill="none"/>
<circle cx="104.00" cy="331.27" r="2.15" fill="#a8d5a0" stroke="#4f6e4a" stroke-width="0.6"/>
<circle cx="104.00" cy="341.06" r="2.15" fill="#a8d5a0" stroke="#4f6e4a" stroke-width="0.6"/>
<circle cx="98.60" cy="345.79" r="2.15" fill="#a8d5a0" stroke="#4f6e4a" stroke-width="0.6"/>
<circle cx="109.40" cy="345.79" r="2.15" fill="#a8d5a0" stroke="#4f6e4a" stroke-width="0.6"/>
<circle cx="98.60" cy="353.55" r="2.15" fill="#a8d5a0" stroke="#4f6e4a" stroke-width="0.6"/>
<circle cx="109.40" cy="353.55" r="2.15" fill="#a8d5a0" stroke="#4f6e4a" stroke-width="0.6"/>
<line x1="100.50" y1="345.85" x2="108.00" y2="345.85" stroke="#000" stroke-width="1.2"/>
<circle cx="121.00" cy="354.22" r="2.15" fill="#0c7474" stroke="#083c3c" stroke-width="0.6"/>
<circle cx="123.50" cy="354.56" r="2.15" fill="#0c7474" stroke="#083c3c" stroke-width="0.6"/>
<circle cx="126.00" cy="353.55" r="2.15" fill="#0c7474" stroke="#083c3c" stroke-width="0.6"/>
<circle cx="128.50" cy="354.22" r="2.15" fill="#0c7474" stroke="#083c3c" stroke-width="0.6"/>
<circle cx="131.00" cy="354.56" r="2.15" fill="#0c7474" stroke="#083c3c" stroke-width="0.6"/>
<circle cx="133.00" cy="354.22" r="2.15" fill="#0c7474" stroke="#083c3c" stroke-width="0.6"/>
<line x1="123.00" y1="354.22" x2="131.00" y2="354.22" stroke="#000" stroke-width="1.2"/>
<text x="216.70" y="266.40" font-size="8.7" text-anchor="middle" textLength="37.30" lengthAdjust="spacingAndGlyphs">No TGF-β</text>
<text x="266.80" y="264.90" font-size="8.7" text-anchor="middle" textLength="39.70" lengthAdjust="spacingAndGlyphs">Plus TGFβ</text>
<text x="266.80" y="275.00" font-size="8.7" text-anchor="middle" textLength="33.80" lengthAdjust="spacingAndGlyphs">(t = 48 h)</text>
<line x1="255.30" y1="287.50" x2="277.30" y2="287.50" stroke="#666" stroke-width="0.7"/>
<text x="266.20" y="289.70" font-size="12" text-anchor="middle">*</text>
<path d="M189.50 287.40V355.50H291.40M187.30 355.50H189.50M187.30 341.50H189.50M187.30 328.50H189.50M187.30 314.50H189.50M187.30 300.50H189.50M187.30 287.50H189.50" fill="none" stroke="#8a8a8a" stroke-width="0.8"/>
<text x="185.80" y="357.85" font-size="7.6" text-anchor="end" textLength="4.73" lengthAdjust="spacingAndGlyphs">0</text>
<text x="185.80" y="344.31" font-size="7.6" text-anchor="end" textLength="9.47" lengthAdjust="spacingAndGlyphs">20</text>
<text x="185.80" y="330.77" font-size="7.6" text-anchor="end" textLength="9.47" lengthAdjust="spacingAndGlyphs">40</text>
<text x="185.80" y="317.23" font-size="7.6" text-anchor="end" textLength="9.47" lengthAdjust="spacingAndGlyphs">60</text>
<text x="185.80" y="303.69" font-size="7.6" text-anchor="end" textLength="9.47" lengthAdjust="spacingAndGlyphs">80</text>
<text x="185.80" y="290.15" font-size="7.6" text-anchor="end" textLength="14.20" lengthAdjust="spacingAndGlyphs">100</text>
<line x1="240.50" y1="286.50" x2="240.50" y2="355.10" stroke="#444" stroke-width="0.9" stroke-dasharray="2.9,1.6"/>
<text x="155.60" y="321.50" font-size="8.7" text-anchor="middle" textLength="56.00" lengthAdjust="spacingAndGlyphs" transform="rotate(-90 155.60 321.50)">Percentage of</text>
<text x="166.50" y="321.50" font-size="8.7" text-anchor="middle" textLength="66.00" lengthAdjust="spacingAndGlyphs" transform="rotate(-90 166.50 321.50)">CD103<tspan dy="-3.5" font-size="6.3">+</tspan><tspan dy="3.5"> NK cells</tspan></text>
<circle cx="198.60" cy="354.76" r="2.15" fill="#a8d5a0" stroke="#4f6e4a" stroke-width="0.6"/>
<circle cx="201.40" cy="354.56" r="2.15" fill="#a8d5a0" stroke="#4f6e4a" stroke-width="0.6"/>
<circle cx="204.20" cy="354.22" r="2.15" fill="#a8d5a0" stroke="#4f6e4a" stroke-width="0.6"/>
<circle cx="207.00" cy="354.76" r="2.15" fill="#a8d5a0" stroke="#4f6e4a" stroke-width="0.6"/>
<circle cx="209.80" cy="354.56" r="2.15" fill="#a8d5a0" stroke="#4f6e4a" stroke-width="0.6"/>
<circle cx="212.40" cy="354.76" r="2.15" fill="#a8d5a0" stroke="#4f6e4a" stroke-width="0.6"/>
<line x1="201.00" y1="354.56" x2="210.00" y2="354.56" stroke="#000" stroke-width="1.2"/>
<circle cx="222.00" cy="354.90" r="2.15" fill="#0c7474" stroke="#083c3c" stroke-width="0.6"/>
<circle cx="224.80" cy="354.90" r="2.15" fill="#0c7474" stroke="#083c3c" stroke-width="0.6"/>
<circle cx="227.60" cy="354.90" r="2.15" fill="#0c7474" stroke="#083c3c" stroke-width="0.6"/>
<circle cx="230.40" cy="354.90" r="2.15" fill="#0c7474" stroke="#083c3c" stroke-width="0.6"/>
<circle cx="233.20" cy="354.90" r="2.15" fill="#0c7474" stroke="#083c3c" stroke-width="0.6"/>
<circle cx="236.00" cy="354.90" r="2.15" fill="#0c7474" stroke="#083c3c" stroke-width="0.6"/>
<line x1="224.00" y1="354.90" x2="234.00" y2="354.90" stroke="#000" stroke-width="1.2"/>
<path d="M252.10 351.72V336.48M250.50 351.72h3.20M250.50 336.48h3.20" stroke="#999" stroke-width="0.6" fill="none"/>
<circle cx="246.30" cy="333.77" r="2.15" fill="#a8d5a0" stroke="#4f6e4a" stroke-width="0.6"/>
<circle cx="258.50" cy="333.77" r="2.15" fill="#a8d5a0" stroke="#4f6e4a" stroke-width="0.6"/>
<circle cx="252.10" cy="336.82" r="2.15" fill="#a8d5a0" stroke="#4f6e4a" stroke-width="0.6"/>
<circle cx="252.10" cy="351.72" r="2.15" fill="#a8d5a0" stroke="#4f6e4a" stroke-width="0.6"/>
<circle cx="246.30" cy="355.10" r="2.15" fill="#a8d5a0" stroke="#4f6e4a" stroke-width="0.6"/>
<circle cx="258.50" cy="355.10" r="2.15" fill="#a8d5a0" stroke="#4f6e4a" stroke-width="0.6"/>
<line x1="248.50" y1="344.61" x2="255.70" y2="344.61" stroke="#000" stroke-width="1.2"/>
<circle cx="275.50" cy="350.02" r="2.15" fill="#0c7474" stroke="#083c3c" stroke-width="0.6"/>
<circle cx="272.00" cy="352.39" r="2.15" fill="#0c7474" stroke="#083c3c" stroke-width="0.6"/>
<circle cx="279.00" cy="352.05" r="2.15" fill="#0c7474" stroke="#083c3c" stroke-width="0.6"/>
<circle cx="269.50" cy="354.90" r="2.15" fill="#0c7474" stroke="#083c3c" stroke-width="0.6"/>
<circle cx="275.50" cy="354.56" r="2.15" fill="#0c7474" stroke="#083c3c" stroke-width="0.6"/>
<circle cx="281.50" cy="354.90" r="2.15" fill="#0c7474" stroke="#083c3c" stroke-width="0.6"/>
<line x1="271.50" y1="352.80" x2="279.50" y2="352.80" stroke="#000" stroke-width="1.2"/>
<text x="371.20" y="264.90" font-size="8.7" text-anchor="middle" textLength="34.40" lengthAdjust="spacingAndGlyphs">No TGFβ</text>
<text x="423.60" y="264.90" font-size="8.7" text-anchor="middle" textLength="39.70" lengthAdjust="spacingAndGlyphs">Plus TGFβ</text>
<text x="423.60" y="274.70" font-size="8.7" text-anchor="middle" textLength="28.80" lengthAdjust="spacingAndGlyphs">(<tspan font-style="italic">t</tspan> = 7 d)</text>
<line x1="409.20" y1="287.50" x2="430.80" y2="287.50" stroke="#666" stroke-width="0.7"/>
<text x="420.20" y="289.70" font-size="12" text-anchor="middle">*</text>
<path d="M345.50 287.90V355.50H446.40M343.30 355.50H345.50M343.30 342.50H345.50M343.30 328.50H345.50M343.30 314.50H345.50M343.30 301.50H345.50M343.30 287.50H345.50" fill="none" stroke="#8a8a8a" stroke-width="0.8"/>
<text x="341.20" y="358.35" font-size="7.6" text-anchor="end" textLength="4.73" lengthAdjust="spacingAndGlyphs">0</text>
<text x="341.20" y="344.81" font-size="7.6" text-anchor="end" textLength="9.47" lengthAdjust="spacingAndGlyphs">20</text>
<text x="341.20" y="331.27" font-size="7.6" text-anchor="end" textLength="9.47" lengthAdjust="spacingAndGlyphs">40</text>
<text x="341.20" y="317.73" font-size="7.6" text-anchor="end" textLength="9.47" lengthAdjust="spacingAndGlyphs">60</text>
<text x="341.20" y="304.19" font-size="7.6" text-anchor="end" textLength="9.47" lengthAdjust="spacingAndGlyphs">80</text>
<text x="341.20" y="290.65" font-size="7.6" text-anchor="end" textLength="14.20" lengthAdjust="spacingAndGlyphs">100</text>
<line x1="396.50" y1="286.50" x2="396.50" y2="355.60" stroke="#999" stroke-width="0.9" stroke-dasharray="2.9,1.6"/>
<text x="310.50" y="321.50" font-size="8.7" text-anchor="middle" textLength="56.00" lengthAdjust="spacingAndGlyphs" transform="rotate(-90 310.50 321.50)">Percentage of</text>
<text x="321.30" y="321.50" font-size="8.7" text-anchor="middle" textLength="64.80" lengthAdjust="spacingAndGlyphs" transform="rotate(-90 321.30 321.50)">CD49a<tspan dy="-3.5" font-size="6.3">+</tspan><tspan dy="3.5"> NK cells</tspan></text>
<path d="M361.10 355.60V352.89M359.50 355.60h3.20M359.50 352.89h3.20" stroke="#999" stroke-width="0.6" fill="none"/>
<circle cx="361.10" cy="334.61" r="2.15" fill="#a8d5a0" stroke="#4f6e4a" stroke-width="0.6"/>
<circle cx="357.60" cy="351.54" r="2.15" fill="#a8d5a0" stroke="#4f6e4a" stroke-width="0.6"/>
<circle cx="354.80" cy="355.26" r="2.15" fill="#a8d5a0" stroke="#4f6e4a" stroke-width="0.6"/>
<circle cx="358.00" cy="355.40" r="2.15" fill="#a8d5a0" stroke="#4f6e4a" stroke-width="0.6"/>
<circle cx="361.20" cy="355.26" r="2.15" fill="#a8d5a0" stroke="#4f6e4a" stroke-width="0.6"/>
<circle cx="364.40" cy="355.40" r="2.15" fill="#a8d5a0" stroke="#4f6e4a" stroke-width="0.6"/>
<circle cx="367.60" cy="355.26" r="2.15" fill="#a8d5a0" stroke="#4f6e4a" stroke-width="0.6"/>
<line x1="356.00" y1="354.92" x2="365.00" y2="354.92" stroke="#000" stroke-width="1.2"/>
<circle cx="383.80" cy="340.71" r="2.15" fill="#0c7474" stroke="#083c3c" stroke-width="0.6"/>
<circle cx="378.00" cy="355.40" r="2.15" fill="#0c7474" stroke="#083c3c" stroke-width="0.6"/>
<circle cx="381.00" cy="355.26" r="2.15" fill="#0c7474" stroke="#083c3c" stroke-width="0.6"/>
<circle cx="384.00" cy="355.40" r="2.15" fill="#0c7474" stroke="#083c3c" stroke-width="0.6"/>
<circle cx="387.00" cy="355.26" r="2.15" fill="#0c7474" stroke="#083c3c" stroke-width="0.6"/>
<circle cx="390.00" cy="355.40" r="2.15" fill="#0c7474" stroke="#083c3c" stroke-width="0.6"/>
<line x1="379.50" y1="355.06" x2="388.00" y2="355.06" stroke="#000" stroke-width="1.2"/>
<path d="M407.90 308.21V301.44M406.30 308.21h3.20M406.30 301.44h3.20" stroke="#999" stroke-width="0.6" fill="none"/>
<circle cx="402.00" cy="301.10" r="2.15" fill="#a8d5a0" stroke="#4f6e4a" stroke-width="0.6"/>
<circle cx="407.90" cy="300.76" r="2.15" fill="#a8d5a0" stroke="#4f6e4a" stroke-width="0.6"/>
<circle cx="413.80" cy="301.10" r="2.15" fill="#a8d5a0" stroke="#4f6e4a" stroke-width="0.6"/>
<circle cx="404.90" cy="303.81" r="2.15" fill="#a8d5a0" stroke="#4f6e4a" stroke-width="0.6"/>
<circle cx="410.90" cy="303.81" r="2.15" fill="#a8d5a0" stroke="#4f6e4a" stroke-width="0.6"/>
<circle cx="407.90" cy="311.60" r="2.15" fill="#a8d5a0" stroke="#4f6e4a" stroke-width="0.6"/>
<line x1="404.00" y1="304.15" x2="412.00" y2="304.15" stroke="#000" stroke-width="1.2"/>
<path d="M431.20 329.54V321.07M429.60 329.54h3.20M429.60 321.07h3.20" stroke="#999" stroke-width="0.6" fill="none"/>
<circle cx="431.20" cy="313.63" r="2.15" fill="#0c7474" stroke="#083c3c" stroke-width="0.6"/>
<circle cx="425.40" cy="322.43" r="2.15" fill="#0c7474" stroke="#083c3c" stroke-width="0.6"/>
<circle cx="436.80" cy="322.43" r="2.15" fill="#0c7474" stroke="#083c3c" stroke-width="0.6"/>
<circle cx="425.40" cy="329.87" r="2.15" fill="#0c7474" stroke="#083c3c" stroke-width="0.6"/>
<circle cx="436.80" cy="329.87" r="2.15" fill="#0c7474" stroke="#083c3c" stroke-width="0.6"/>
<circle cx="431.20" cy="327.84" r="2.15" fill="#0c7474" stroke="#083c3c" stroke-width="0.6"/>
<line x1="427.00" y1="325.47" x2="435.00" y2="325.47" stroke="#000" stroke-width="1.2"/>
<text x="516.60" y="264.90" font-size="8.7" text-anchor="middle" textLength="34.30" lengthAdjust="spacingAndGlyphs">No TGFβ</text>
<text x="567.80" y="264.90" font-size="8.7" text-anchor="middle" textLength="39.40" lengthAdjust="spacingAndGlyphs">Plus TGFβ</text>
<text x="567.80" y="274.70" font-size="8.7" text-anchor="middle" textLength="29.30" lengthAdjust="spacingAndGlyphs">(<tspan font-style="italic">t</tspan> = 7 d)</text>
<line x1="556.40" y1="285.50" x2="578.80" y2="285.50" stroke="#666" stroke-width="0.7"/>
<text x="568.10" y="287.90" font-size="12" text-anchor="middle">*</text>
<path d="M490.50 287.60V355.50H592.70M488.30 355.50H490.50M488.30 342.50H490.50M488.30 328.50H490.50M488.30 314.50H490.50M488.30 301.50H490.50M488.30 287.50H490.50" fill="none" stroke="#8a8a8a" stroke-width="0.8"/>
<text x="487.00" y="358.35" font-size="7.6" text-anchor="end" textLength="4.73" lengthAdjust="spacingAndGlyphs">0</text>
<text x="487.00" y="344.75" font-size="7.6" text-anchor="end" textLength="9.47" lengthAdjust="spacingAndGlyphs">20</text>
<text x="487.00" y="331.15" font-size="7.6" text-anchor="end" textLength="9.47" lengthAdjust="spacingAndGlyphs">40</text>
<text x="487.00" y="317.55" font-size="7.6" text-anchor="end" textLength="9.47" lengthAdjust="spacingAndGlyphs">60</text>
<text x="487.00" y="303.95" font-size="7.6" text-anchor="end" textLength="9.47" lengthAdjust="spacingAndGlyphs">80</text>
<text x="487.00" y="290.35" font-size="7.6" text-anchor="end" textLength="14.20" lengthAdjust="spacingAndGlyphs">100</text>
<line x1="542.50" y1="286.50" x2="542.50" y2="355.60" stroke="#aaa" stroke-width="0.9" stroke-dasharray="2.9,1.6"/>
<text x="456.40" y="321.50" font-size="8.7" text-anchor="middle" textLength="56.00" lengthAdjust="spacingAndGlyphs" transform="rotate(-90 456.40 321.50)">Percentage of</text>
<text x="467.30" y="321.50" font-size="8.7" text-anchor="middle" textLength="66.00" lengthAdjust="spacingAndGlyphs" transform="rotate(-90 467.30 321.50)">CD103<tspan dy="-3.5" font-size="6.3">+</tspan><tspan dy="3.5"> NK cells</tspan></text>
<path d="M506.40 354.24V350.16M504.80 354.24h3.20M504.80 350.16h3.20" stroke="#999" stroke-width="0.6" fill="none"/>
<circle cx="506.40" cy="345.40" r="2.15" fill="#a8d5a0" stroke="#4f6e4a" stroke-width="0.6"/>
<circle cx="500.60" cy="354.92" r="2.15" fill="#a8d5a0" stroke="#4f6e4a" stroke-width="0.6"/>
<circle cx="512.30" cy="350.84" r="2.15" fill="#a8d5a0" stroke="#4f6e4a" stroke-width="0.6"/>
<circle cx="512.30" cy="354.92" r="2.15" fill="#a8d5a0" stroke="#4f6e4a" stroke-width="0.6"/>
<circle cx="506.40" cy="352.88" r="2.15" fill="#a8d5a0" stroke="#4f6e4a" stroke-width="0.6"/>
<line x1="503.00" y1="352.20" x2="510.50" y2="352.20" stroke="#000" stroke-width="1.2"/>
<circle cx="530.30" cy="345.40" r="2.15" fill="#0c7474" stroke="#083c3c" stroke-width="0.6"/>
<circle cx="525.50" cy="351.52" r="2.15" fill="#0c7474" stroke="#083c3c" stroke-width="0.6"/>
<circle cx="533.50" cy="352.54" r="2.15" fill="#0c7474" stroke="#083c3c" stroke-width="0.6"/>
<circle cx="524.50" cy="354.92" r="2.15" fill="#0c7474" stroke="#083c3c" stroke-width="0.6"/>
<circle cx="530.30" cy="354.58" r="2.15" fill="#0c7474" stroke="#083c3c" stroke-width="0.6"/>
<circle cx="536.00" cy="354.58" r="2.15" fill="#0c7474" stroke="#083c3c" stroke-width="0.6"/>
<line x1="526.50" y1="354.24" x2="534.50" y2="354.24" stroke="#000" stroke-width="1.2"/>
<path d="M553.60 314.80V293.04M552.00 314.80h3.20M552.00 293.04h3.20" stroke="#888" stroke-width="0.6" fill="none"/>
<circle cx="547.80" cy="291.00" r="2.15" fill="#a8d5a0" stroke="#4f6e4a" stroke-width="0.6"/>
<circle cx="547.80" cy="295.76" r="2.15" fill="#a8d5a0" stroke="#4f6e4a" stroke-width="0.6"/>
<circle cx="559.50" cy="293.04" r="2.15" fill="#a8d5a0" stroke="#4f6e4a" stroke-width="0.6"/>
<circle cx="547.80" cy="300.52" r="2.15" fill="#a8d5a0" stroke="#4f6e4a" stroke-width="0.6"/>
<circle cx="559.50" cy="300.52" r="2.15" fill="#a8d5a0" stroke="#4f6e4a" stroke-width="0.6"/>
<circle cx="553.60" cy="314.80" r="2.15" fill="#a8d5a0" stroke="#4f6e4a" stroke-width="0.6"/>
<circle cx="553.60" cy="327.38" r="2.15" fill="#a8d5a0" stroke="#4f6e4a" stroke-width="0.6"/>
<line x1="550.00" y1="299.84" x2="557.50" y2="299.84" stroke="#000" stroke-width="1.2"/>
<path d="M577.50 340.64V306.30M575.90 340.64h3.20M575.90 306.30h3.20" stroke="#888" stroke-width="0.6" fill="none"/>
<circle cx="571.90" cy="305.96" r="2.15" fill="#0c7474" stroke="#083c3c" stroke-width="0.6"/>
<circle cx="583.30" cy="306.30" r="2.15" fill="#0c7474" stroke="#083c3c" stroke-width="0.6"/>
<circle cx="577.50" cy="313.44" r="2.15" fill="#0c7474" stroke="#083c3c" stroke-width="0.6"/>
<circle cx="577.50" cy="333.16" r="2.15" fill="#0c7474" stroke="#083c3c" stroke-width="0.6"/>
<circle cx="571.90" cy="341.32" r="2.15" fill="#0c7474" stroke="#083c3c" stroke-width="0.6"/>
<circle cx="583.30" cy="341.32" r="2.15" fill="#0c7474" stroke="#083c3c" stroke-width="0.6"/>
<circle cx="577.50" cy="322.62" r="2.15" fill="#0c7474" stroke="#083c3c" stroke-width="0.6"/>
<line x1="573.50" y1="322.62" x2="581.50" y2="322.62" stroke="#000" stroke-width="1.2"/>
<circle cx="594.10" cy="281.10" r="1.8" fill="#a8d5a0" stroke="#4f6e4a" stroke-width="0.6"/>
<text x="600.70" y="283.20" font-size="8.7" textLength="73.10" lengthAdjust="spacingAndGlyphs">CD56<tspan dy="-3.5" font-size="6.3">bright</tspan><tspan dy="3.5"> NK cells</tspan></text>
<circle cx="594.10" cy="293.00" r="1.8" fill="#0c7474" stroke="#083c3c" stroke-width="0.6"/>
<text x="600.70" y="295.20" font-size="8.7" textLength="67.90" lengthAdjust="spacingAndGlyphs">CD56<tspan dy="-3.5" font-size="6.3">dim</tspan><tspan dy="3.5"> NK cells</tspan></text>
<polygon points="45.40,475.90 48.00,470.00 49.50,455.00 50.50,430.00 51.50,405.00 52.50,395.00 53.20,393.90 54.00,396.00 55.00,394.50 56.00,400.00 57.00,420.00 58.00,438.00 59.50,448.00 61.00,453.00 62.80,457.60 64.00,461.00 65.80,463.70 68.00,468.00 70.90,473.90 73.00,475.90" fill="#cfe5c8" fill-opacity="1" stroke="#8db383" stroke-width="0.6" stroke-linejoin="round"/>
<polygon points="70.90,475.90 74.00,471.00 76.00,465.70 78.00,458.00 80.10,445.30 82.00,425.00 84.20,404.50 85.30,396.00 86.20,394.30 87.30,396.00 88.30,404.00 89.50,420.00 91.30,445.30 92.80,460.00 94.40,469.80 96.40,475.90" fill="#3b9997" fill-opacity="0.56" stroke="#1d5656" stroke-width="0.6" stroke-linejoin="round"/>
<polygon points="49.00,475.90 50.50,473.50 51.50,472.60 53.00,473.80 55.00,475.90" fill="#3b9997" fill-opacity="0.56" stroke="#1d5656" stroke-width="0.6" stroke-linejoin="round"/>
<polygon points="71.00,475.90 75.00,470.00 80.00,466.00 84.20,463.70 87.00,464.00 90.00,466.50 93.00,471.00 95.50,475.90" fill="#6aa27a" fill-opacity="0.45" stroke="#5d9a6b" stroke-width="0.6" stroke-linejoin="round"/>
<rect x="33.50" y="385.50" width="93.00" height="90.00" fill="none" stroke="#9a9a9a" stroke-width="0.8"/>
<path d="M35.73 475.90v0.7M37.66 475.90v0.7M39.59 475.90v0.7M41.52 475.90v0.7M43.45 475.90v0.7M45.38 475.90v0.7M47.30 475.90v0.7M49.23 475.90v1.3M51.16 475.90v0.7M53.09 475.90v0.7M55.02 475.90v0.7M56.95 475.90v0.7M58.88 475.90v0.7M60.81 475.90v0.7M62.74 475.90v0.7M64.67 475.90v1.3M66.60 475.90v0.7M68.53 475.90v0.7M70.45 475.90v0.7M72.38 475.90v0.7M74.31 475.90v0.7M76.24 475.90v0.7M78.17 475.90v0.7M80.10 475.90v1.3M82.03 475.90v0.7M83.96 475.90v0.7M85.89 475.90v0.7M87.82 475.90v0.7M89.75 475.90v0.7M91.68 475.90v0.7M93.60 475.90v0.7M95.53 475.90v1.3M97.46 475.90v0.7M99.39 475.90v0.7M101.32 475.90v0.7M103.25 475.90v0.7M105.18 475.90v0.7M107.11 475.90v0.7M109.04 475.90v0.7M110.97 475.90v1.3M112.90 475.90v0.7M114.83 475.90v0.7M116.75 475.90v0.7M118.68 475.90v0.7M120.61 475.90v0.7M122.54 475.90v0.7M124.47 475.90v0.7" stroke="#555" stroke-width="0.3"/>
<line x1="34.20" y1="487.50" x2="88.60" y2="487.50" stroke="#000" stroke-width="0.8"/>
<polygon points="90.80,487.50 87.80,486.15 87.80,488.85" fill="#000"/>
<text x="93.40" y="490.20" font-size="8.7" textLength="37.70" lengthAdjust="spacingAndGlyphs">Runx3-PE</text>
<rect x="34" y="501.2" width="5.8" height="5.7" fill="#d8e9d2" stroke="#9dc193" stroke-width="0.6"/>
<text x="43.20" y="507.00" font-size="8.7" textLength="54.20" lengthAdjust="spacingAndGlyphs">Runx3 sgRNA</text>
<rect x="34" y="514.8" width="5.8" height="5.7" fill="#8ec3c1" stroke="#3e7f7e" stroke-width="0.6"/>
<text x="43.20" y="520.60" font-size="8.7" textLength="66.10" lengthAdjust="spacingAndGlyphs">Negative control</text>
<path d="M192.50 381.50V492.50H265.90M188.30 492.50H192.50M188.30 470.50H192.50M188.30 447.50H192.50M188.30 425.50H192.50M188.30 403.50H192.50M188.30 381.50H192.50" fill="none" stroke="#8a8a8a" stroke-width="0.8"/>
<text x="185.20" y="495.05" font-size="7.8" text-anchor="end" textLength="4.86" lengthAdjust="spacingAndGlyphs">0</text>
<text x="185.20" y="472.89" font-size="7.8" text-anchor="end" textLength="9.71" lengthAdjust="spacingAndGlyphs">20</text>
<text x="185.20" y="450.73" font-size="7.8" text-anchor="end" textLength="9.71" lengthAdjust="spacingAndGlyphs">40</text>
<text x="185.20" y="428.57" font-size="7.8" text-anchor="end" textLength="9.71" lengthAdjust="spacingAndGlyphs">60</text>
<text x="185.20" y="406.41" font-size="7.8" text-anchor="end" textLength="9.71" lengthAdjust="spacingAndGlyphs">80</text>
<text x="185.20" y="384.25" font-size="7.8" text-anchor="end" textLength="14.57" lengthAdjust="spacingAndGlyphs">100</text>
<line x1="213.30" y1="492.30" x2="213.30" y2="496.60" stroke="#8a8a8a" stroke-width="0.6"/>
<line x1="245.30" y1="492.30" x2="245.30" y2="496.60" stroke="#8a8a8a" stroke-width="0.6"/>
<text x="156.20" y="436.90" font-size="8.7" text-anchor="middle" textLength="86.00" lengthAdjust="spacingAndGlyphs" transform="rotate(-90 156.20 436.90)">Percentage of Runx3<tspan dy="-3.5" font-size="6.3">+</tspan></text>
<text x="167.20" y="436.90" font-size="8.7" text-anchor="middle" textLength="72.30" lengthAdjust="spacingAndGlyphs" transform="rotate(-90 167.20 436.90)">CD56<tspan dy="-3.5" font-size="6.3">bright</tspan><tspan dy="3.5"> NK cells</tspan></text>
<line x1="213.30" y1="384.82" x2="245.00" y2="400.34" stroke="#222" stroke-width="0.7"/>
<line x1="213.30" y1="386.49" x2="245.00" y2="442.44" stroke="#222" stroke-width="0.7"/>
<line x1="213.30" y1="388.15" x2="245.00" y2="474.57" stroke="#222" stroke-width="0.7"/>
<line x1="213.30" y1="389.81" x2="245.00" y2="482.33" stroke="#222" stroke-width="0.7"/>
<circle cx="213.30" cy="384.82" r="3.2" fill="#0c7474" stroke="#083c3c" stroke-width="0.7"/>
<circle cx="213.30" cy="386.49" r="3.2" fill="#0c7474" stroke="#083c3c" stroke-width="0.7"/>
<circle cx="213.30" cy="388.15" r="3.2" fill="#0c7474" stroke="#083c3c" stroke-width="0.7"/>
<circle cx="213.30" cy="389.81" r="3.2" fill="#0c7474" stroke="#083c3c" stroke-width="0.7"/>
<circle cx="245.00" cy="400.34" r="3.2" fill="#a8d5a0" stroke="#4f6e4a" stroke-width="0.7"/>
<circle cx="245.00" cy="442.44" r="3.2" fill="#a8d5a0" stroke="#4f6e4a" stroke-width="0.7"/>
<circle cx="245.00" cy="474.57" r="3.2" fill="#a8d5a0" stroke="#4f6e4a" stroke-width="0.7"/>
<circle cx="245.00" cy="482.33" r="3.2" fill="#a8d5a0" stroke="#4f6e4a" stroke-width="0.7"/>
<text x="219.00" y="503.60" font-size="8.7" text-anchor="end" textLength="67.00" lengthAdjust="spacingAndGlyphs" transform="rotate(-45 219.00 503.60)">Negative control</text>
<text x="251.10" y="505.00" font-size="8.7" text-anchor="end" textLength="52.80" lengthAdjust="spacingAndGlyphs" transform="rotate(-45 251.10 505.00)">Runx3 sgRNA</text>
<polygon points="332.00,477.70 333.50,470.00 334.70,440.00 335.70,418.00 336.20,412.30 337.00,420.00 338.00,440.00 339.50,458.00 341.00,466.00 343.70,468.50 347.00,468.00 349.50,466.50 351.00,468.00 355.00,469.80 359.00,468.50 363.00,465.00 366.00,462.00 368.00,458.00 370.30,448.50 372.00,444.00 373.50,441.00 376.00,438.00 378.50,434.00 379.90,432.50 381.00,435.00 382.50,444.00 384.00,452.00 385.30,460.30 387.00,466.00 389.00,471.00 391.60,476.20 393.00,477.70" fill="#66b0b0" fill-opacity="0.8" stroke="#3b7a7a" stroke-width="0.6" stroke-linejoin="round"/>
<polygon points="332.00,477.70 333.50,470.00 334.50,440.00 335.50,410.00 336.20,392.50 337.00,405.00 338.00,430.00 339.50,455.00 341.00,464.00 343.70,468.80 347.00,470.00 350.10,469.50 353.00,471.00 355.40,470.90 359.00,469.50 362.00,467.00 363.90,465.60 366.00,462.00 369.00,459.00 372.00,456.00 374.60,454.90 376.70,454.00 379.00,456.00 382.00,460.00 385.00,466.00 387.00,471.00 389.50,475.20 391.00,477.70" fill="#99c08a" fill-opacity="0.5" stroke="#8aa870" stroke-width="0.6" stroke-linejoin="round"/>
<rect x="319.50" y="386.50" width="91.00" height="91.00" fill="none" stroke="#9a9a9a" stroke-width="0.8"/>
<path d="M321.10 477.70v0.7M323.00 477.70v0.7M324.90 477.70v0.7M326.80 477.70v0.7M328.70 477.70v0.7M330.60 477.70v0.7M332.50 477.70v0.7M334.40 477.70v1.3M336.30 477.70v0.7M338.20 477.70v0.7M340.10 477.70v0.7M342.00 477.70v0.7M343.90 477.70v0.7M345.80 477.70v0.7M347.70 477.70v0.7M349.60 477.70v1.3M351.50 477.70v0.7M353.40 477.70v0.7M355.30 477.70v0.7M357.20 477.70v0.7M359.10 477.70v0.7M361.00 477.70v0.7M362.90 477.70v0.7M364.80 477.70v1.3M366.70 477.70v0.7M368.60 477.70v0.7M370.50 477.70v0.7M372.40 477.70v0.7M374.30 477.70v0.7M376.20 477.70v0.7M378.10 477.70v0.7M380.00 477.70v1.3M381.90 477.70v0.7M383.80 477.70v0.7M385.70 477.70v0.7M387.60 477.70v0.7M389.50 477.70v0.7M391.40 477.70v0.7M393.30 477.70v0.7M395.20 477.70v1.3M397.10 477.70v0.7M399.00 477.70v0.7M400.90 477.70v0.7M402.80 477.70v0.7M404.70 477.70v0.7M406.60 477.70v0.7M408.50 477.70v0.7" stroke="#555" stroke-width="0.3"/>
<line x1="318.10" y1="489.50" x2="358.10" y2="489.50" stroke="#000" stroke-width="0.8"/>
<polygon points="360.30,489.50 357.30,488.15 357.30,490.85" fill="#000"/>
<text x="362.90" y="491.90" font-size="8.7" textLength="54.30" lengthAdjust="spacingAndGlyphs">CD103-PeCy7</text>
<rect x="305.2" y="506.3" width="6.3" height="6" fill="#d8e9d2" stroke="#9dc193" stroke-width="0.6"/>
<text x="315.40" y="512.90" font-size="8.7">Runx3<tspan dy="-3.5" font-size="6.3">−</tspan><tspan dy="3.5"> CD56</tspan><tspan dy="-3.5" font-size="6.3">bright</tspan><tspan dy="3.5"> NK cells</tspan></text>
<rect x="305.2" y="517.3" width="6.3" height="6" fill="#8ec3c1" stroke="#3e7f7e" stroke-width="0.6"/>
<text x="315.40" y="523.90" font-size="8.7">Runx3<tspan dy="-3.5" font-size="6.3">+</tspan><tspan dy="3.5"> CD56</tspan><tspan dy="-3.5" font-size="6.3">bright</tspan><tspan dy="3.5"> NK cells</tspan></text>
<path d="M473.50 384.60V501.50H550.20M468.70 501.50H473.50M468.70 472.50H473.50M468.70 443.50H473.50M468.70 413.50H473.50M468.70 384.50H473.50" fill="none" stroke="#8a8a8a" stroke-width="0.8"/>
<text x="465.70" y="504.25" font-size="7.8" text-anchor="end" textLength="4.86" lengthAdjust="spacingAndGlyphs">0</text>
<text x="465.70" y="475.02" font-size="7.8" text-anchor="end" textLength="9.71" lengthAdjust="spacingAndGlyphs">20</text>
<text x="465.70" y="445.80" font-size="7.8" text-anchor="end" textLength="9.71" lengthAdjust="spacingAndGlyphs">40</text>
<text x="465.70" y="416.58" font-size="7.8" text-anchor="end" textLength="9.71" lengthAdjust="spacingAndGlyphs">60</text>
<text x="465.70" y="387.35" font-size="7.8" text-anchor="end" textLength="9.71" lengthAdjust="spacingAndGlyphs">80</text>
<line x1="495.20" y1="501.50" x2="495.20" y2="505.80" stroke="#8a8a8a" stroke-width="0.6"/>
<line x1="528.60" y1="501.50" x2="528.60" y2="505.80" stroke="#8a8a8a" stroke-width="0.6"/>
<text x="438.40" y="442.50" font-size="8.7" text-anchor="middle" textLength="89.50" lengthAdjust="spacingAndGlyphs" transform="rotate(-90 438.40 442.50)">Percentage of CD103<tspan dy="-3.5" font-size="6.3">+</tspan></text>
<text x="448.70" y="442.50" font-size="8.7" text-anchor="middle" textLength="74.00" lengthAdjust="spacingAndGlyphs" transform="rotate(-90 448.70 442.50)">CD56<tspan dy="-3.5" font-size="6.3">bright</tspan><tspan dy="3.5"> NK cells</tspan></text>
<line x1="495.20" y1="400.82" x2="528.60" y2="427.27" stroke="#333" stroke-width="0.6"/>
<line x1="495.20" y1="404.62" x2="528.60" y2="430.92" stroke="#333" stroke-width="0.6"/>
<line x1="495.20" y1="407.98" x2="528.60" y2="438.52" stroke="#333" stroke-width="0.6"/>
<line x1="495.20" y1="412.36" x2="528.60" y2="453.42" stroke="#333" stroke-width="0.6"/>
<line x1="495.20" y1="419.82" x2="528.60" y2="423.03" stroke="#333" stroke-width="0.6"/>
<circle cx="495.20" cy="400.82" r="3.3" fill="#0c7474" stroke="#083c3c" stroke-width="0.7"/>
<circle cx="495.20" cy="404.62" r="3.3" fill="#0c7474" stroke="#083c3c" stroke-width="0.7"/>
<circle cx="495.20" cy="407.98" r="3.3" fill="#0c7474" stroke="#083c3c" stroke-width="0.7"/>
<circle cx="495.20" cy="412.36" r="3.3" fill="#0c7474" stroke="#083c3c" stroke-width="0.7"/>
<circle cx="495.20" cy="419.82" r="3.3" fill="#0c7474" stroke="#083c3c" stroke-width="0.7"/>
<circle cx="528.60" cy="453.42" r="3.3" fill="#a8d5a0" stroke="#4f6e4a" stroke-width="0.7"/>
<circle cx="528.60" cy="438.52" r="3.3" fill="#a8d5a0" stroke="#4f6e4a" stroke-width="0.7"/>
<circle cx="528.60" cy="430.92" r="3.3" fill="#a8d5a0" stroke="#4f6e4a" stroke-width="0.7"/>
<circle cx="528.60" cy="427.27" r="3.3" fill="#a8d5a0" stroke="#4f6e4a" stroke-width="0.7"/>
<circle cx="528.60" cy="423.03" r="3.3" fill="#a8d5a0" stroke="#4f6e4a" stroke-width="0.7"/>
<text x="499.00" y="514.50" font-size="8.7" text-anchor="end" transform="rotate(-45 499.00 514.50)">Runx3<tspan dy="-3.5" font-size="6.3">+</tspan><tspan dy="3.5"> CD56</tspan><tspan dy="-3.5" font-size="6.3">bright</tspan></text>
<text x="507.00" y="522.50" font-size="8.7" text-anchor="end" transform="rotate(-45 507.00 522.50)">NK cells</text>
<text x="532.40" y="514.50" font-size="8.7" text-anchor="end" transform="rotate(-45 532.40 514.50)">Runx3<tspan dy="-3.5" font-size="6.3">−</tspan><tspan dy="3.5"> CD56</tspan><tspan dy="-3.5" font-size="6.3">bright</tspan></text>
<text x="540.40" y="522.50" font-size="8.7" text-anchor="end" transform="rotate(-45 540.40 522.50)">NK cells</text>
</svg></body></html>
